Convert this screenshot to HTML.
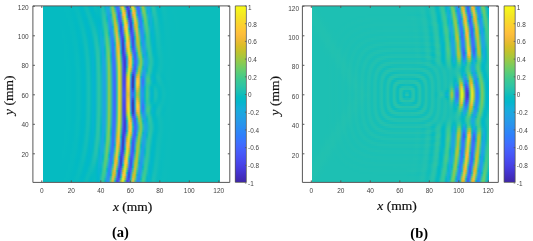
<!DOCTYPE html>
<html><head><meta charset="utf-8"><title>Wavefield figure</title>
<style>
html,body{margin:0;padding:0;background:#fff}
#f{position:relative;width:533px;height:241px;overflow:hidden;background:#fff}
.hm{position:absolute;overflow:hidden}
.hm .in{position:absolute;filter:blur(0.7px)}
.hm .in div{position:absolute;left:0;width:100%}
svg{position:absolute;left:0;top:0}
.t{font:6.5px "Liberation Sans",sans-serif;fill:#444}
.c{font:6.4px "Liberation Sans",sans-serif;fill:#444}
.l{font:13.5px "Liberation Serif",serif;fill:#111;stroke:#111;stroke-width:0.2px}
.b{font:bold 14.5px "Liberation Serif",serif;fill:#000}
</style></head><body><div id="f">
<div class="hm" style="left:42.5px;top:5.9px;width:177.1px;height:176.5px"><div class="in" style="left:-4px;top:-4px;width:184px;height:184.5px"><div style="top:0px;height:2.6px;background:linear-gradient(90deg,#05bbc1,#05bbc1,#05bbc1,#05bbc1,#05bbc1,#05bbc1,#05bbc1,#05bbc1,#05bbc1,#05bbc1,#05bbc1,#05bbc1,#05bbc1,#06bcc0,#06bbc1,#05bbc1,#04bbc1,#06bcc0,#08bcbe,#07bcbf,#02bac4,#01bac5,#06bcc0,#12beb9,#0cbdbc,#01b9c6,#01b8c9,#06bcc0,#10beba,#06bcc0,#02bac3,#17bfb6,#23c1af,#01b8c8,#1da8e0,#03b7cc,#60cd72,#80cc59,#13b0d7,#4561fc,#269ae9,#d4bf27,#fec934,#03b7cc,#4230c4,#3f6fff,#c6c22a,#fad52d,#28c3ab,#4759f9,#307ffb,#4acb85,#adc638,#2dc4a5,#21a3e3,#1caadf,#1cc0b4,#31c6a0,#1cc0b4,#01bac5,#02bac4,#0cbdbc,#12beb9,#0ebebb,#0abdbd,#0abdbd,#0bbdbc,#0cbdbc,#0cbdbc,#0bbdbc,#0bbdbc,#0bbdbc,#0bbdbc,#0bbdbc,#0bbdbc,#0bbdbc,#0bbdbc,#0bbdbc,#0bbdbc,#0bbdbc,#0bbdbc,#0bbdbc,#0bbdbc,#0bbdbc,#0bbdbc,#0bbdbc,#0bbdbc,#0bbdbc,#0bbdbc,#0bbdbc,#0bbdbc,#0bbdbc,#0bbdbc)"></div><div style="top:2px;height:2.6px;background:linear-gradient(90deg,#05bbc1,#05bbc1,#05bbc1,#05bbc1,#05bbc1,#05bbc1,#05bbc1,#05bbc1,#05bbc1,#05bbc1,#05bbc1,#05bbc1,#05bbc1,#06bcc0,#06bbc1,#05bbc1,#04bbc1,#06bcc0,#08bcbe,#07bcbf,#02bac4,#01bac5,#06bcc0,#12beb9,#0cbdbc,#01b9c6,#01b8c9,#06bcc0,#10beba,#06bcc0,#02bac3,#17bfb6,#23c1af,#01b8c8,#1da8e0,#03b7cc,#60cd72,#80cc59,#13b0d7,#4561fc,#269ae9,#d4bf27,#fec934,#03b7cc,#4230c4,#3f6fff,#c6c22a,#fad52d,#28c3ab,#4759f9,#307ffb,#4acb85,#adc638,#2dc4a5,#21a3e3,#1caadf,#1cc0b4,#31c6a0,#1cc0b4,#01bac5,#02bac4,#0cbdbc,#12beb9,#0ebebb,#0abdbd,#0abdbd,#0bbdbc,#0cbdbc,#0cbdbc,#0bbdbc,#0bbdbc,#0bbdbc,#0bbdbc,#0bbdbc,#0bbdbc,#0bbdbc,#0bbdbc,#0bbdbc,#0bbdbc,#0bbdbc,#0bbdbc,#0bbdbc,#0bbdbc,#0bbdbc,#0bbdbc,#0bbdbc,#0bbdbc,#0bbdbc,#0bbdbc,#0bbdbc,#0bbdbc,#0bbdbc,#0bbdbc)"></div><div style="top:4px;height:2.6px;background:linear-gradient(90deg,#05bbc1,#05bbc1,#05bbc1,#05bbc1,#05bbc1,#05bbc1,#05bbc1,#05bbc1,#05bbc1,#05bbc1,#05bbc1,#05bbc1,#05bbc1,#06bcc0,#06bcc0,#05bbc1,#04bbc2,#05bbc1,#08bcbf,#08bcbf,#02bbc3,#01b9c6,#04bbc2,#10beba,#0fbeba,#02bac4,#01b8c9,#04bbc2,#0fbebb,#07bcbf,#02bbc3,#15bfb7,#25c2ae,#01bac5,#1da8e0,#0bb3d2,#55cc7b,#8ecb4f,#02b7cb,#4563fc,#2d8df3,#b7c532,#fcd130,#1dc0b3,#4535d2,#465dfa,#9cc944,#f8d92b,#3dc990,#4562fc,#3975fe,#36c898,#acc738,#35c79a,#1ea7e1,#1da8e0,#13beb9,#30c5a1,#1fc0b2,#02bac4,#02bac5,#0bbdbd,#12beb9,#0fbebb,#0abdbd,#0abdbd,#0bbdbc,#0cbdbc,#0cbdbc,#0bbdbc,#0bbdbc,#0bbdbc,#0bbdbc,#0bbdbc,#0bbdbc,#0bbdbc,#0bbdbc,#0bbdbc,#0bbdbc,#0bbdbc,#0bbdbc,#0bbdbc,#0bbdbc,#0bbdbc,#0bbdbc,#0bbdbc,#0bbdbc,#0bbdbc,#0bbdbc,#0bbdbc,#0bbdbc,#0bbdbc,#0bbdbc)"></div><div style="top:6px;height:2.6px;background:linear-gradient(90deg,#05bbc1,#05bbc1,#05bbc1,#05bbc1,#05bbc1,#05bbc1,#05bbc1,#05bbc1,#05bbc1,#05bbc1,#05bbc1,#05bbc1,#05bbc1,#06bcc0,#06bcc0,#05bbc1,#04bbc2,#05bbc1,#08bcbf,#09bdbe,#05bbc1,#01b9c6,#02bac4,#0bbdbc,#13beb8,#06bcc0,#01b8c8,#01bac5,#0abdbd,#09bcbe,#03bbc2,#13beb8,#27c2ac,#08bcbf,#1da9e0,#19addc,#3eca8f,#a0c841,#24c1ae,#406cfe,#3b72fe,#6ccd68,#f8d92c,#5dcc75,#484aee,#4741e5,#40ca8d,#f9d82c,#8acb52,#337afd,#4466fd,#13beb9,#a1c840,#4bcb84,#16afda,#1fa6e2,#04bbc2,#2ec4a5,#24c1ae,#05bbc1,#02bac5,#09bcbe,#11beba,#0fbeba,#0bbdbd,#0abdbd,#0bbdbd,#0cbdbc,#0cbdbc,#0bbdbc,#0bbdbc,#0bbdbc,#0bbdbc,#0bbdbc,#0bbdbc,#0bbdbc,#0bbdbc,#0bbdbc,#0bbdbc,#0bbdbc,#0bbdbc,#0bbdbc,#0bbdbc,#0bbdbc,#0bbdbc,#0bbdbc,#0bbdbc,#0bbdbc,#0bbdbc,#0bbdbc,#0bbdbc,#0bbdbc,#0bbdbc)"></div><div style="top:8px;height:2.6px;background:linear-gradient(90deg,#05bbc1,#05bbc1,#05bbc1,#05bbc1,#05bbc1,#05bbc1,#05bbc1,#05bbc1,#05bbc1,#05bbc1,#05bbc1,#05bbc1,#05bbc1,#06bcc1,#06bcc0,#06bcc1,#04bbc1,#04bbc2,#06bcc0,#0abdbe,#07bcbf,#02bac5,#01b9c6,#07bcc0,#13beb8,#0cbdbc,#01b9c6,#01b9c7,#06bcc0,#08bcbf,#04bbc2,#11beb9,#28c3ab,#13beb8,#1babde,#1fa6e2,#2fc5a2,#a7c73c,#3fca8e,#327cfc,#465efb,#30c5a1,#f9d62d,#b5c533,#4367fd,#4332c9,#03bbc2,#fdcd31,#cbc129,#2994ed,#4660fb,#0db3d3,#8acb52,#62cd71,#05b6ce,#1fa6e2,#01b8c9,#2ac3a9,#27c2ac,#09bdbe,#02bac4,#07bcbf,#0fbeba,#0fbeba,#0cbdbc,#0abdbd,#0bbdbd,#0cbdbc,#0cbdbc,#0bbdbc,#0bbdbc,#0bbdbc,#0bbdbc,#0bbdbc,#0bbdbc,#0bbdbc,#0bbdbc,#0bbdbc,#0bbdbc,#0bbdbc,#0bbdbc,#0bbdbc,#0bbdbc,#0bbdbc,#0bbdbc,#0bbdbc,#0bbdbc,#0bbdbc,#0bbdbc,#0bbdbc,#0bbdbc,#0bbdbc,#0bbdbc)"></div><div style="top:10px;height:2.6px;background:linear-gradient(90deg,#05bbc1,#05bbc1,#05bbc1,#05bbc1,#05bbc1,#05bbc1,#05bbc1,#05bbc1,#05bbc1,#05bbc1,#05bbc1,#05bbc1,#05bbc1,#05bbc1,#06bcc0,#06bcc0,#05bbc1,#03bbc2,#05bbc1,#09bcbe,#0abdbe,#02bbc3,#01b9c7,#02bbc3,#10beba,#12beb9,#03bbc2,#01b9c7,#02bac3,#06bcc0,#04bbc2,#10beba,#29c3aa,#1ec0b2,#17aedb,#23a0e5,#1ac0b5,#a4c83e,#6bcd69,#2c8ff1,#4852f4,#02b7cb,#fdcb33,#efba35,#2d8af4,#412cb9,#22a2e4,#fbbc3d,#f1ba37,#1aabdd,#4660fc,#21a4e3,#6acd6a,#73cd63,#06bcc0,#1ea7e1,#07b5d0,#24c1ae,#28c3ab,#0ebebb,#02bac4,#06bcc0,#0ebdbb,#10beba,#0cbdbc,#0abdbd,#0bbdbd,#0cbdbc,#0cbdbc,#0bbdbc,#0bbdbc,#0bbdbc,#0bbdbc,#0bbdbc,#0bbdbc,#0bbdbc,#0bbdbc,#0bbdbc,#0bbdbc,#0bbdbc,#0bbdbc,#0bbdbc,#0bbdbc,#0bbdbc,#0bbdbc,#0bbdbc,#0bbdbc,#0bbdbc,#0bbdbc,#0bbdbc,#0bbdbc,#0bbdbc,#0bbdbc)"></div><div style="top:12px;height:2.6px;background:linear-gradient(90deg,#05bbc1,#05bbc1,#05bbc1,#05bbc1,#05bbc1,#05bbc1,#05bbc1,#05bbc1,#05bbc1,#05bbc1,#05bbc1,#05bbc1,#05bbc1,#05bbc1,#06bcc0,#06bcc0,#05bbc1,#03bbc2,#04bbc2,#08bcbf,#0bbdbd,#05bbc1,#01b9c7,#01bac6,#0bbdbd,#14bfb8,#09bcbe,#01b9c6,#01bac5,#03bbc2,#03bbc3,#0ebdbb,#2ac3a9,#27c2ac,#11b2d5,#259de7,#01b9c6,#97ca48,#97ca48,#22a2e4,#484cf0,#22a1e4,#f9bb3d,#fec934,#1ca9df,#412dbc,#2e84f9,#d7be28,#fec13a,#07bcc0,#4367fd,#2895ec,#4acb85,#7ccc5c,#1dc0b3,#1baade,#0eb2d4,#1cc0b4,#28c3ab,#13beb8,#03bbc2,#05bbc1,#0dbdbc,#0fbeba,#0dbdbc,#0bbdbd,#0bbdbd,#0bbdbc,#0cbdbc,#0bbdbc,#0bbdbc,#0bbdbc,#0bbdbc,#0bbdbc,#0bbdbc,#0bbdbc,#0bbdbc,#0bbdbc,#0bbdbc,#0bbdbc,#0bbdbc,#0bbdbc,#0bbdbc,#0bbdbc,#0bbdbc,#0bbdbc,#0bbdbc,#0bbdbc,#0bbdbc,#0bbdbc,#0bbdbc,#0bbdbc,#0bbdbc)"></div><div style="top:14px;height:2.6px;background:linear-gradient(90deg,#05bbc1,#05bbc1,#05bbc1,#05bbc1,#05bbc1,#05bbc1,#05bbc1,#05bbc1,#05bbc1,#05bbc1,#05bbc1,#05bbc1,#05bbc1,#05bbc1,#06bcc0,#06bcc0,#06bcc0,#04bbc2,#03bbc2,#07bcc0,#0bbdbc,#08bcbf,#01bac5,#01b9c7,#06bcc0,#14beb8,#0ebebb,#02bac3,#01b9c6,#02bac5,#02bac4,#0abdbd,#2ac3a9,#2dc4a5,#06b5cf,#269be8,#10b2d5,#80cc59,#b6c532,#0cb3d3,#484ef1,#2e87f7,#d3bf27,#f8da2b,#11beb9,#4434cf,#4465fd,#9ac945,#fec835,#33c69d,#3b73fe,#2d88f6,#33c69d,#7ccc5c,#2dc4a6,#17aeda,#13b0d7,#12beb9,#27c2ab,#18bfb6,#05bbc1,#05bbc1,#0bbdbd,#0fbebb,#0dbdbc,#0bbdbd,#0bbdbd,#0bbdbc,#0cbdbc,#0cbdbc,#0bbdbc,#0bbdbc,#0bbdbc,#0bbdbc,#0bbdbc,#0bbdbc,#0bbdbc,#0bbdbc,#0bbdbc,#0bbdbc,#0bbdbc,#0bbdbc,#0bbdbc,#0bbdbc,#0bbdbc,#0bbdbc,#0bbdbc,#0bbdbc,#0bbdbc,#0bbdbc,#0bbdbc,#0bbdbc,#0bbdbc)"></div><div style="top:16px;height:2.6px;background:linear-gradient(90deg,#05bbc1,#05bbc1,#05bbc1,#05bbc1,#05bbc1,#05bbc1,#05bbc1,#05bbc1,#05bbc1,#05bbc1,#05bbc1,#05bbc1,#05bbc1,#05bbc1,#05bbc1,#06bcc0,#06bcc0,#04bbc2,#02bbc3,#05bbc1,#0bbdbd,#0bbdbd,#02bac3,#01b8c8,#02bac3,#11beba,#13beb8,#06bcc0,#01bac6,#01b9c6,#01b9c7,#07bcbf,#29c3aa,#31c6a0,#01b9c7,#269ae8,#1da9e0,#64cd6f,#cbc129,#16bfb7,#4855f6,#406dfe,#97ca48,#f5e327,#45cb89,#4743e7,#484ef1,#53cc7e,#fec934,#5ecd74,#2f83f9,#307ffb,#1ec0b2,#76cc61,#35c79a,#0fb2d4,#15afd9,#09bcbe,#26c2ad,#1bc0b4,#07bcc0,#05bbc1,#0abdbd,#0fbebb,#0dbdbb,#0bbdbd,#0bbdbd,#0bbdbc,#0cbdbc,#0cbdbc,#0bbdbc,#0bbdbc,#0bbdbc,#0bbdbc,#0bbdbc,#0bbdbc,#0bbdbc,#0bbdbc,#0bbdbc,#0bbdbc,#0bbdbc,#0bbdbc,#0bbdbc,#0bbdbc,#0bbdbc,#0bbdbc,#0bbdbc,#0bbdbc,#0bbdbc,#0bbdbc,#0bbdbc,#0bbdbc,#0bbdbc)"></div><div style="top:18px;height:2.6px;background:linear-gradient(90deg,#05bbc1,#05bbc1,#05bbc1,#05bbc1,#05bbc1,#05bbc1,#05bbc1,#05bbc1,#05bbc1,#05bbc1,#05bbc1,#05bbc1,#05bbc1,#05bbc1,#05bbc1,#06bcc0,#07bcc0,#05bbc1,#02bbc3,#04bbc2,#09bdbe,#0dbdbc,#05bbc1,#01b9c8,#01b9c6,#0bbdbc,#15bfb7,#0bbdbd,#02bac4,#01b9c7,#01b8c9,#03bbc2,#27c2ab,#35c79b,#0abdbe,#259ce7,#239fe5,#46cb88,#d5be28,#37c898,#4660fc,#4758f8,#50cc7f,#f5e427,#90ca4d,#4758f8,#463de0,#27c2ab,#fec338,#93ca4b,#2a93ee,#3579fd,#02bac4,#6acd6a,#3eca90,#05b6cd,#15afd9,#03bbc2,#23c1af,#1dc0b3,#09bcbe,#05bbc1,#09bdbe,#0ebdbb,#0dbdbb,#0bbdbc,#0bbdbd,#0bbdbc,#0cbdbc,#0cbdbc,#0bbdbc,#0bbdbc,#0bbdbc,#0bbdbc,#0bbdbc,#0bbdbc,#0bbdbc,#0bbdbc,#0bbdbc,#0bbdbc,#0bbdbc,#0bbdbc,#0bbdbc,#0bbdbc,#0bbdbc,#0bbdbc,#0bbdbc,#0bbdbc,#0bbdbc,#0bbdbc,#0bbdbc,#0bbdbc,#0bbdbc)"></div><div style="top:20px;height:2.6px;background:linear-gradient(90deg,#05bbc1,#05bbc1,#05bbc1,#05bbc1,#05bbc1,#05bbc1,#05bbc1,#05bbc1,#05bbc1,#05bbc1,#05bbc1,#06bbc1,#05bbc1,#05bbc1,#05bbc1,#06bcc0,#07bcc0,#06bcc1,#03bbc3,#02bbc3,#08bcbf,#0ebdbb,#08bcbf,#01b9c7,#01b8c8,#07bcbf,#15bfb7,#11beba,#05bbc1,#01b9c8,#02b7cb,#01b9c6,#24c2ae,#38c896,#1bc0b4,#249fe5,#2797eb,#32c69f,#d8be28,#5fcd73,#3c71ff,#4849ed,#26c2ac,#f6de29,#cfc028,#3b72ff,#4435d0,#05b6ce,#fabb3d,#bcc42f,#22a2e4,#3777fe,#0db3d4,#5bcc77,#47cb87,#01b9c6,#15afd9,#01b9c6,#1fc1b1,#1ec0b2,#0bbdbd,#05bbc1,#09bcbe,#0dbdbb,#0dbdbb,#0cbdbc,#0bbdbd,#0bbdbd,#0bbdbc,#0cbdbc,#0bbdbc,#0bbdbc,#0bbdbc,#0bbdbc,#0bbdbc,#0bbdbc,#0bbdbc,#0bbdbc,#0bbdbc,#0bbdbc,#0bbdbc,#0bbdbc,#0bbdbc,#0bbdbc,#0bbdbc,#0bbdbc,#0bbdbc,#0bbdbc,#0bbdbc,#0bbdbc,#0bbdbc,#0bbdbc,#0bbdbc)"></div><div style="top:22px;height:2.6px;background:linear-gradient(90deg,#05bbc1,#05bbc1,#05bbc1,#05bbc1,#05bbc1,#05bbc1,#05bbc1,#05bbc1,#05bbc1,#05bbc1,#05bbc1,#06bbc1,#05bbc1,#05bbc1,#05bbc1,#06bcc0,#07bcc0,#06bcc0,#03bbc2,#02bac3,#06bcc0,#0dbdbb,#0bbdbd,#02bac5,#01b8c9,#03bbc3,#12beb9,#15bfb7,#09bcbe,#01b9c7,#04b6cd,#01b8ca,#1fc0b1,#3ac994,#28c3aa,#21a3e3,#2b90ef,#1dc0b3,#d4bf27,#8fca4d,#2e85f8,#473fe2,#06b5cf,#fbd32e,#f7ba3c,#2d8df2,#4331c8,#21a3e3,#e6bb2d,#d7be28,#13b0d7,#3579fd,#1baade,#49cb85,#4ecc81,#08bcbe,#13b0d7,#01b8c9,#1bc0b4,#1ec0b2,#0dbdbb,#06bcc0,#08bcbe,#0dbdbc,#0dbdbb,#0cbdbc,#0bbdbd,#0bbdbd,#0bbdbc,#0cbdbc,#0bbdbc,#0bbdbc,#0bbdbc,#0bbdbc,#0bbdbc,#0bbdbc,#0bbdbc,#0bbdbc,#0bbdbc,#0bbdbc,#0bbdbc,#0bbdbc,#0bbdbc,#0bbdbc,#0bbdbc,#0bbdbc,#0bbdbc,#0bbdbc,#0bbdbc,#0bbdbc,#0bbdbc,#0bbdbc,#0bbdbc)"></div><div style="top:24px;height:2.6px;background:linear-gradient(90deg,#05bbc1,#05bbc1,#05bbc1,#05bbc1,#05bbc1,#05bbc1,#05bbc1,#05bbc1,#05bbc1,#05bbc1,#05bbc1,#06bbc1,#06bbc1,#05bbc1,#05bbc1,#05bbc1,#07bcc0,#07bcc0,#04bbc2,#02bac4,#04bbc2,#0cbdbc,#0ebdbb,#03bbc3,#01b8c9,#01b9c6,#0ebdbb,#18bfb6,#0fbebb,#02bac5,#05b6ce,#04b6cd,#18bfb6,#3bc992,#31c5a1,#1da9e0,#2d8bf3,#02bac5,#c9c129,#b7c532,#2797ea,#463adb,#22a2e4,#fec438,#fec934,#1fa5e2,#4332ca,#2c8ef1,#c7c12a,#e7bb2e,#02bac3,#317dfc,#22a2e4,#3bc993,#52cc7e,#15bfb7,#10b2d5,#03b7cc,#17bfb7,#1ec0b2,#0fbeba,#07bcc0,#08bcbf,#0cbdbc,#0dbdbb,#0cbdbc,#0bbdbd,#0bbdbd,#0bbdbc,#0cbdbc,#0bbdbc,#0bbdbc,#0bbdbc,#0bbdbc,#0bbdbc,#0bbdbc,#0bbdbc,#0bbdbc,#0bbdbc,#0bbdbc,#0bbdbc,#0bbdbc,#0bbdbc,#0bbdbc,#0bbdbc,#0bbdbc,#0bbdbc,#0bbdbc,#0bbdbc,#0bbdbc,#0bbdbc,#0bbdbc,#0bbdbc)"></div><div style="top:26px;height:2.6px;background:linear-gradient(90deg,#05bbc1,#05bbc1,#05bbc1,#05bbc1,#05bbc1,#05bbc1,#05bbc1,#05bbc1,#05bbc1,#05bbc1,#05bbc1,#06bbc1,#06bbc1,#05bbc1,#05bbc1,#05bbc1,#07bcc0,#07bcbf,#05bbc1,#02bac4,#03bbc3,#0abdbd,#10beba,#06bcc0,#01b8c9,#01b8c8,#09bdbe,#19bfb5,#15bfb8,#03bbc2,#05b6ce,#08b4d0,#0fbebb,#3bc993,#37c897,#17aeda,#2d88f6,#10b2d5,#b8c431,#d4bf28,#1da9e0,#463ada,#2d8cf3,#f0ba36,#f9d82c,#01b8ca,#4537d5,#3479fd,#9ec942,#f0ba36,#24c1ae,#2e83f9,#259be8,#31c6a0,#52cc7e,#21c1b1,#0cb3d2,#05b6cd,#12beb9,#1ec0b2,#11beb9,#07bcbf,#08bcbf,#0cbdbc,#0dbdbb,#0cbdbc,#0bbdbd,#0bbdbd,#0bbdbc,#0cbdbc,#0bbdbc,#0bbdbc,#0bbdbc,#0bbdbc,#0bbdbc,#0bbdbc,#0bbdbc,#0bbdbc,#0bbdbc,#0bbdbc,#0bbdbc,#0bbdbc,#0bbdbc,#0bbdbc,#0bbdbc,#0bbdbc,#0bbdbc,#0bbdbc,#0bbdbc,#0bbdbc,#0bbdbc,#0bbdbc,#0bbdbc)"></div><div style="top:28px;height:2.6px;background:linear-gradient(90deg,#05bbc1,#05bbc1,#05bbc1,#05bbc1,#05bbc1,#05bbc1,#05bbc1,#05bbc1,#05bbc1,#05bbc1,#05bbc1,#05bbc1,#06bcc1,#05bbc1,#05bbc1,#05bbc1,#06bcc0,#07bcbf,#06bcc0,#02bac3,#02bac4,#08bcbf,#10beba,#09bcbe,#01b9c7,#01b8ca,#05bbc1,#18bfb6,#1abfb5,#08bcbf,#05b6ce,#0db3d3,#06bcc0,#39c994,#40ca8d,#0bb4d2,#2e87f7,#1da8e0,#a1c840,#e7bb2e,#03b7cc,#463de0,#3975fe,#ccc028,#f5e128,#28c3aa,#473fe3,#4366fd,#6ecd67,#f3ba38,#36c899,#2d8bf4,#2896ec,#27c2ab,#51cc7f,#28c3ab,#07b5cf,#06b5ce,#0dbdbb,#1dc0b3,#13beb8,#08bcbf,#08bcbf,#0bbdbd,#0dbdbb,#0cbdbc,#0bbdbc,#0bbdbd,#0bbdbc,#0bbdbc,#0bbdbc,#0bbdbc,#0bbdbc,#0bbdbc,#0bbdbc,#0bbdbc,#0bbdbc,#0bbdbc,#0bbdbc,#0bbdbc,#0bbdbc,#0bbdbc,#0bbdbc,#0bbdbc,#0bbdbc,#0bbdbc,#0bbdbc,#0bbdbc,#0bbdbc,#0bbdbc,#0bbdbc,#0bbdbc,#0bbdbc)"></div><div style="top:30px;height:2.6px;background:linear-gradient(90deg,#05bbc1,#05bbc1,#05bbc1,#05bbc1,#05bbc1,#05bbc1,#05bbc1,#05bbc1,#05bbc1,#05bbc1,#05bbc1,#05bbc1,#06bcc1,#05bbc1,#05bbc1,#05bbc1,#06bcc0,#08bcbf,#07bcc0,#02bbc3,#02bac4,#06bcc0,#10beba,#0cbdbc,#01bac6,#02b7cb,#02bac4,#15bfb7,#1dc0b3,#0dbdbc,#03b7cc,#11b1d5,#01bac5,#37c898,#49cb85,#01b8c9,#2e87f7,#249ee6,#85cb55,#f3ba38,#1dc0b3,#4744e8,#4660fc,#9bc944,#f5e625,#48cb86,#484cef,#4758f8,#43ca8a,#f2ba37,#4dcc82,#2a93ed,#2b92ee,#18bfb6,#4ccb82,#2dc4a5,#03b7cc,#06b5cf,#0abdbe,#1cc0b4,#14bfb8,#09bcbe,#08bcbf,#0bbdbd,#0dbdbc,#0cbdbc,#0bbdbc,#0bbdbd,#0bbdbc,#0bbdbc,#0bbdbc,#0bbdbc,#0bbdbc,#0bbdbc,#0bbdbc,#0bbdbc,#0bbdbc,#0bbdbc,#0bbdbc,#0bbdbc,#0bbdbc,#0bbdbc,#0bbdbc,#0bbdbc,#0bbdbc,#0bbdbc,#0bbdbc,#0bbdbc,#0bbdbc,#0bbdbc,#0bbdbc,#0bbdbc,#0bbdbc)"></div><div style="top:32px;height:2.6px;background:linear-gradient(90deg,#05bbc1,#05bbc1,#05bbc1,#05bbc1,#05bbc1,#05bbc1,#05bbc1,#05bbc1,#05bbc1,#05bbc1,#05bbc1,#05bbc1,#06bcc1,#06bbc1,#05bbc1,#05bbc1,#06bbc1,#07bcbf,#07bcbf,#03bbc2,#02bac5,#04bbc1,#0fbebb,#10beba,#02bac3,#02b7cb,#01b9c7,#11beba,#1fc1b1,#14beb8,#01b8ca,#13b0d7,#01b7ca,#34c79c,#53cc7e,#09bcbe,#2d89f5,#2994ed,#66cd6d,#f9bb3d,#36c898,#484df1,#4850f3,#64cd6f,#f5e725,#7dcc5c,#475af9,#484ef1,#2cc4a6,#ecba33,#69cd6b,#259ce7,#2c8ff0,#07bcc0,#47cb87,#30c5a1,#01b8c9,#06b5cf,#07bcbf,#1ac0b4,#15bfb7,#0abdbd,#08bcbf,#0abdbd,#0dbdbc,#0cbdbc,#0bbdbc,#0bbdbd,#0bbdbc,#0bbdbc,#0bbdbc,#0bbdbc,#0bbdbc,#0bbdbc,#0bbdbc,#0bbdbc,#0bbdbc,#0bbdbc,#0bbdbc,#0bbdbc,#0bbdbc,#0bbdbc,#0bbdbc,#0bbdbc,#0bbdbc,#0bbdbc,#0bbdbc,#0bbdbc,#0bbdbc,#0bbdbc,#0bbdbc,#0bbdbc,#0bbdbc)"></div><div style="top:34px;height:2.6px;background:linear-gradient(90deg,#05bbc1,#05bbc1,#05bbc1,#05bbc1,#05bbc1,#05bbc1,#05bbc1,#05bbc1,#05bbc1,#05bbc1,#05bbc1,#05bbc1,#06bcc1,#06bcc0,#05bbc1,#05bbc1,#05bbc1,#07bcbf,#08bcbf,#04bbc2,#02bac5,#03bbc3,#0dbdbc,#12beb9,#05bbc1,#02b7cb,#01b8c9,#0cbdbc,#20c1b1,#1ac0b5,#01b9c8,#14b0d8,#07b5cf,#31c5a1,#5acc78,#1bc0b4,#2d8cf3,#2d8bf4,#49cb85,#fcbc3d,#58cc79,#4759f8,#4743e7,#39c895,#f5e526,#aec637,#416bfe,#4746ea,#0abdbd,#e4bb2c,#83cc57,#20a4e3,#2c8ef1,#01b8c8,#41ca8c,#33c69e,#02bac5,#06b5cf,#05bbc1,#19bfb5,#16bfb7,#0bbdbd,#08bcbf,#0abdbd,#0cbdbc,#0cbdbc,#0bbdbc,#0bbdbc,#0bbdbc,#0bbdbc,#0bbdbc,#0bbdbc,#0bbdbc,#0bbdbc,#0bbdbc,#0bbdbc,#0bbdbc,#0bbdbc,#0bbdbc,#0bbdbc,#0bbdbc,#0bbdbc,#0bbdbc,#0bbdbc,#0bbdbc,#0bbdbc,#0bbdbc,#0bbdbc,#0bbdbc,#0bbdbc,#0bbdbc,#0bbdbc,#0bbdbc)"></div><div style="top:36px;height:2.6px;background:linear-gradient(90deg,#05bbc1,#05bbc1,#05bbc1,#05bbc1,#05bbc1,#05bbc1,#05bbc1,#05bbc1,#05bbc1,#05bbc1,#05bbc1,#05bbc1,#06bbc1,#06bcc0,#05bbc1,#05bbc1,#05bbc1,#07bcc0,#08bcbf,#05bbc1,#02bac5,#02bac4,#0bbdbd,#13beb8,#08bcbf,#01b8ca,#02b7cb,#08bcbf,#20c1b1,#1fc0b2,#02bac5,#14b0d8,#0db3d3,#2dc4a6,#5fcd73,#2ac3a9,#2c90f0,#2e83f9,#35c79b,#fcbc3d,#81cc58,#4366fd,#463ada,#1ec0b2,#f6df29,#d3bf27,#317dfc,#4741e5,#08b4d0,#d7be28,#98c947,#1aacdd,#2c8ef1,#07b5cf,#3cc992,#34c79b,#04bbc2,#06b5ce,#03bbc3,#17bfb6,#16bfb7,#0bbdbc,#08bcbf,#0abdbd,#0cbdbc,#0cbdbc,#0cbdbc,#0bbdbc,#0bbdbc,#0bbdbc,#0bbdbc,#0bbdbc,#0bbdbc,#0bbdbc,#0bbdbc,#0bbdbc,#0bbdbc,#0bbdbc,#0bbdbc,#0bbdbc,#0bbdbc,#0bbdbc,#0bbdbc,#0bbdbc,#0bbdbc,#0bbdbc,#0bbdbc,#0bbdbc,#0bbdbc,#0bbdbc,#0bbdbc,#0bbdbc,#0bbdbc)"></div><div style="top:38px;height:2.6px;background:linear-gradient(90deg,#05bbc1,#05bbc1,#05bbc1,#05bbc1,#05bbc1,#05bbc1,#05bbc1,#05bbc1,#05bbc1,#05bbc1,#05bbc1,#05bbc1,#06bbc1,#06bcc0,#05bbc1,#05bbc1,#05bbc1,#07bcc0,#08bcbe,#06bcc0,#02bac4,#02bac5,#09bcbe,#14beb8,#0bbdbd,#01b8c8,#03b7cc,#04bbc2,#1fc0b2,#23c1af,#05bbc1,#14b0d8,#13b0d7,#27c2ac,#62cd71,#32c69f,#2895ec,#327cfc,#26c2ac,#fabb3d,#a7c73c,#3876fe,#4434ce,#02b7cb,#f9d72c,#edba34,#2c8ef1,#473fe3,#1caadf,#c7c12a,#a9c73b,#0db3d4,#2c8ff1,#10b2d5,#36c898,#36c799,#09bcbe,#05b6ce,#02bac4,#15bfb7,#16bfb7,#0cbdbc,#09bcbe,#0abdbd,#0cbdbc,#0cbdbc,#0cbdbc,#0bbdbc,#0bbdbc,#0bbdbc,#0bbdbc,#0bbdbc,#0bbdbc,#0bbdbc,#0bbdbc,#0bbdbc,#0bbdbc,#0bbdbc,#0bbdbc,#0bbdbc,#0bbdbc,#0bbdbc,#0bbdbc,#0bbdbc,#0bbdbc,#0bbdbc,#0bbdbc,#0bbdbc,#0bbdbc,#0bbdbc,#0bbdbc,#0bbdbc,#0bbdbc)"></div><div style="top:40px;height:2.6px;background:linear-gradient(90deg,#05bbc1,#05bbc1,#05bbc1,#05bbc1,#05bbc1,#05bbc1,#05bbc1,#05bbc1,#05bbc1,#05bbc1,#05bbc1,#05bbc1,#06bbc1,#06bcc0,#05bbc1,#05bbc1,#04bbc1,#06bcc0,#09bcbe,#07bcc0,#02bac4,#01bac5,#07bcbf,#14beb8,#0ebdbb,#01b9c7,#04b6cd,#02bac4,#1dc0b3,#26c2ad,#09bdbe,#13b0d7,#17aeda,#20c1b1,#63cd70,#3ac994,#269ae8,#3876fe,#0bbdbc,#f6ba3c,#c5c22a,#2e85f8,#4330c5,#1babde,#fdcd32,#febd3c,#249ee6,#4740e3,#249ee6,#b2c635,#b5c533,#01b8c9,#2b91ef,#17aeda,#32c69e,#37c898,#0ebdbb,#04b6cc,#02bac5,#13beb8,#16bfb7,#0dbdbc,#09bcbe,#0abdbd,#0cbdbc,#0cbdbc,#0cbdbc,#0bbdbc,#0bbdbc,#0bbdbc,#0bbdbc,#0bbdbc,#0bbdbc,#0bbdbc,#0bbdbc,#0bbdbc,#0bbdbc,#0bbdbc,#0bbdbc,#0bbdbc,#0bbdbc,#0bbdbc,#0bbdbc,#0bbdbc,#0bbdbc,#0bbdbc,#0bbdbc,#0bbdbc,#0bbdbc,#0bbdbc,#0bbdbc,#0bbdbc,#0bbdbc)"></div><div style="top:42px;height:2.6px;background:linear-gradient(90deg,#05bbc1,#05bbc1,#05bbc1,#05bbc1,#05bbc1,#05bbc1,#05bbc1,#05bbc1,#05bbc1,#05bbc1,#05bbc1,#05bbc1,#05bbc1,#06bcc0,#06bcc1,#05bbc1,#04bbc2,#06bcc0,#08bcbe,#08bcbf,#02bac3,#01b9c6,#05bbc1,#13beb9,#11beb9,#01bac5,#05b6cd,#01b9c7,#1abfb5,#28c2ab,#0fbeba,#12b1d6,#1aacdd,#16bfb7,#63cd70,#45cb89,#239fe5,#3c71ff,#02b7cb,#f0ba36,#dcbd29,#2a93ee,#422fc0,#259ce7,#fec139,#fec834,#19acdc,#4742e6,#2b92ee,#99c946,#bec32e,#0abdbd,#2994ed,#1babde,#2ec5a4,#37c897,#14beb8,#02b7cb,#01b9c6,#11beba,#16bfb7,#0ebdbb,#09bcbe,#0abdbd,#0cbdbc,#0cbdbc,#0cbdbc,#0bbdbc,#0bbdbc,#0bbdbc,#0bbdbc,#0bbdbc,#0bbdbc,#0bbdbc,#0bbdbc,#0bbdbc,#0bbdbc,#0bbdbc,#0bbdbc,#0bbdbc,#0bbdbc,#0bbdbc,#0bbdbc,#0bbdbc,#0bbdbc,#0bbdbc,#0bbdbc,#0bbdbc,#0bbdbc,#0bbdbc,#0bbdbc,#0bbdbc,#0bbdbc)"></div><div style="top:44px;height:2.6px;background:linear-gradient(90deg,#05bbc1,#05bbc1,#05bbc1,#05bbc1,#05bbc1,#05bbc1,#05bbc1,#05bbc1,#05bbc1,#05bbc1,#05bbc1,#05bbc1,#05bbc1,#06bcc0,#06bcc0,#05bbc1,#04bbc2,#05bbc1,#08bcbe,#08bcbf,#02bbc3,#01b9c6,#03bbc2,#11beb9,#14beb8,#02bac3,#05b6cd,#01b8c9,#16bfb7,#29c3aa,#16bfb7,#10b2d5,#1baade,#0bbdbc,#61cd71,#52cc7e,#20a5e2,#3f6eff,#13b1d7,#e7bb2d,#edba34,#23a0e5,#422ebf,#2d8df3,#f3ba38,#fbd22f,#01b9c7,#4747eb,#2e85f8,#79cc5f,#c4c22b,#21c1b0,#2797ea,#1ea8e1,#28c3aa,#37c898,#1ac0b5,#01b8ca,#01b9c6,#0fbebb,#16bfb7,#0fbebb,#09bdbe,#0abdbe,#0bbdbc,#0cbdbc,#0cbdbc,#0bbdbc,#0bbdbc,#0bbdbc,#0bbdbc,#0bbdbc,#0bbdbc,#0bbdbc,#0bbdbc,#0bbdbc,#0bbdbc,#0bbdbc,#0bbdbc,#0bbdbc,#0bbdbc,#0bbdbc,#0bbdbc,#0bbdbc,#0bbdbc,#0bbdbc,#0bbdbc,#0bbdbc,#0bbdbc,#0bbdbc,#0bbdbc,#0bbdbc,#0bbdbc)"></div><div style="top:46px;height:2.6px;background:linear-gradient(90deg,#05bbc1,#05bbc1,#05bbc1,#05bbc1,#05bbc1,#05bbc1,#05bbc1,#05bbc1,#05bbc1,#05bbc1,#05bbc1,#05bbc1,#05bbc1,#06bcc0,#06bcc0,#05bbc1,#04bbc2,#05bbc1,#08bcbf,#09bcbe,#03bbc2,#01b9c6,#02bac3,#10beba,#15bfb7,#04bbc1,#04b6cd,#02b7cb,#12beb9,#2ac3a9,#1cc0b4,#0db3d3,#1da9e0,#04bbc2,#5ecd74,#5ecd74,#1baadf,#406cfe,#1da9e0,#dbbd29,#f9bb3d,#1aabdd,#422fc2,#327cfc,#d8be28,#f8db2b,#27c2ab,#4850f3,#3876fe,#54cc7d,#c7c12a,#30c5a1,#259de7,#20a4e3,#1fc0b2,#36c899,#20c1b1,#01b9c8,#01b9c7,#0cbdbc,#15bfb7,#0fbeba,#0abdbd,#0abdbe,#0bbdbc,#0cbdbc,#0cbdbc,#0bbdbc,#0bbdbc,#0bbdbc,#0bbdbc,#0bbdbc,#0bbdbc,#0bbdbc,#0bbdbc,#0bbdbc,#0bbdbc,#0bbdbc,#0bbdbc,#0bbdbc,#0bbdbc,#0bbdbc,#0bbdbc,#0bbdbc,#0bbdbc,#0bbdbc,#0bbdbc,#0bbdbc,#0bbdbc,#0bbdbc,#0bbdbc,#0bbdbc,#0bbdbc)"></div><div style="top:48px;height:2.6px;background:linear-gradient(90deg,#05bbc1,#05bbc1,#05bbc1,#05bbc1,#05bbc1,#05bbc1,#05bbc1,#05bbc1,#05bbc1,#05bbc1,#05bbc1,#05bbc1,#05bbc1,#06bcc0,#06bcc0,#05bbc1,#04bbc2,#05bbc1,#08bcbf,#09bcbe,#04bbc1,#01b9c6,#02bac4,#0ebdbb,#17bfb6,#07bcc0,#04b6cd,#04b6cc,#0ebdbb,#2ac3a9,#21c1b1,#09b4d1,#1ea7e1,#01b9c7,#5bcc77,#69cd6b,#16afd9,#416bfe,#23a1e4,#cec028,#fec03b,#07b5d0,#4332c9,#4269fe,#adc638,#f6e028,#4bcb84,#465efb,#4367fd,#33c79d,#c3c22b,#40ca8d,#21a3e3,#22a1e4,#0fbeba,#35c79b,#25c2ae,#01bac5,#01b9c7,#0abdbd,#14beb8,#10beba,#0abdbd,#0abdbe,#0bbdbd,#0cbdbc,#0cbdbc,#0bbdbc,#0bbdbc,#0bbdbc,#0bbdbc,#0bbdbc,#0bbdbc,#0bbdbc,#0bbdbc,#0bbdbc,#0bbdbc,#0bbdbc,#0bbdbc,#0bbdbc,#0bbdbc,#0bbdbc,#0bbdbc,#0bbdbc,#0bbdbc,#0bbdbc,#0bbdbc,#0bbdbc,#0bbdbc,#0bbdbc,#0bbdbc,#0bbdbc,#0bbdbc)"></div><div style="top:50px;height:2.6px;background:linear-gradient(90deg,#05bbc1,#05bbc1,#05bbc1,#05bbc1,#05bbc1,#05bbc1,#05bbc1,#05bbc1,#05bbc1,#05bbc1,#05bbc1,#05bbc1,#05bbc1,#06bcc0,#06bcc0,#05bbc1,#04bbc2,#04bbc1,#08bcbf,#09bdbe,#05bbc1,#01b9c6,#01bac5,#0cbdbc,#18bfb6,#09bcbe,#03b7cc,#05b6ce,#0abdbd,#2ac3a9,#25c2ae,#06b5cf,#1ea6e1,#02b7cb,#56cc7b,#74cd62,#0cb3d3,#416afe,#2699e9,#bfc32d,#fec636,#07bcc0,#4536d2,#4759f8,#71cd64,#f6e028,#90ca4d,#3974fe,#475bf9,#0ebdbb,#b7c532,#5ccc76,#19acdc,#239fe5,#02bac4,#32c69f,#29c3aa,#04bbc2,#01b9c7,#08bcbf,#13beb9,#11beba,#0bbdbd,#0abdbd,#0bbdbd,#0cbdbc,#0cbdbc,#0bbdbc,#0bbdbc,#0bbdbc,#0bbdbc,#0bbdbc,#0bbdbc,#0bbdbc,#0bbdbc,#0bbdbc,#0bbdbc,#0bbdbc,#0bbdbc,#0bbdbc,#0bbdbc,#0bbdbc,#0bbdbc,#0bbdbc,#0bbdbc,#0bbdbc,#0bbdbc,#0bbdbc,#0bbdbc,#0bbdbc,#0bbdbc,#0bbdbc,#0bbdbc)"></div><div style="top:52px;height:2.6px;background:linear-gradient(90deg,#05bbc1,#05bbc1,#05bbc1,#05bbc1,#05bbc1,#05bbc1,#05bbc1,#05bbc1,#05bbc1,#05bbc1,#05bbc1,#05bbc1,#05bbc1,#06bcc0,#06bcc0,#05bbc1,#04bbc2,#04bbc2,#07bcbf,#0abdbe,#06bcc0,#01b9c6,#01b9c6,#0abdbd,#18bfb6,#0bbdbc,#02b7cb,#06b5cf,#07bcbf,#2ac3a9,#28c2ab,#04b6cd,#1fa6e2,#07b5cf,#52cc7e,#7dcc5b,#03b7cc,#416bfe,#2b92ef,#afc637,#fdcb33,#23c1af,#463bdd,#484aee,#39c895,#f8d92c,#d0c028,#2c90f0,#4755f6,#13b0d8,#9ec942,#78cc5f,#07b5cf,#239fe5,#04b6cd,#2ec4a5,#2cc4a7,#09bcbe,#01b9c7,#06bcc0,#11beba,#11beb9,#0cbdbc,#0abdbd,#0bbdbd,#0cbdbc,#0cbdbc,#0bbdbc,#0bbdbc,#0bbdbc,#0bbdbc,#0bbdbc,#0bbdbc,#0bbdbc,#0bbdbc,#0bbdbc,#0bbdbc,#0bbdbc,#0bbdbc,#0bbdbc,#0bbdbc,#0bbdbc,#0bbdbc,#0bbdbc,#0bbdbc,#0bbdbc,#0bbdbc,#0bbdbc,#0bbdbc,#0bbdbc,#0bbdbc,#0bbdbc,#0bbdbc)"></div><div style="top:54px;height:2.6px;background:linear-gradient(90deg,#05bbc1,#05bbc1,#05bbc1,#05bbc1,#05bbc1,#05bbc1,#05bbc1,#05bbc1,#05bbc1,#05bbc1,#05bbc1,#05bbc1,#05bbc1,#06bcc0,#06bcc0,#05bbc1,#04bbc2,#04bbc2,#07bcc0,#0abdbd,#07bcc0,#01bac5,#01b9c6,#09bcbe,#18bfb6,#0ebebb,#01b8ca,#07b5d0,#05bbc1,#29c3aa,#2ac3a9,#01b7ca,#1fa5e2,#0db3d3,#4dcb82,#85cb55,#01bac5,#416cfe,#2d8bf4,#9dc943,#fdce31,#32c69e,#4743e7,#473ee1,#12beb9,#fdcb32,#f5ba3b,#1ca9df,#4755f6,#249ee6,#7acc5e,#8ccb50,#07bcbf,#22a2e4,#0eb2d4,#27c2ab,#2dc4a6,#10beba,#01b9c6,#04bbc2,#0fbebb,#11beb9,#0dbdbc,#0abdbd,#0bbdbd,#0cbdbc,#0cbdbc,#0cbdbc,#0bbdbc,#0bbdbc,#0bbdbc,#0bbdbc,#0bbdbc,#0bbdbc,#0bbdbc,#0bbdbc,#0bbdbc,#0bbdbc,#0bbdbc,#0bbdbc,#0bbdbc,#0bbdbc,#0bbdbc,#0bbdbc,#0bbdbc,#0bbdbc,#0bbdbc,#0bbdbc,#0bbdbc,#0bbdbc,#0bbdbc,#0bbdbc,#0bbdbc)"></div><div style="top:56px;height:2.6px;background:linear-gradient(90deg,#05bbc1,#05bbc1,#05bbc1,#05bbc1,#05bbc1,#05bbc1,#05bbc1,#05bbc1,#05bbc1,#05bbc1,#05bbc1,#05bbc1,#05bbc1,#06bcc1,#06bcc0,#06bbc1,#04bbc2,#04bbc2,#07bcc0,#0abdbd,#07bcbf,#02bac5,#01b9c7,#07bcbf,#18bfb6,#11beba,#01b8c9,#08b4d0,#02bbc3,#28c3aa,#2cc4a7,#01b8c8,#20a5e2,#12b1d7,#48cb86,#8ccb50,#09bcbe,#406dfe,#2e84f8,#8ccb50,#fcd12f,#40ca8d,#484aee,#4537d5,#0cb3d3,#fdbd3d,#fec338,#01b9c7,#475bfa,#2c90f0,#58cc79,#94ca4a,#1fc0b2,#20a5e2,#15afd9,#20c1b1,#2dc4a6,#15bfb7,#02bac4,#03bbc2,#0dbdbc,#11beba,#0dbdbb,#0abdbd,#0bbdbd,#0bbdbc,#0cbdbc,#0cbdbc,#0bbdbc,#0bbdbc,#0bbdbc,#0bbdbc,#0bbdbc,#0bbdbc,#0bbdbc,#0bbdbc,#0bbdbc,#0bbdbc,#0bbdbc,#0bbdbc,#0bbdbc,#0bbdbc,#0bbdbc,#0bbdbc,#0bbdbc,#0bbdbc,#0bbdbc,#0bbdbc,#0bbdbc,#0bbdbc,#0bbdbc,#0bbdbc,#0bbdbc)"></div><div style="top:58px;height:2.6px;background:linear-gradient(90deg,#05bbc1,#05bbc1,#05bbc1,#05bbc1,#05bbc1,#05bbc1,#05bbc1,#05bbc1,#05bbc1,#05bbc1,#05bbc1,#05bbc1,#05bbc1,#06bbc1,#06bcc0,#06bcc0,#04bbc1,#04bbc2,#06bcc0,#0abdbd,#08bcbf,#02bac5,#01b9c7,#06bcc0,#17bfb6,#13beb9,#01b9c8,#09b4d1,#02bac5,#27c2ab,#2dc4a5,#01b9c6,#20a5e2,#16afd9,#43ca8a,#91ca4c,#14beb8,#3f6fff,#317efb,#7acc5d,#fbd32e,#54cc7c,#4851f4,#4433cc,#1ca9df,#f0ba36,#fec934,#19bfb5,#4660fc,#2d88f6,#45cb88,#96ca49,#29c3aa,#1ea7e1,#17aeda,#1ac0b5,#2dc4a6,#18bfb6,#02bac3,#03bbc2,#0cbdbc,#11beba,#0dbdbb,#0bbdbd,#0bbdbd,#0bbdbc,#0cbdbc,#0cbdbc,#0bbdbc,#0bbdbc,#0bbdbc,#0bbdbc,#0bbdbc,#0bbdbc,#0bbdbc,#0bbdbc,#0bbdbc,#0bbdbc,#0bbdbc,#0bbdbc,#0bbdbc,#0bbdbc,#0bbdbc,#0bbdbc,#0bbdbc,#0bbdbc,#0bbdbc,#0bbdbc,#0bbdbc,#0bbdbc,#0bbdbc,#0bbdbc,#0bbdbc)"></div><div style="top:60px;height:2.6px;background:linear-gradient(90deg,#05bbc1,#05bbc1,#05bbc1,#05bbc1,#05bbc1,#05bbc1,#05bbc1,#05bbc1,#05bbc1,#05bbc1,#05bbc1,#05bbc1,#05bbc1,#06bbc1,#06bcc0,#06bcc0,#04bbc1,#04bbc2,#06bcc0,#0abdbd,#09bcbe,#02bac4,#01b9c7,#05bbc1,#17bfb6,#14bfb8,#01b9c7,#09b4d1,#01b9c6,#26c2ac,#2ec5a4,#02bac4,#1fa5e2,#18addb,#3eca8f,#94ca4a,#1ec0b2,#3c71ff,#3479fd,#6acd6a,#fbd32e,#65cd6e,#4756f7,#4331c8,#1fa6e1,#efba35,#feca34,#19bfb5,#4660fc,#2d88f6,#46cb88,#96ca48,#28c3aa,#1ea7e1,#17aedb,#1ac0b5,#2cc4a6,#18bfb6,#02bac3,#03bbc2,#0cbdbc,#11beba,#0dbdbb,#0bbdbd,#0bbdbd,#0bbdbc,#0cbdbc,#0cbdbc,#0bbdbc,#0bbdbc,#0bbdbc,#0bbdbc,#0bbdbc,#0bbdbc,#0bbdbc,#0bbdbc,#0bbdbc,#0bbdbc,#0bbdbc,#0bbdbc,#0bbdbc,#0bbdbc,#0bbdbc,#0bbdbc,#0bbdbc,#0bbdbc,#0bbdbc,#0bbdbc,#0bbdbc,#0bbdbc,#0bbdbc,#0bbdbc,#0bbdbc)"></div><div style="top:62px;height:2.6px;background:linear-gradient(90deg,#05bbc1,#05bbc1,#05bbc1,#05bbc1,#05bbc1,#05bbc1,#05bbc1,#05bbc1,#05bbc1,#05bbc1,#05bbc1,#05bbc1,#05bbc1,#06bbc1,#06bcc0,#06bcc0,#04bbc1,#03bbc2,#06bcc0,#0abdbe,#09bcbe,#02bac4,#01b9c8,#04bbc2,#16bfb7,#16bfb7,#01b9c6,#09b4d1,#01b9c8,#25c2ad,#2fc5a3,#04bbc2,#1fa6e2,#1aacdd,#3bc993,#96ca48,#26c2ad,#3a74fe,#3975fe,#5ccc75,#fad42e,#73cd63,#4759f8,#4331c8,#1aacdd,#fabb3d,#fec438,#01b9c7,#475bf9,#2b90ef,#5acc78,#94ca4a,#1ec0b2,#1fa5e2,#14b0d8,#20c1b1,#2cc4a6,#14bfb8,#02bac4,#03bbc2,#0dbdbb,#11beb9,#0dbdbc,#0abdbd,#0bbdbd,#0bbdbc,#0cbdbc,#0cbdbc,#0bbdbc,#0bbdbc,#0bbdbc,#0bbdbc,#0bbdbc,#0bbdbc,#0bbdbc,#0bbdbc,#0bbdbc,#0bbdbc,#0bbdbc,#0bbdbc,#0bbdbc,#0bbdbc,#0bbdbc,#0bbdbc,#0bbdbc,#0bbdbc,#0bbdbc,#0bbdbc,#0bbdbc,#0bbdbc,#0bbdbc,#0bbdbc,#0bbdbc)"></div><div style="top:64px;height:2.6px;background:linear-gradient(90deg,#05bbc1,#05bbc1,#05bbc1,#05bbc1,#05bbc1,#05bbc1,#05bbc1,#05bbc1,#05bbc1,#05bbc1,#05bbc1,#05bbc1,#05bbc1,#05bbc1,#06bcc0,#06bcc0,#05bbc1,#03bbc2,#05bbc1,#0abdbe,#09bdbe,#02bac3,#01b9c8,#03bbc2,#15bfb7,#17bfb6,#02bac5,#09b4d1,#01b8c9,#24c1ae,#30c5a2,#07bcc0,#1fa6e2,#1baade,#38c896,#98c947,#2bc3a8,#3776fe,#3c71ff,#51cc7f,#fbd42e,#7ecc5b,#475af9,#4433cc,#04b6cd,#fec834,#f5ba3b,#1ea7e1,#4755f6,#23a0e5,#7fcc5a,#8acb52,#05bbc1,#22a2e4,#0cb3d3,#28c3aa,#2cc4a6,#0ebdbb,#01b9c6,#04bbc1,#0fbebb,#11beb9,#0dbdbc,#0abdbd,#0bbdbd,#0cbdbc,#0cbdbc,#0cbdbc,#0bbdbc,#0bbdbc,#0bbdbc,#0bbdbc,#0bbdbc,#0bbdbc,#0bbdbc,#0bbdbc,#0bbdbc,#0bbdbc,#0bbdbc,#0bbdbc,#0bbdbc,#0bbdbc,#0bbdbc,#0bbdbc,#0bbdbc,#0bbdbc,#0bbdbc,#0bbdbc,#0bbdbc,#0bbdbc,#0bbdbc,#0bbdbc,#0bbdbc)"></div><div style="top:66px;height:2.6px;background:linear-gradient(90deg,#05bbc1,#05bbc1,#05bbc1,#05bbc1,#05bbc1,#05bbc1,#05bbc1,#05bbc1,#05bbc1,#05bbc1,#05bbc1,#05bbc1,#05bbc1,#05bbc1,#06bcc0,#06bcc0,#05bbc1,#03bbc2,#05bbc1,#09bdbe,#0abdbe,#02bbc3,#01b9c8,#02bbc3,#15bfb8,#18bfb6,#02bac4,#09b4d1,#01b8ca,#23c1af,#30c5a1,#09bcbe,#1ea6e1,#1ca9df,#35c79a,#99c946,#2fc5a3,#3579fd,#3f6eff,#47cb87,#fbd32e,#85cb55,#4759f8,#4536d3,#1dc0b3,#f9d72c,#cdc028,#2d8bf4,#4854f5,#0bb3d2,#a7c73c,#71cd64,#0db3d3,#23a0e5,#01b8ca,#2fc5a3,#2bc3a8,#09bcbe,#01b9c7,#06bcc0,#10beba,#11beba,#0cbdbc,#0abdbd,#0bbdbd,#0cbdbc,#0cbdbc,#0bbdbc,#0bbdbc,#0bbdbc,#0bbdbc,#0bbdbc,#0bbdbc,#0bbdbc,#0bbdbc,#0bbdbc,#0bbdbc,#0bbdbc,#0bbdbc,#0bbdbc,#0bbdbc,#0bbdbc,#0bbdbc,#0bbdbc,#0bbdbc,#0bbdbc,#0bbdbc,#0bbdbc,#0bbdbc,#0bbdbc,#0bbdbc,#0bbdbc,#0bbdbc)"></div><div style="top:68px;height:2.6px;background:linear-gradient(90deg,#05bbc1,#05bbc1,#05bbc1,#05bbc1,#05bbc1,#05bbc1,#05bbc1,#05bbc1,#05bbc1,#05bbc1,#05bbc1,#05bbc1,#05bbc1,#05bbc1,#06bcc0,#06bcc0,#05bbc1,#03bbc2,#05bbc1,#09bdbe,#0abdbd,#02bbc3,#01b9c8,#02bac3,#14beb8,#19bfb5,#02bac3,#09b4d1,#01b7ca,#21c1b0,#30c5a1,#0bbdbd,#1ea7e1,#1da8e0,#33c79c,#9ac946,#32c69f,#337bfc,#416cfe,#3fca8e,#fbd32e,#8bcb51,#4757f7,#4639da,#3cc991,#f5e228,#85cb55,#4368fe,#475af9,#25c2ae,#c7c12a,#52cc7e,#1ea7e1,#249ee6,#05bbc1,#32c69e,#28c2ab,#04bbc1,#01b9c6,#08bcbe,#11beb9,#0fbeba,#0bbdbd,#0abdbd,#0bbdbd,#0cbdbc,#0cbdbc,#0bbdbc,#0bbdbc,#0bbdbc,#0bbdbc,#0bbdbc,#0bbdbc,#0bbdbc,#0bbdbc,#0bbdbc,#0bbdbc,#0bbdbc,#0bbdbc,#0bbdbc,#0bbdbc,#0bbdbc,#0bbdbc,#0bbdbc,#0bbdbc,#0bbdbc,#0bbdbc,#0bbdbc,#0bbdbc,#0bbdbc,#0bbdbc,#0bbdbc,#0bbdbc)"></div><div style="top:70px;height:2.6px;background:linear-gradient(90deg,#05bbc1,#05bbc1,#05bbc1,#05bbc1,#05bbc1,#05bbc1,#05bbc1,#05bbc1,#05bbc1,#05bbc1,#05bbc1,#05bbc1,#05bbc1,#05bbc1,#06bcc0,#06bcc0,#05bbc1,#03bbc2,#05bbc1,#09bcbe,#0abdbd,#03bbc3,#01b9c8,#02bac4,#13beb8,#19bfb5,#03bbc3,#08b4d1,#02b7cb,#20c1b1,#31c5a1,#0ebdbb,#1ea7e1,#1ea7e1,#32c69f,#9ac945,#34c79b,#317dfc,#4269fe,#3ac994,#fbd32e,#90ca4d,#4755f6,#463de0,#6bcd69,#f5e625,#3bc992,#484cef,#4367fd,#53cc7d,#ddbd29,#37c897,#259be8,#23a1e5,#17bfb6,#33c69d,#1fc0b2,#02bac5,#02bac4,#0dbdbc,#13beb9,#0dbdbb,#0abdbd,#0abdbd,#0cbdbc,#0cbdbc,#0cbdbc,#0bbdbc,#0bbdbc,#0bbdbc,#0bbdbc,#0bbdbc,#0bbdbc,#0bbdbc,#0bbdbc,#0bbdbc,#0bbdbc,#0bbdbc,#0bbdbc,#0bbdbc,#0bbdbc,#0bbdbc,#0bbdbc,#0bbdbc,#0bbdbc,#0bbdbc,#0bbdbc,#0bbdbc,#0bbdbc,#0bbdbc,#0bbdbc,#0bbdbc,#0bbdbc)"></div><div style="top:72px;height:2.6px;background:linear-gradient(90deg,#05bbc1,#05bbc1,#05bbc1,#05bbc1,#05bbc1,#05bbc1,#05bbc1,#05bbc1,#05bbc1,#05bbc1,#05bbc1,#05bbc1,#05bbc1,#05bbc1,#06bcc0,#06bcc0,#05bbc1,#03bbc2,#05bbc1,#09bcbe,#0abdbd,#03bbc2,#01b9c8,#02bac4,#12beb9,#1abfb5,#03bbc2,#08b4d1,#03b7cc,#1fc0b2,#31c6a0,#10beba,#1ea8e0,#1ea7e1,#30c5a1,#9ac945,#36c898,#307ffb,#4368fe,#36c899,#fbd32f,#94ca4a,#4853f5,#4741e4,#9cc944,#f5e725,#0cbdbc,#4435d2,#3777fe,#9dc943,#ecba32,#25c2ad,#2c90f0,#1fa6e2,#2ac3a9,#35c79b,#12beb9,#01b8ca,#02bac4,#13beb9,#15bfb7,#0cbdbc,#09bcbe,#0abdbd,#0cbdbc,#0cbdbc,#0cbdbc,#0bbdbc,#0bbdbc,#0bbdbc,#0bbdbc,#0bbdbc,#0bbdbc,#0bbdbc,#0bbdbc,#0bbdbc,#0bbdbc,#0bbdbc,#0bbdbc,#0bbdbc,#0bbdbc,#0bbdbc,#0bbdbc,#0bbdbc,#0bbdbc,#0bbdbc,#0bbdbc,#0bbdbc,#0bbdbc,#0bbdbc,#0bbdbc,#0bbdbc,#0bbdbc)"></div><div style="top:74px;height:2.6px;background:linear-gradient(90deg,#05bbc1,#05bbc1,#05bbc1,#05bbc1,#05bbc1,#05bbc1,#05bbc1,#05bbc1,#05bbc1,#05bbc1,#05bbc1,#05bbc1,#05bbc1,#05bbc1,#06bcc0,#06bcc0,#05bbc1,#03bbc2,#05bbc1,#09bcbe,#0abdbd,#03bbc2,#01b9c8,#02bac5,#12beb9,#1ac0b5,#04bbc2,#08b4d0,#03b7cc,#1ec0b2,#31c6a0,#12beb9,#1da8e0,#1fa6e2,#2fc5a3,#9ac945,#39c895,#3080fa,#4466fd,#33c79d,#fbd22f,#98c947,#4851f3,#4743e7,#c1c32d,#f5e725,#17aeda,#3e27ab,#2e86f7,#dabd28,#f4ba39,#02bac4,#2e83f9,#1caadf,#36c898,#3ac994,#0bbdbd,#06b5cf,#01bac5,#15bfb7,#19bfb6,#0dbdbb,#08bcbf,#09bdbe,#0cbdbc,#0cbdbc,#0cbdbc,#0bbdbc,#0bbdbc,#0bbdbc,#0bbdbc,#0bbdbc,#0bbdbc,#0bbdbc,#0bbdbc,#0bbdbc,#0bbdbc,#0bbdbc,#0bbdbc,#0bbdbc,#0bbdbc,#0bbdbc,#0bbdbc,#0bbdbc,#0bbdbc,#0bbdbc,#0bbdbc,#0bbdbc,#0bbdbc,#0bbdbc,#0bbdbc,#0bbdbc,#0bbdbc)"></div><div style="top:76px;height:2.6px;background:linear-gradient(90deg,#05bbc1,#05bbc1,#05bbc1,#05bbc1,#05bbc1,#05bbc1,#05bbc1,#05bbc1,#05bbc1,#05bbc1,#05bbc1,#05bbc1,#05bbc1,#05bbc1,#06bcc0,#06bcc0,#05bbc1,#03bbc2,#05bbc1,#09bcbe,#0abdbd,#04bbc2,#01b9c8,#02bac5,#11beb9,#1ac0b5,#05bbc1,#08b5d0,#04b6cd,#1dc0b3,#31c6a0,#13beb8,#1da8e0,#1fa6e2,#2ec4a4,#9ac945,#3bc993,#2f81fa,#4465fd,#31c6a0,#fbd22f,#9cc943,#4850f3,#4744e8,#d9be28,#f5e626,#259ce7,#3e26a8,#2a93ee,#febe3c,#f9bb3d,#14b0d8,#3b73fe,#1babde,#41ca8c,#41ca8c,#0ebdbb,#07b5d0,#01b8c8,#12beb9,#1abfb5,#10beba,#08bcbe,#09bcbe,#0cbdbc,#0dbdbc,#0cbdbc,#0bbdbc,#0bbdbc,#0bbdbc,#0bbdbc,#0bbdbc,#0bbdbc,#0bbdbc,#0bbdbc,#0bbdbc,#0bbdbc,#0bbdbc,#0bbdbc,#0bbdbc,#0bbdbc,#0bbdbc,#0bbdbc,#0bbdbc,#0bbdbc,#0bbdbc,#0bbdbc,#0bbdbc,#0bbdbc,#0bbdbc,#0bbdbc,#0bbdbc,#0bbdbc)"></div><div style="top:78px;height:2.6px;background:linear-gradient(90deg,#05bbc1,#05bbc1,#05bbc1,#05bbc1,#05bbc1,#05bbc1,#05bbc1,#05bbc1,#05bbc1,#05bbc1,#05bbc1,#05bbc1,#05bbc1,#05bbc1,#06bcc0,#06bcc0,#05bbc1,#03bbc2,#04bbc1,#09bcbe,#0bbdbd,#04bbc2,#01b9c8,#02bac5,#11beb9,#1ac0b4,#05bbc1,#08b5d0,#04b6cd,#1cc0b3,#31c6a0,#14bfb8,#1da9e0,#1fa5e2,#2dc4a5,#9ac945,#3dc991,#2f82f9,#4464fd,#2fc5a2,#fbd22f,#a0c841,#484ff2,#4745e9,#e7bb2e,#f5e526,#2c8ef1,#3e26a8,#249de6,#fcd030,#fcbc3d,#1da8e0,#4269fe,#1ca9e0,#40ca8d,#42ca8b,#16bfb7,#04b6cc,#01b8c9,#0cbdbc,#18bfb6,#12beb9,#0abdbe,#09bcbe,#0bbdbd,#0cbdbc,#0cbdbc,#0bbdbc,#0bbdbc,#0bbdbc,#0bbdbc,#0bbdbc,#0bbdbc,#0bbdbc,#0bbdbc,#0bbdbc,#0bbdbc,#0bbdbc,#0bbdbc,#0bbdbc,#0bbdbc,#0bbdbc,#0bbdbc,#0bbdbc,#0bbdbc,#0bbdbc,#0bbdbc,#0bbdbc,#0bbdbc,#0bbdbc,#0bbdbc,#0bbdbc,#0bbdbc)"></div><div style="top:80px;height:2.6px;background:linear-gradient(90deg,#05bbc1,#05bbc1,#05bbc1,#05bbc1,#05bbc1,#05bbc1,#05bbc1,#05bbc1,#05bbc1,#05bbc1,#05bbc1,#05bbc1,#05bbc1,#05bbc1,#06bcc0,#06bcc0,#05bbc1,#03bbc2,#04bbc1,#09bcbe,#0bbdbd,#04bbc2,#01b9c8,#01bac5,#11beba,#1bc0b4,#06bcc0,#07b5d0,#04b6cd,#1cc0b4,#31c6a0,#15bfb7,#1da9e0,#20a5e2,#2cc4a6,#9ac945,#3eca8f,#2e83f9,#4564fd,#2ec4a4,#fbd22f,#a3c83f,#484ff2,#4745ea,#eeba34,#f5e128,#2e85f8,#3e26a8,#20a5e2,#f8d92b,#fbbc3d,#1fa5e2,#416bfe,#1baade,#3ac994,#39c994,#17bfb6,#01b9c6,#01b9c6,#08bcbf,#12beb9,#12beb9,#0cbdbc,#09bcbe,#0abdbd,#0cbdbc,#0cbdbc,#0bbdbc,#0bbdbc,#0bbdbc,#0bbdbc,#0bbdbc,#0bbdbc,#0bbdbc,#0bbdbc,#0bbdbc,#0bbdbc,#0bbdbc,#0bbdbc,#0bbdbc,#0bbdbc,#0bbdbc,#0bbdbc,#0bbdbc,#0bbdbc,#0bbdbc,#0bbdbc,#0bbdbc,#0bbdbc,#0bbdbc,#0bbdbc,#0bbdbc,#0bbdbc)"></div><div style="top:82px;height:2.6px;background:linear-gradient(90deg,#05bbc1,#05bbc1,#05bbc1,#05bbc1,#05bbc1,#05bbc1,#05bbc1,#05bbc1,#05bbc1,#05bbc1,#05bbc1,#05bbc1,#05bbc1,#05bbc1,#06bcc0,#06bcc0,#05bbc1,#03bbc2,#04bbc1,#09bcbe,#0bbdbd,#04bbc2,#01b9c8,#01bac5,#10beba,#1bc0b4,#06bcc0,#07b5d0,#04b6cd,#1bc0b4,#31c6a0,#16bfb7,#1da9e0,#20a5e2,#2cc4a7,#9ac945,#3fca8e,#2e84f9,#4563fd,#2dc4a6,#fbd12f,#a4c83e,#4850f3,#4747eb,#efba35,#f7dc2a,#2f82f9,#3e26a8,#1baade,#fad52e,#f0ba36,#1fa5e2,#3875fe,#14b0d8,#37c897,#30c5a1,#0ebdbb,#04bbc2,#06bcc0,#07bcbf,#0cbdbc,#11beba,#0ebdbb,#0abdbd,#0abdbd,#0cbdbc,#0cbdbc,#0bbdbc,#0bbdbc,#0bbdbc,#0bbdbc,#0bbdbc,#0bbdbc,#0bbdbc,#0bbdbc,#0bbdbc,#0bbdbc,#0bbdbc,#0bbdbc,#0bbdbc,#0bbdbc,#0bbdbc,#0bbdbc,#0bbdbc,#0bbdbc,#0bbdbc,#0bbdbc,#0bbdbc,#0bbdbc,#0bbdbc,#0bbdbc,#0bbdbc,#0bbdbc)"></div><div style="top:84px;height:2.6px;background:linear-gradient(90deg,#05bbc1,#05bbc1,#05bbc1,#05bbc1,#05bbc1,#05bbc1,#05bbc1,#05bbc1,#05bbc1,#05bbc1,#05bbc1,#05bbc1,#05bbc1,#05bbc1,#06bcc0,#06bcc0,#05bbc1,#03bbc2,#04bbc1,#09bcbe,#0bbdbd,#04bbc1,#01b9c8,#01bac5,#10beba,#1bc0b4,#06bcc0,#07b5d0,#05b6cd,#1bc0b4,#31c6a0,#17bfb7,#1ca9e0,#20a5e3,#2bc3a7,#9ac945,#40ca8d,#2e84f8,#4563fc,#2cc4a7,#fcd12f,#a5c83d,#4852f4,#4849ed,#ebba31,#fad42e,#2e84f8,#3e26a8,#18aedb,#fec735,#d7be28,#20a5e3,#3080fb,#05b6ce,#3ac994,#29c3a9,#02bbc3,#06bbc1,#0fbeba,#09bdbe,#08bcbf,#0dbdbb,#0fbeba,#0bbdbc,#0abdbd,#0bbdbc,#0cbdbc,#0cbdbc,#0bbdbc,#0bbdbc,#0bbdbc,#0bbdbc,#0bbdbc,#0bbdbc,#0bbdbc,#0bbdbc,#0bbdbc,#0bbdbc,#0bbdbc,#0bbdbc,#0bbdbc,#0bbdbc,#0bbdbc,#0bbdbc,#0bbdbc,#0bbdbc,#0bbdbc,#0bbdbc,#0bbdbc,#0bbdbc,#0bbdbc,#0bbdbc,#0bbdbc)"></div><div style="top:86px;height:2.6px;background:linear-gradient(90deg,#05bbc1,#05bbc1,#05bbc1,#05bbc1,#05bbc1,#05bbc1,#05bbc1,#05bbc1,#05bbc1,#05bbc1,#05bbc1,#05bbc1,#05bbc1,#05bbc1,#06bcc0,#06bcc0,#05bbc1,#03bbc2,#04bbc1,#09bcbe,#0bbdbd,#04bbc1,#01b9c8,#01bac5,#10beba,#1bc0b4,#06bcc0,#07b5d0,#05b6cd,#1bc0b4,#31c6a0,#17bfb6,#1ca9df,#20a4e3,#2bc3a8,#9ac945,#41ca8d,#2e84f8,#4563fc,#2bc3a8,#fcd030,#a6c83d,#4853f5,#484cf0,#e4bb2c,#feca33,#2d8af5,#4331c7,#13b1d7,#f7ba3c,#b9c431,#20a4e3,#2e86f7,#01b9c7,#3fca8e,#27c2ac,#01b8ca,#03bbc3,#18bfb6,#0ebebb,#06bcc0,#0abdbd,#10beba,#0dbdbc,#0abdbd,#0bbdbd,#0cbdbc,#0cbdbc,#0bbdbc,#0bbdbc,#0bbdbc,#0bbdbc,#0bbdbc,#0bbdbc,#0bbdbc,#0bbdbc,#0bbdbc,#0bbdbc,#0bbdbc,#0bbdbc,#0bbdbc,#0bbdbc,#0bbdbc,#0bbdbc,#0bbdbc,#0bbdbc,#0bbdbc,#0bbdbc,#0bbdbc,#0bbdbc,#0bbdbc,#0bbdbc,#0bbdbc)"></div><div style="top:88px;height:2.6px;background:linear-gradient(90deg,#05bbc1,#05bbc1,#05bbc1,#05bbc1,#05bbc1,#05bbc1,#05bbc1,#05bbc1,#05bbc1,#05bbc1,#05bbc1,#05bbc1,#05bbc1,#05bbc1,#06bcc0,#06bcc0,#05bbc1,#03bbc2,#04bbc1,#09bcbe,#0bbdbd,#04bbc1,#01b9c8,#01bac5,#10beba,#1bc0b4,#06bcc0,#07b5d0,#05b6cd,#1bc0b4,#31c6a0,#17bfb6,#1ca9df,#20a4e3,#2bc3a8,#9ac945,#41ca8c,#2e85f8,#4562fc,#2bc3a8,#fcd030,#a5c83d,#4756f6,#4850f2,#dabd28,#febf3b,#2b91ef,#4743e7,#0cb3d3,#debc2a,#9ec942,#1fa6e2,#2d8af4,#02bac4,#44cb89,#27c2ab,#05b6ce,#01b9c6,#1cc0b4,#14beb8,#05bbc1,#08bcbf,#10beba,#0ebdbb,#0abdbd,#0bbdbd,#0cbdbc,#0cbdbc,#0bbdbc,#0bbdbc,#0bbdbc,#0bbdbc,#0bbdbc,#0bbdbc,#0bbdbc,#0bbdbc,#0bbdbc,#0bbdbc,#0bbdbc,#0bbdbc,#0bbdbc,#0bbdbc,#0bbdbc,#0bbdbc,#0bbdbc,#0bbdbc,#0bbdbc,#0bbdbc,#0bbdbc,#0bbdbc,#0bbdbc,#0bbdbc,#0bbdbc)"></div><div style="top:90px;height:2.6px;background:linear-gradient(90deg,#05bbc1,#05bbc1,#05bbc1,#05bbc1,#05bbc1,#05bbc1,#05bbc1,#05bbc1,#05bbc1,#05bbc1,#05bbc1,#05bbc1,#05bbc1,#05bbc1,#06bcc0,#06bcc0,#05bbc1,#03bbc2,#04bbc1,#09bcbe,#0bbdbd,#04bbc1,#01b9c8,#01bac5,#10beba,#1bc0b4,#06bcc0,#07b5d0,#05b6ce,#1bc0b4,#31c6a0,#17bfb6,#1ca9df,#20a4e3,#2bc3a8,#9ac945,#41ca8c,#2e85f8,#4562fc,#2ac3a8,#fcd030,#a4c83e,#4757f7,#4853f5,#d1bf27,#f5ba3a,#2797eb,#4755f6,#07b5d0,#c5c22a,#8bcb51,#1da9e0,#2c8ef1,#02bac4,#46cb88,#29c3aa,#07b5d0,#01b9c8,#1dc0b3,#18bfb6,#05bbc1,#07bcc0,#10beba,#0fbebb,#0abdbd,#0abdbd,#0cbdbc,#0cbdbc,#0bbdbc,#0bbdbc,#0bbdbc,#0bbdbc,#0bbdbc,#0bbdbc,#0bbdbc,#0bbdbc,#0bbdbc,#0bbdbc,#0bbdbc,#0bbdbc,#0bbdbc,#0bbdbc,#0bbdbc,#0bbdbc,#0bbdbc,#0bbdbc,#0bbdbc,#0bbdbc,#0bbdbc,#0bbdbc,#0bbdbc,#0bbdbc,#0bbdbc)"></div><div style="top:92px;height:2.6px;background:linear-gradient(90deg,#05bbc1,#05bbc1,#05bbc1,#05bbc1,#05bbc1,#05bbc1,#05bbc1,#05bbc1,#05bbc1,#05bbc1,#05bbc1,#05bbc1,#05bbc1,#05bbc1,#06bcc0,#06bcc0,#05bbc1,#03bbc2,#04bbc1,#09bcbe,#0bbdbd,#04bbc1,#01b9c8,#01bac5,#10beba,#1bc0b4,#06bcc0,#07b5d0,#05b6ce,#1bc0b4,#31c6a0,#17bfb6,#1ca9df,#20a4e3,#2bc3a8,#9ac945,#41ca8c,#2e85f8,#4562fc,#2ac3a8,#fccf30,#a4c83e,#4758f8,#4854f6,#cdc028,#f0ba36,#2699ea,#475bfa,#06b5cf,#bac430,#82cc57,#1caadf,#2b90f0,#02bac4,#46cb88,#29c3aa,#07b5d0,#01b8c8,#1dc0b3,#18bfb6,#05bbc1,#07bcc0,#0fbeba,#0fbebb,#0abdbd,#0abdbd,#0cbdbc,#0cbdbc,#0bbdbc,#0bbdbc,#0bbdbc,#0bbdbc,#0bbdbc,#0bbdbc,#0bbdbc,#0bbdbc,#0bbdbc,#0bbdbc,#0bbdbc,#0bbdbc,#0bbdbc,#0bbdbc,#0bbdbc,#0bbdbc,#0bbdbc,#0bbdbc,#0bbdbc,#0bbdbc,#0bbdbc,#0bbdbc,#0bbdbc,#0bbdbc,#0bbdbc)"></div><div style="top:94px;height:2.6px;background:linear-gradient(90deg,#05bbc1,#05bbc1,#05bbc1,#05bbc1,#05bbc1,#05bbc1,#05bbc1,#05bbc1,#05bbc1,#05bbc1,#05bbc1,#05bbc1,#05bbc1,#05bbc1,#06bcc0,#06bcc0,#05bbc1,#03bbc2,#04bbc1,#09bcbe,#0bbdbd,#04bbc1,#01b9c8,#01bac5,#10beba,#1bc0b4,#06bcc0,#07b5d0,#05b6ce,#1bc0b4,#31c6a0,#17bfb6,#1ca9df,#20a4e3,#2bc3a8,#9ac945,#41ca8c,#2e85f8,#4562fc,#2ac3a8,#fcd030,#a4c83e,#4757f7,#4852f4,#d4bf28,#f9bb3d,#2995ec,#484ff2,#08b4d1,#cfc028,#91ca4c,#1ea8e1,#2d8df2,#02bac4,#46cb88,#28c3aa,#06b5cf,#01b9c7,#1dc0b3,#16bfb7,#05bbc1,#07bcbf,#10beba,#0ebebb,#0abdbd,#0bbdbd,#0cbdbc,#0cbdbc,#0bbdbc,#0bbdbc,#0bbdbc,#0bbdbc,#0bbdbc,#0bbdbc,#0bbdbc,#0bbdbc,#0bbdbc,#0bbdbc,#0bbdbc,#0bbdbc,#0bbdbc,#0bbdbc,#0bbdbc,#0bbdbc,#0bbdbc,#0bbdbc,#0bbdbc,#0bbdbc,#0bbdbc,#0bbdbc,#0bbdbc,#0bbdbc,#0bbdbc)"></div><div style="top:96px;height:2.6px;background:linear-gradient(90deg,#05bbc1,#05bbc1,#05bbc1,#05bbc1,#05bbc1,#05bbc1,#05bbc1,#05bbc1,#05bbc1,#05bbc1,#05bbc1,#05bbc1,#05bbc1,#05bbc1,#06bcc0,#06bcc0,#05bbc1,#03bbc2,#04bbc1,#09bcbe,#0bbdbd,#04bbc1,#01b9c8,#01bac5,#10beba,#1bc0b4,#06bcc0,#07b5d0,#05b6cd,#1bc0b4,#31c6a0,#17bfb6,#1ca9df,#20a4e3,#2bc3a8,#9ac945,#41ca8c,#2e85f8,#4562fc,#2bc3a8,#fcd030,#a5c83d,#4755f6,#484ef1,#debc2a,#fec338,#2c8ef1,#463bdd,#0fb2d4,#e9bb2f,#a8c73b,#20a5e2,#2d89f5,#02bac5,#43ca8b,#27c2ac,#04b6cc,#02bac4,#1ac0b4,#12beb9,#05bbc1,#09bcbe,#10beba,#0dbdbb,#0abdbd,#0bbdbd,#0cbdbc,#0cbdbc,#0bbdbc,#0bbdbc,#0bbdbc,#0bbdbc,#0bbdbc,#0bbdbc,#0bbdbc,#0bbdbc,#0bbdbc,#0bbdbc,#0bbdbc,#0bbdbc,#0bbdbc,#0bbdbc,#0bbdbc,#0bbdbc,#0bbdbc,#0bbdbc,#0bbdbc,#0bbdbc,#0bbdbc,#0bbdbc,#0bbdbc,#0bbdbc,#0bbdbc)"></div><div style="top:98px;height:2.6px;background:linear-gradient(90deg,#05bbc1,#05bbc1,#05bbc1,#05bbc1,#05bbc1,#05bbc1,#05bbc1,#05bbc1,#05bbc1,#05bbc1,#05bbc1,#05bbc1,#05bbc1,#05bbc1,#06bcc0,#06bcc0,#05bbc1,#03bbc2,#04bbc1,#09bcbe,#0bbdbd,#04bbc1,#01b9c8,#01bac5,#10beba,#1bc0b4,#06bcc0,#07b5d0,#05b6cd,#1bc0b4,#31c6a0,#17bfb6,#1ca9df,#20a5e3,#2bc3a8,#9ac945,#40ca8d,#2e84f8,#4563fc,#2bc3a8,#fcd12f,#a6c83d,#4853f5,#484bee,#e7bb2e,#fdce31,#2d87f7,#402bb7,#14b0d8,#febe3c,#c5c22a,#20a4e3,#2e84f8,#01b8c9,#3dc990,#27c2ab,#01b9c7,#04bbc2,#15bfb8,#0cbdbc,#06bcc0,#0bbdbc,#10beba,#0cbdbc,#0abdbd,#0bbdbd,#0cbdbc,#0cbdbc,#0bbdbc,#0bbdbc,#0bbdbc,#0bbdbc,#0bbdbc,#0bbdbc,#0bbdbc,#0bbdbc,#0bbdbc,#0bbdbc,#0bbdbc,#0bbdbc,#0bbdbc,#0bbdbc,#0bbdbc,#0bbdbc,#0bbdbc,#0bbdbc,#0bbdbc,#0bbdbc,#0bbdbc,#0bbdbc,#0bbdbc,#0bbdbc,#0bbdbc)"></div><div style="top:100px;height:2.6px;background:linear-gradient(90deg,#05bbc1,#05bbc1,#05bbc1,#05bbc1,#05bbc1,#05bbc1,#05bbc1,#05bbc1,#05bbc1,#05bbc1,#05bbc1,#05bbc1,#05bbc1,#05bbc1,#06bcc0,#06bcc0,#05bbc1,#03bbc2,#04bbc1,#09bcbe,#0bbdbd,#04bbc2,#01b9c8,#01bac5,#10beba,#1bc0b4,#06bcc0,#07b5d0,#05b6cd,#1bc0b4,#31c6a0,#16bfb7,#1ca9e0,#20a5e3,#2cc4a7,#9ac945,#40ca8d,#2e84f8,#4563fc,#2cc4a7,#fcd12f,#a5c83d,#4851f3,#4848ec,#edba33,#f9d72c,#2e83f9,#3e26a8,#19acdc,#fdcd31,#e3bc2c,#20a5e2,#327cfc,#0ab4d2,#38c896,#2cc4a7,#07bcc0,#06bcc1,#0bbdbd,#08bcbf,#09bcbe,#0fbebb,#0fbebb,#0bbdbd,#0abdbd,#0bbdbc,#0cbdbc,#0cbdbc,#0bbdbc,#0bbdbc,#0bbdbc,#0bbdbc,#0bbdbc,#0bbdbc,#0bbdbc,#0bbdbc,#0bbdbc,#0bbdbc,#0bbdbc,#0bbdbc,#0bbdbc,#0bbdbc,#0bbdbc,#0bbdbc,#0bbdbc,#0bbdbc,#0bbdbc,#0bbdbc,#0bbdbc,#0bbdbc,#0bbdbc,#0bbdbc,#0bbdbc)"></div><div style="top:102px;height:2.6px;background:linear-gradient(90deg,#05bbc1,#05bbc1,#05bbc1,#05bbc1,#05bbc1,#05bbc1,#05bbc1,#05bbc1,#05bbc1,#05bbc1,#05bbc1,#05bbc1,#05bbc1,#05bbc1,#06bcc0,#06bcc0,#05bbc1,#03bbc2,#04bbc1,#09bcbe,#0bbdbd,#04bbc2,#01b9c8,#01bac5,#11beba,#1bc0b4,#06bcc0,#07b5d0,#04b6cd,#1bc0b4,#31c6a0,#16bfb7,#1da9e0,#20a5e2,#2cc4a7,#9ac945,#3fca8e,#2e83f9,#4563fd,#2dc4a5,#fbd22f,#a4c83e,#4850f2,#4746ea,#efba35,#f6de29,#2e83f9,#3e26a8,#1da8e0,#f9d82c,#f6ba3b,#1fa5e2,#3d70ff,#18aedb,#37c897,#34c79c,#13beb9,#02bbc3,#02bbc3,#07bcbf,#0ebebb,#12beb9,#0dbdbb,#0abdbe,#0abdbd,#0cbdbc,#0cbdbc,#0bbdbc,#0bbdbc,#0bbdbc,#0bbdbc,#0bbdbc,#0bbdbc,#0bbdbc,#0bbdbc,#0bbdbc,#0bbdbc,#0bbdbc,#0bbdbc,#0bbdbc,#0bbdbc,#0bbdbc,#0bbdbc,#0bbdbc,#0bbdbc,#0bbdbc,#0bbdbc,#0bbdbc,#0bbdbc,#0bbdbc,#0bbdbc,#0bbdbc,#0bbdbc)"></div><div style="top:104px;height:2.6px;background:linear-gradient(90deg,#05bbc1,#05bbc1,#05bbc1,#05bbc1,#05bbc1,#05bbc1,#05bbc1,#05bbc1,#05bbc1,#05bbc1,#05bbc1,#05bbc1,#05bbc1,#05bbc1,#06bcc0,#06bcc0,#05bbc1,#03bbc2,#04bbc1,#09bcbe,#0bbdbd,#04bbc2,#01b9c8,#02bac5,#11beba,#1ac0b4,#05bbc1,#08b5d0,#04b6cd,#1cc0b3,#31c6a0,#15bfb7,#1da9e0,#20a5e2,#2dc4a6,#9ac945,#3dca90,#2e83f9,#4564fd,#2ec5a4,#fbd22f,#a2c840,#484ff2,#4745e9,#ecba32,#f5e327,#2d88f6,#3e26a8,#22a2e4,#f9d72c,#fcbc3d,#1fa6e2,#4269fe,#1ca9df,#3cc991,#3dca90,#18bfb6,#01b8c9,#01b9c7,#09bcbe,#15bfb8,#12beb9,#0bbdbd,#09bcbe,#0bbdbd,#0cbdbc,#0cbdbc,#0bbdbc,#0bbdbc,#0bbdbc,#0bbdbc,#0bbdbc,#0bbdbc,#0bbdbc,#0bbdbc,#0bbdbc,#0bbdbc,#0bbdbc,#0bbdbc,#0bbdbc,#0bbdbc,#0bbdbc,#0bbdbc,#0bbdbc,#0bbdbc,#0bbdbc,#0bbdbc,#0bbdbc,#0bbdbc,#0bbdbc,#0bbdbc,#0bbdbc,#0bbdbc)"></div><div style="top:106px;height:2.6px;background:linear-gradient(90deg,#05bbc1,#05bbc1,#05bbc1,#05bbc1,#05bbc1,#05bbc1,#05bbc1,#05bbc1,#05bbc1,#05bbc1,#05bbc1,#05bbc1,#05bbc1,#05bbc1,#06bcc0,#06bcc0,#05bbc1,#03bbc2,#04bbc1,#09bcbe,#0bbdbd,#04bbc2,#01b9c8,#02bac5,#11beb9,#1ac0b4,#05bbc1,#08b5d0,#04b6cd,#1dc0b3,#31c6a0,#14beb8,#1da9e0,#1fa5e2,#2dc4a5,#9ac945,#3cc991,#2f82fa,#4465fd,#30c5a1,#fbd22f,#9ec942,#484ff2,#4744e8,#e2bc2b,#f5e526,#2a93ed,#3e26a8,#269ae9,#feca33,#fbbc3d,#1baade,#416cfe,#1caadf,#42ca8b,#44ca8a,#13beb8,#06b6ce,#01b8c9,#0ebebb,#19bfb5,#11beb9,#09bcbe,#09bcbe,#0bbdbc,#0dbdbc,#0cbdbc,#0bbdbc,#0bbdbc,#0bbdbc,#0bbdbc,#0bbdbc,#0bbdbc,#0bbdbc,#0bbdbc,#0bbdbc,#0bbdbc,#0bbdbc,#0bbdbc,#0bbdbc,#0bbdbc,#0bbdbc,#0bbdbc,#0bbdbc,#0bbdbc,#0bbdbc,#0bbdbc,#0bbdbc,#0bbdbc,#0bbdbc,#0bbdbc,#0bbdbc,#0bbdbc)"></div><div style="top:108px;height:2.6px;background:linear-gradient(90deg,#05bbc1,#05bbc1,#05bbc1,#05bbc1,#05bbc1,#05bbc1,#05bbc1,#05bbc1,#05bbc1,#05bbc1,#05bbc1,#05bbc1,#05bbc1,#05bbc1,#06bcc0,#06bcc0,#05bbc1,#03bbc2,#05bbc1,#09bcbe,#0abdbd,#04bbc2,#01b9c8,#02bac5,#12beb9,#1ac0b5,#05bbc1,#08b4d0,#04b6cc,#1dc0b3,#31c6a0,#13beb9,#1da8e0,#1fa6e2,#2ec5a4,#9ac945,#3ac994,#2f81fa,#4466fd,#32c69f,#fbd22f,#9bc945,#4850f3,#4744e8,#d0bf27,#f5e725,#21a3e3,#3e26a8,#2c8ef1,#f3ba39,#f7ba3c,#09b4d1,#3479fd,#1babde,#3eca90,#3eca8f,#0bbdbc,#07b5d0,#01b9c7,#14beb8,#19bfb5,#0fbebb,#08bcbf,#09bcbe,#0cbdbc,#0dbdbc,#0cbdbc,#0bbdbc,#0bbdbc,#0bbdbc,#0bbdbc,#0bbdbc,#0bbdbc,#0bbdbc,#0bbdbc,#0bbdbc,#0bbdbc,#0bbdbc,#0bbdbc,#0bbdbc,#0bbdbc,#0bbdbc,#0bbdbc,#0bbdbc,#0bbdbc,#0bbdbc,#0bbdbc,#0bbdbc,#0bbdbc,#0bbdbc,#0bbdbc,#0bbdbc,#0bbdbc)"></div><div style="top:110px;height:2.6px;background:linear-gradient(90deg,#05bbc1,#05bbc1,#05bbc1,#05bbc1,#05bbc1,#05bbc1,#05bbc1,#05bbc1,#05bbc1,#05bbc1,#05bbc1,#05bbc1,#05bbc1,#05bbc1,#06bcc0,#06bcc0,#05bbc1,#03bbc2,#05bbc1,#09bcbe,#0abdbd,#03bbc2,#01b9c8,#02bac4,#12beb9,#1abfb5,#04bbc2,#08b4d0,#03b7cc,#1ec0b2,#31c6a0,#11beba,#1da8e0,#1fa6e1,#30c5a2,#9ac945,#38c896,#307ffb,#4367fd,#34c79b,#fbd22f,#97ca48,#4852f4,#4742e6,#b4c534,#f5e725,#07b5d0,#412cba,#2f80fa,#c5c22a,#f1ba37,#0ebdbb,#2d88f6,#1da9e0,#32c69f,#37c897,#0cbdbc,#04b6cd,#02bac4,#15bfb8,#17bfb6,#0dbdbc,#08bcbf,#0abdbe,#0cbdbc,#0cbdbc,#0cbdbc,#0bbdbc,#0bbdbc,#0bbdbc,#0bbdbc,#0bbdbc,#0bbdbc,#0bbdbc,#0bbdbc,#0bbdbc,#0bbdbc,#0bbdbc,#0bbdbc,#0bbdbc,#0bbdbc,#0bbdbc,#0bbdbc,#0bbdbc,#0bbdbc,#0bbdbc,#0bbdbc,#0bbdbc,#0bbdbc,#0bbdbc,#0bbdbc,#0bbdbc,#0bbdbc)"></div><div style="top:112px;height:2.6px;background:linear-gradient(90deg,#05bbc1,#05bbc1,#05bbc1,#05bbc1,#05bbc1,#05bbc1,#05bbc1,#05bbc1,#05bbc1,#05bbc1,#05bbc1,#05bbc1,#05bbc1,#05bbc1,#06bcc0,#06bcc0,#05bbc1,#03bbc2,#05bbc1,#09bcbe,#0abdbd,#03bbc2,#01b9c8,#02bac4,#13beb9,#19bfb5,#03bbc2,#08b4d1,#03b7cb,#1fc1b1,#31c6a0,#0fbebb,#1ea8e1,#1ea7e1,#31c6a0,#9ac945,#36c799,#317efb,#4368fe,#37c897,#fbd32f,#92ca4b,#4854f5,#473fe3,#8acb52,#f5e725,#25c2ad,#463de0,#3d70ff,#7fcc5a,#e7bb2e,#2ec4a5,#2994ed,#21a3e3,#24c1af,#34c79c,#17bfb6,#01b9c8,#02bac4,#11beba,#14bfb8,#0dbdbc,#09bcbe,#0abdbd,#0cbdbc,#0cbdbc,#0cbdbc,#0bbdbc,#0bbdbc,#0bbdbc,#0bbdbc,#0bbdbc,#0bbdbc,#0bbdbc,#0bbdbc,#0bbdbc,#0bbdbc,#0bbdbc,#0bbdbc,#0bbdbc,#0bbdbc,#0bbdbc,#0bbdbc,#0bbdbc,#0bbdbc,#0bbdbc,#0bbdbc,#0bbdbc,#0bbdbc,#0bbdbc,#0bbdbc,#0bbdbc,#0bbdbc)"></div><div style="top:114px;height:2.6px;background:linear-gradient(90deg,#05bbc1,#05bbc1,#05bbc1,#05bbc1,#05bbc1,#05bbc1,#05bbc1,#05bbc1,#05bbc1,#05bbc1,#05bbc1,#05bbc1,#05bbc1,#05bbc1,#06bcc0,#06bcc0,#05bbc1,#03bbc2,#05bbc1,#09bdbe,#0abdbd,#03bbc3,#01b9c8,#02bac4,#13beb8,#19bfb5,#02bbc3,#09b4d1,#02b7cb,#20c1b1,#30c5a1,#0dbdbc,#1ea7e1,#1da8e0,#32c69e,#9ac945,#33c79d,#327cfc,#426afe,#3cc992,#fbd32e,#8ecb4f,#4756f6,#463cde,#57cc7a,#f5e526,#55cc7b,#4756f7,#4561fc,#3bc993,#d5be28,#40ca8d,#249fe5,#249fe5,#0ebebb,#33c69d,#23c1af,#02bac3,#02bac5,#0bbdbd,#12beb9,#0ebebb,#0abdbd,#0abdbd,#0bbdbc,#0cbdbc,#0cbdbc,#0bbdbc,#0bbdbc,#0bbdbc,#0bbdbc,#0bbdbc,#0bbdbc,#0bbdbc,#0bbdbc,#0bbdbc,#0bbdbc,#0bbdbc,#0bbdbc,#0bbdbc,#0bbdbc,#0bbdbc,#0bbdbc,#0bbdbc,#0bbdbc,#0bbdbc,#0bbdbc,#0bbdbc,#0bbdbc,#0bbdbc,#0bbdbc,#0bbdbc,#0bbdbc)"></div><div style="top:116px;height:2.6px;background:linear-gradient(90deg,#05bbc1,#05bbc1,#05bbc1,#05bbc1,#05bbc1,#05bbc1,#05bbc1,#05bbc1,#05bbc1,#05bbc1,#05bbc1,#05bbc1,#05bbc1,#05bbc1,#06bcc0,#06bcc0,#05bbc1,#03bbc2,#05bbc1,#09bdbe,#0abdbd,#02bbc3,#01b9c8,#02bac3,#14beb8,#18bfb6,#02bac4,#09b4d1,#01b8ca,#22c1b0,#30c5a1,#0abdbd,#1ea7e1,#1da9e0,#34c79b,#99c946,#31c5a1,#347afd,#406dfe,#42ca8b,#fbd32e,#89cb52,#4758f8,#4538d7,#31c6a0,#f6de29,#a5c83d,#3876fe,#4757f7,#0abdbd,#bbc42f,#5fcd73,#1aacdd,#249fe6,#02bac5,#31c6a0,#2ac3a9,#06bcc0,#01b9c6,#07bcbf,#11beba,#10beba,#0bbdbc,#0abdbd,#0bbdbd,#0cbdbc,#0cbdbc,#0bbdbc,#0bbdbc,#0bbdbc,#0bbdbc,#0bbdbc,#0bbdbc,#0bbdbc,#0bbdbc,#0bbdbc,#0bbdbc,#0bbdbc,#0bbdbc,#0bbdbc,#0bbdbc,#0bbdbc,#0bbdbc,#0bbdbc,#0bbdbc,#0bbdbc,#0bbdbc,#0bbdbc,#0bbdbc,#0bbdbc,#0bbdbc,#0bbdbc,#0bbdbc)"></div><div style="top:118px;height:2.6px;background:linear-gradient(90deg,#05bbc1,#05bbc1,#05bbc1,#05bbc1,#05bbc1,#05bbc1,#05bbc1,#05bbc1,#05bbc1,#05bbc1,#05bbc1,#05bbc1,#05bbc1,#05bbc1,#06bcc0,#06bcc0,#05bbc1,#03bbc2,#05bbc1,#0abdbe,#09bdbe,#02bac3,#01b9c8,#03bbc3,#15bfb7,#18bfb6,#02bac4,#09b4d1,#01b8c9,#23c1af,#30c5a2,#08bcbf,#1fa6e1,#1caadf,#36c898,#99c946,#2dc4a5,#3678fe,#3e6fff,#4acb84,#fbd32e,#83cc57,#4759f9,#4434d0,#09bcbe,#fbd22f,#e1bc2b,#2797eb,#4854f5,#1aacdd,#97ca47,#7dcc5b,#03b7cc,#23a0e5,#05b6ce,#2dc4a6,#2cc4a7,#0abdbd,#01b9c6,#05bbc1,#10beba,#11beb9,#0cbdbc,#0abdbd,#0bbdbd,#0cbdbc,#0cbdbc,#0bbdbc,#0bbdbc,#0bbdbc,#0bbdbc,#0bbdbc,#0bbdbc,#0bbdbc,#0bbdbc,#0bbdbc,#0bbdbc,#0bbdbc,#0bbdbc,#0bbdbc,#0bbdbc,#0bbdbc,#0bbdbc,#0bbdbc,#0bbdbc,#0bbdbc,#0bbdbc,#0bbdbc,#0bbdbc,#0bbdbc,#0bbdbc,#0bbdbc,#0bbdbc)"></div><div style="top:120px;height:2.6px;background:linear-gradient(90deg,#05bbc1,#05bbc1,#05bbc1,#05bbc1,#05bbc1,#05bbc1,#05bbc1,#05bbc1,#05bbc1,#05bbc1,#05bbc1,#05bbc1,#05bbc1,#05bbc1,#06bcc0,#06bcc0,#04bbc1,#03bbc2,#06bbc1,#0abdbe,#09bcbe,#02bac4,#01b9c8,#03bbc2,#16bfb7,#17bfb7,#01bac5,#09b4d1,#01b8c8,#24c2ae,#2fc5a2,#06bcc0,#1fa6e2,#1babde,#39c895,#97ca47,#29c3aa,#3875fe,#3b73fe,#55cc7b,#fad42e,#7acc5e,#475af9,#4332ca,#0fb2d5,#fec239,#fdbd3d,#13b0d7,#4757f7,#2699e9,#6ecd67,#8fcb4e,#0fbeba,#21a3e3,#10b2d5,#25c2ad,#2cc4a6,#11beba,#01bac5,#04bbc2,#0ebebb,#11beb9,#0dbdbc,#0abdbd,#0bbdbd,#0bbdbc,#0cbdbc,#0cbdbc,#0bbdbc,#0bbdbc,#0bbdbc,#0bbdbc,#0bbdbc,#0bbdbc,#0bbdbc,#0bbdbc,#0bbdbc,#0bbdbc,#0bbdbc,#0bbdbc,#0bbdbc,#0bbdbc,#0bbdbc,#0bbdbc,#0bbdbc,#0bbdbc,#0bbdbc,#0bbdbc,#0bbdbc,#0bbdbc,#0bbdbc,#0bbdbc,#0bbdbc)"></div><div style="top:122px;height:2.6px;background:linear-gradient(90deg,#05bbc1,#05bbc1,#05bbc1,#05bbc1,#05bbc1,#05bbc1,#05bbc1,#05bbc1,#05bbc1,#05bbc1,#05bbc1,#05bbc1,#05bbc1,#06bbc1,#06bcc0,#06bcc0,#04bbc1,#04bbc2,#06bcc0,#0abdbd,#09bcbe,#02bac4,#01b9c8,#04bbc1,#16bfb7,#15bfb7,#01b9c6,#09b4d1,#01b9c7,#26c2ad,#2fc5a3,#03bbc2,#1fa5e2,#19acdc,#3cc991,#96ca49,#24c1af,#3b73fe,#3777fe,#61cd71,#fbd42e,#6ecd67,#4758f8,#4331c7,#1da9e0,#f5ba3a,#fec735,#09bcbe,#465efb,#2d8cf3,#50cc80,#95ca49,#24c1ae,#1fa6e2,#16afd9,#1dc0b3,#2cc4a6,#16bfb7,#02bac4,#03bbc2,#0dbdbc,#11beba,#0dbdbb,#0abdbd,#0bbdbd,#0bbdbc,#0cbdbc,#0cbdbc,#0bbdbc,#0bbdbc,#0bbdbc,#0bbdbc,#0bbdbc,#0bbdbc,#0bbdbc,#0bbdbc,#0bbdbc,#0bbdbc,#0bbdbc,#0bbdbc,#0bbdbc,#0bbdbc,#0bbdbc,#0bbdbc,#0bbdbc,#0bbdbc,#0bbdbc,#0bbdbc,#0bbdbc,#0bbdbc,#0bbdbc,#0bbdbc,#0bbdbc)"></div><div style="top:124px;height:2.6px;background:linear-gradient(90deg,#05bbc1,#05bbc1,#05bbc1,#05bbc1,#05bbc1,#05bbc1,#05bbc1,#05bbc1,#05bbc1,#05bbc1,#05bbc1,#05bbc1,#05bbc1,#06bbc1,#06bcc0,#06bcc0,#04bbc1,#04bbc2,#06bcc0,#0abdbd,#08bcbf,#02bac4,#01b9c7,#05bbc1,#17bfb6,#14beb8,#01b9c7,#09b4d1,#01b9c6,#27c2ac,#2ec4a4,#02bac4,#20a5e2,#17aedb,#40ca8d,#93ca4b,#1bc0b4,#3d70ff,#327bfc,#70cd65,#fbd32e,#5fcd73,#4755f6,#4332c9,#1ea6e1,#eeba34,#feca33,#1dc0b3,#4561fc,#2e87f7,#44ca8a,#96ca48,#2ac3a9,#1ea8e1,#18aedb,#19bfb5,#2dc4a6,#19bfb6,#02bac3,#03bbc2,#0cbdbc,#11beba,#0dbdbb,#0bbdbd,#0bbdbd,#0bbdbc,#0cbdbc,#0cbdbc,#0bbdbc,#0bbdbc,#0bbdbc,#0bbdbc,#0bbdbc,#0bbdbc,#0bbdbc,#0bbdbc,#0bbdbc,#0bbdbc,#0bbdbc,#0bbdbc,#0bbdbc,#0bbdbc,#0bbdbc,#0bbdbc,#0bbdbc,#0bbdbc,#0bbdbc,#0bbdbc,#0bbdbc,#0bbdbc,#0bbdbc,#0bbdbc,#0bbdbc)"></div><div style="top:126px;height:2.6px;background:linear-gradient(90deg,#05bbc1,#05bbc1,#05bbc1,#05bbc1,#05bbc1,#05bbc1,#05bbc1,#05bbc1,#05bbc1,#05bbc1,#05bbc1,#05bbc1,#05bbc1,#06bbc1,#06bcc0,#06bcc1,#04bbc2,#04bbc2,#06bcc0,#0abdbd,#08bcbf,#02bac5,#01b9c7,#07bcc0,#18bfb6,#12beb9,#01b8c8,#08b4d1,#02bac4,#28c3ab,#2dc4a6,#01b9c7,#20a5e2,#14b0d8,#45cb89,#90ca4d,#0fbeba,#3f6efe,#2f80fa,#82cc58,#fbd22f,#4ccb83,#484ff2,#4434cf,#19addc,#f5ba3a,#fec835,#0fbeba,#465ffb,#2d8af4,#4acb84,#95ca49,#26c2ac,#1ea7e1,#16aeda,#1cc0b4,#2dc4a6,#17bfb6,#02bac4,#03bbc2,#0cbdbc,#11beba,#0dbdbb,#0abdbd,#0bbdbd,#0bbdbc,#0cbdbc,#0cbdbc,#0bbdbc,#0bbdbc,#0bbdbc,#0bbdbc,#0bbdbc,#0bbdbc,#0bbdbc,#0bbdbc,#0bbdbc,#0bbdbc,#0bbdbc,#0bbdbc,#0bbdbc,#0bbdbc,#0bbdbc,#0bbdbc,#0bbdbc,#0bbdbc,#0bbdbc,#0bbdbc,#0bbdbc,#0bbdbc,#0bbdbc,#0bbdbc,#0bbdbc)"></div><div style="top:128px;height:2.6px;background:linear-gradient(90deg,#05bbc1,#05bbc1,#05bbc1,#05bbc1,#05bbc1,#05bbc1,#05bbc1,#05bbc1,#05bbc1,#05bbc1,#05bbc1,#05bbc1,#05bbc1,#06bcc1,#06bcc0,#06bbc1,#04bbc2,#04bbc2,#07bcc0,#0abdbd,#07bcbf,#01bac5,#01b9c7,#08bcbf,#18bfb6,#10beba,#01b8c9,#08b5d0,#03bbc2,#29c3aa,#2cc4a7,#01b8c9,#20a5e3,#11b1d6,#4bcb84,#8ccb50,#05bbc1,#416bfe,#2e86f7,#94ca4a,#fcd12f,#3ac994,#4747eb,#4639d9,#01b8ca,#fec239,#febe3c,#09b4d1,#475af9,#2895ec,#63cd70,#90ca4d,#16bfb7,#20a4e3,#13b1d7,#23c1af,#2dc4a6,#13beb8,#02bac5,#04bbc2,#0ebdbb,#11beba,#0dbdbc,#0abdbd,#0bbdbd,#0bbdbc,#0cbdbc,#0cbdbc,#0bbdbc,#0bbdbc,#0bbdbc,#0bbdbc,#0bbdbc,#0bbdbc,#0bbdbc,#0bbdbc,#0bbdbc,#0bbdbc,#0bbdbc,#0bbdbc,#0bbdbc,#0bbdbc,#0bbdbc,#0bbdbc,#0bbdbc,#0bbdbc,#0bbdbc,#0bbdbc,#0bbdbc,#0bbdbc,#0bbdbc,#0bbdbc,#0bbdbc)"></div><div style="top:130px;height:2.6px;background:linear-gradient(90deg,#05bbc1,#05bbc1,#05bbc1,#05bbc1,#05bbc1,#05bbc1,#05bbc1,#05bbc1,#05bbc1,#05bbc1,#05bbc1,#05bbc1,#05bbc1,#06bcc0,#06bcc0,#05bbc1,#04bbc2,#04bbc2,#07bcbf,#0abdbd,#06bcc0,#01bac6,#01b9c6,#09bcbe,#18bfb6,#0dbdbb,#02b7ca,#07b5d0,#05bbc1,#2ac3a9,#2ac3a9,#03b7cc,#20a5e3,#0bb3d2,#51cc7f,#86cb54,#01b8c8,#4269fe,#2d8cf3,#a7c73c,#fdce31,#2dc4a5,#473fe2,#4742e7,#27c2ac,#fcd030,#e8bb2e,#23a0e5,#4756f7,#1fa6e2,#86cb55,#81cc58,#01b9c6,#22a2e4,#09b4d1,#29c3a9,#2cc4a7,#0dbdbc,#01b9c6,#05bbc1,#0fbeba,#11beba,#0cbdbc,#0abdbd,#0bbdbd,#0cbdbc,#0cbdbc,#0bbdbc,#0bbdbc,#0bbdbc,#0bbdbc,#0bbdbc,#0bbdbc,#0bbdbc,#0bbdbc,#0bbdbc,#0bbdbc,#0bbdbc,#0bbdbc,#0bbdbc,#0bbdbc,#0bbdbc,#0bbdbc,#0bbdbc,#0bbdbc,#0bbdbc,#0bbdbc,#0bbdbc,#0bbdbc,#0bbdbc,#0bbdbc,#0bbdbc,#0bbdbc)"></div><div style="top:132px;height:2.6px;background:linear-gradient(90deg,#05bbc1,#05bbc1,#05bbc1,#05bbc1,#05bbc1,#05bbc1,#05bbc1,#05bbc1,#05bbc1,#05bbc1,#05bbc1,#05bbc1,#05bbc1,#06bcc0,#06bcc0,#05bbc1,#04bbc2,#04bbc1,#07bcbf,#0abdbe,#06bcc0,#01b9c6,#01bac6,#0bbdbd,#18bfb6,#0bbdbd,#03b7cb,#06b5cf,#08bcbf,#2bc3a8,#28c2ab,#05b6ce,#20a5e3,#06b5cf,#58cc79,#80cc5a,#07b5cf,#4368fd,#2a93ed,#b9c430,#fdcb33,#19bfb5,#4538d8,#4850f2,#4ccb83,#f7db2b,#b6c532,#2e86f7,#4759f8,#04b6cd,#a4c83e,#68cd6b,#0fb2d4,#23a1e4,#01b8c9,#2ec5a4,#29c3a9,#07bcbf,#01b9c6,#07bcc0,#11beb9,#11beba,#0bbdbc,#0abdbd,#0bbdbd,#0cbdbc,#0cbdbc,#0bbdbc,#0bbdbc,#0bbdbc,#0bbdbc,#0bbdbc,#0bbdbc,#0bbdbc,#0bbdbc,#0bbdbc,#0bbdbc,#0bbdbc,#0bbdbc,#0bbdbc,#0bbdbc,#0bbdbc,#0bbdbc,#0bbdbc,#0bbdbc,#0bbdbc,#0bbdbc,#0bbdbc,#0bbdbc,#0bbdbc,#0bbdbc,#0bbdbc,#0bbdbc)"></div><div style="top:134px;height:2.6px;background:linear-gradient(90deg,#05bbc1,#05bbc1,#05bbc1,#05bbc1,#05bbc1,#05bbc1,#05bbc1,#05bbc1,#05bbc1,#05bbc1,#05bbc1,#05bbc1,#05bbc1,#06bcc0,#06bcc0,#05bbc1,#04bbc2,#05bbc1,#08bcbf,#09bdbe,#05bbc1,#01b9c6,#02bac5,#0dbdbc,#18bfb6,#09bcbe,#04b6cc,#05b6ce,#0bbdbc,#2cc4a7,#25c2ad,#09b4d1,#20a5e2,#02b7ca,#5fcd73,#78cc5f,#12b1d7,#4466fd,#269ae8,#cbc029,#fec736,#01b9c6,#4433cc,#465ffb,#8acb52,#f6de29,#6fcd66,#3f6dfe,#4563fd,#22c1b0,#b4c534,#4bcb84,#1baade,#21a3e4,#07bcc0,#31c6a0,#26c2ad,#03bbc3,#01b9c6,#09bcbe,#12beb9,#10beba,#0bbdbd,#0abdbd,#0bbdbd,#0cbdbc,#0cbdbc,#0bbdbc,#0bbdbc,#0bbdbc,#0bbdbc,#0bbdbc,#0bbdbc,#0bbdbc,#0bbdbc,#0bbdbc,#0bbdbc,#0bbdbc,#0bbdbc,#0bbdbc,#0bbdbc,#0bbdbc,#0bbdbc,#0bbdbc,#0bbdbc,#0bbdbc,#0bbdbc,#0bbdbc,#0bbdbc,#0bbdbc,#0bbdbc,#0bbdbc,#0bbdbc)"></div><div style="top:136px;height:2.6px;background:linear-gradient(90deg,#05bbc1,#05bbc1,#05bbc1,#05bbc1,#05bbc1,#05bbc1,#05bbc1,#05bbc1,#05bbc1,#05bbc1,#05bbc1,#05bbc1,#05bbc1,#06bcc0,#06bcc0,#05bbc1,#04bbc2,#05bbc1,#08bcbf,#09bcbe,#04bbc2,#01b9c6,#02bac4,#0fbebb,#17bfb6,#06bcc0,#04b6cd,#04b6cd,#10beba,#2cc4a7,#22c1b0,#0db3d3,#20a5e2,#01b9c6,#66cd6d,#6fcd66,#1aacdd,#4465fd,#22a2e4,#dcbd29,#fec13a,#12b1d6,#422fc2,#3d70ff,#bec32e,#f7db2b,#37c897,#475cfa,#3c72ff,#3bc993,#b8c431,#36c799,#21a4e3,#1fa6e2,#15bfb7,#32c69e,#20c1b1,#02bac5,#01b9c6,#0bbdbd,#13beb8,#0fbeba,#0abdbd,#0abdbd,#0bbdbc,#0cbdbc,#0cbdbc,#0bbdbc,#0bbdbc,#0bbdbc,#0bbdbc,#0bbdbc,#0bbdbc,#0bbdbc,#0bbdbc,#0bbdbc,#0bbdbc,#0bbdbc,#0bbdbc,#0bbdbc,#0bbdbc,#0bbdbc,#0bbdbc,#0bbdbc,#0bbdbc,#0bbdbc,#0bbdbc,#0bbdbc,#0bbdbc,#0bbdbc,#0bbdbc,#0bbdbc,#0bbdbc)"></div><div style="top:138px;height:2.6px;background:linear-gradient(90deg,#05bbc1,#05bbc1,#05bbc1,#05bbc1,#05bbc1,#05bbc1,#05bbc1,#05bbc1,#05bbc1,#05bbc1,#05bbc1,#05bbc1,#05bbc1,#06bcc0,#06bcc0,#05bbc1,#04bbc2,#05bbc1,#08bcbf,#09bcbe,#03bbc2,#01b9c6,#02bbc3,#10beba,#16bfb7,#04bbc2,#05b6ce,#02b7cb,#14bfb8,#2cc4a7,#1dc0b3,#12b1d6,#1fa6e2,#06bcc0,#6dcd67,#65cd6e,#1fa6e2,#4464fd,#1baade,#eabb30,#fbbc3d,#1fa6e2,#412dbc,#2f83f9,#e2bc2b,#fad42e,#15bfb8,#4852f4,#2f81fa,#5acc77,#b5c533,#29c3a9,#249fe5,#1ca9df,#21c1b1,#33c69e,#1bc0b4,#01b9c7,#02bac5,#0dbdbc,#13beb8,#0ebebb,#0abdbd,#0abdbd,#0bbdbc,#0cbdbc,#0cbdbc,#0bbdbc,#0bbdbc,#0bbdbc,#0bbdbc,#0bbdbc,#0bbdbc,#0bbdbc,#0bbdbc,#0bbdbc,#0bbdbc,#0bbdbc,#0bbdbc,#0bbdbc,#0bbdbc,#0bbdbc,#0bbdbc,#0bbdbc,#0bbdbc,#0bbdbc,#0bbdbc,#0bbdbc,#0bbdbc,#0bbdbc,#0bbdbc,#0bbdbc,#0bbdbc)"></div><div style="top:140px;height:2.6px;background:linear-gradient(90deg,#05bbc1,#05bbc1,#05bbc1,#05bbc1,#05bbc1,#05bbc1,#05bbc1,#05bbc1,#05bbc1,#05bbc1,#05bbc1,#05bbc1,#05bbc1,#06bcc0,#06bcc0,#05bbc1,#04bbc2,#06bcc1,#08bcbe,#08bcbf,#02bbc3,#01b9c6,#04bbc2,#12beb9,#14beb8,#02bac4,#06b6ce,#01b8c9,#19bfb5,#2cc4a7,#17bfb6,#14b0d8,#1ea7e1,#10beba,#73cd62,#59cc78,#249fe6,#4465fd,#0eb2d4,#f5ba3b,#f0ba36,#2699e9,#412cba,#2a93ee,#f8ba3d,#feca33,#07b5d0,#484df0,#2c8ff1,#78cc5f,#aec637,#17bfb6,#259ce7,#19acdc,#28c2ab,#32c69e,#15bfb7,#01b9c8,#02bac4,#0fbebb,#13beb8,#0ebdbb,#0abdbd,#0abdbd,#0cbdbc,#0cbdbc,#0cbdbc,#0bbdbc,#0bbdbc,#0bbdbc,#0bbdbc,#0bbdbc,#0bbdbc,#0bbdbc,#0bbdbc,#0bbdbc,#0bbdbc,#0bbdbc,#0bbdbc,#0bbdbc,#0bbdbc,#0bbdbc,#0bbdbc,#0bbdbc,#0bbdbc,#0bbdbc,#0bbdbc,#0bbdbc,#0bbdbc,#0bbdbc,#0bbdbc,#0bbdbc,#0bbdbc)"></div><div style="top:142px;height:2.6px;background:linear-gradient(90deg,#05bbc1,#05bbc1,#05bbc1,#05bbc1,#05bbc1,#05bbc1,#05bbc1,#05bbc1,#05bbc1,#05bbc1,#05bbc1,#05bbc1,#05bbc1,#06bcc0,#06bbc1,#05bbc1,#04bbc1,#06bcc0,#09bcbe,#07bcbf,#02bac4,#01b9c6,#06bcc0,#13beb8,#11beb9,#01b9c6,#06b6ce,#01b9c7,#1cc0b3,#2bc3a8,#10beba,#17aeda,#1da9e0,#1cc0b3,#79cc5e,#4bcb84,#2798ea,#4367fd,#01b9c6,#fdbd3d,#dfbc2a,#2d8bf4,#412cbb,#22a2e4,#fec437,#fec03b,#1da8e0,#484bee,#259be8,#90ca4d,#a3c83e,#05bbc1,#269ae8,#14b0d8,#2cc4a7,#31c69f,#10beba,#01b8c8,#02bac3,#10beba,#13beb8,#0dbdbc,#0abdbe,#0abdbd,#0cbdbc,#0cbdbc,#0cbdbc,#0bbdbc,#0bbdbc,#0bbdbc,#0bbdbc,#0bbdbc,#0bbdbc,#0bbdbc,#0bbdbc,#0bbdbc,#0bbdbc,#0bbdbc,#0bbdbc,#0bbdbc,#0bbdbc,#0bbdbc,#0bbdbc,#0bbdbc,#0bbdbc,#0bbdbc,#0bbdbc,#0bbdbc,#0bbdbc,#0bbdbc,#0bbdbc,#0bbdbc,#0bbdbc)"></div><div style="top:144px;height:2.6px;background:linear-gradient(90deg,#05bbc1,#05bbc1,#05bbc1,#05bbc1,#05bbc1,#05bbc1,#05bbc1,#05bbc1,#05bbc1,#05bbc1,#05bbc1,#05bbc1,#06bbc1,#06bcc0,#05bbc1,#05bbc1,#04bbc1,#06bcc0,#09bcbe,#07bcc0,#02bac4,#01bac5,#08bcbf,#14bfb8,#0ebdbb,#01b9c7,#05b6ce,#02bac5,#1fc1b1,#2ac3a9,#0abdbe,#19addc,#1baade,#26c2ac,#7ccc5c,#3dca90,#2b90f0,#416bfe,#19bfb5,#fec338,#c7c12a,#327bfc,#422fc0,#13b0d7,#fcce31,#f3ba38,#269ae8,#484aee,#1fa6e2,#a4c83e,#96ca48,#02b7cb,#269ae9,#0eb3d4,#2fc5a3,#30c5a1,#0bbdbc,#01b8c9,#03bbc2,#11beb9,#13beb8,#0cbdbc,#0abdbe,#0abdbd,#0cbdbc,#0cbdbc,#0cbdbc,#0bbdbc,#0bbdbc,#0bbdbc,#0bbdbc,#0bbdbc,#0bbdbc,#0bbdbc,#0bbdbc,#0bbdbc,#0bbdbc,#0bbdbc,#0bbdbc,#0bbdbc,#0bbdbc,#0bbdbc,#0bbdbc,#0bbdbc,#0bbdbc,#0bbdbc,#0bbdbc,#0bbdbc,#0bbdbc,#0bbdbc,#0bbdbc,#0bbdbc,#0bbdbc)"></div><div style="top:146px;height:2.6px;background:linear-gradient(90deg,#05bbc1,#05bbc1,#05bbc1,#05bbc1,#05bbc1,#05bbc1,#05bbc1,#05bbc1,#05bbc1,#05bbc1,#05bbc1,#05bbc1,#06bbc1,#06bcc0,#05bbc1,#05bbc1,#05bbc1,#07bcc0,#08bcbe,#06bcc0,#02bac5,#02bac5,#09bdbe,#14bfb8,#0abdbd,#01b8c9,#04b6cd,#04bbc2,#22c1b0,#28c2ab,#04bbc2,#1aacdd,#19addc,#2dc4a5,#7ecc5b,#33c79c,#2d89f5,#3d71ff,#2fc5a3,#fec735,#a6c83d,#426afe,#4332cb,#04bbc1,#f9d72c,#dcbd29,#2d8cf3,#484cf0,#13b0d7,#b3c534,#87cb54,#0db3d3,#2699e9,#06b5cf,#32c69f,#2fc5a3,#08bcbf,#01b8c9,#05bbc1,#13beb9,#13beb9,#0cbdbc,#09bdbe,#0abdbd,#0cbdbc,#0cbdbc,#0bbdbc,#0bbdbc,#0bbdbc,#0bbdbc,#0bbdbc,#0bbdbc,#0bbdbc,#0bbdbc,#0bbdbc,#0bbdbc,#0bbdbc,#0bbdbc,#0bbdbc,#0bbdbc,#0bbdbc,#0bbdbc,#0bbdbc,#0bbdbc,#0bbdbc,#0bbdbc,#0bbdbc,#0bbdbc,#0bbdbc,#0bbdbc,#0bbdbc,#0bbdbc,#0bbdbc)"></div><div style="top:148px;height:2.6px;background:linear-gradient(90deg,#05bbc1,#05bbc1,#05bbc1,#05bbc1,#05bbc1,#05bbc1,#05bbc1,#05bbc1,#05bbc1,#05bbc1,#05bbc1,#05bbc1,#06bcc1,#06bcc0,#05bbc1,#05bbc1,#05bbc1,#07bcbf,#08bcbf,#05bbc1,#02bac5,#02bac4,#0bbdbc,#14beb8,#07bcbf,#01b7ca,#03b7cc,#07bcbf,#24c1ae,#25c2ae,#01bac5,#1babde,#14b0d8,#33c79d,#7dcc5c,#2ac3a9,#2f82fa,#3578fd,#42ca8b,#feca33,#7dcc5c,#475af9,#4539d9,#2cc4a7,#f6de29,#bcc42f,#317dfc,#4850f3,#01b9c8,#bfc32d,#74cd62,#18aedb,#269ae8,#01b8c9,#34c79c,#2dc4a5,#05bbc1,#01b8c9,#06bcc0,#14beb8,#12beb9,#0bbdbd,#09bdbe,#0bbdbd,#0cbdbc,#0cbdbc,#0bbdbc,#0bbdbc,#0bbdbc,#0bbdbc,#0bbdbc,#0bbdbc,#0bbdbc,#0bbdbc,#0bbdbc,#0bbdbc,#0bbdbc,#0bbdbc,#0bbdbc,#0bbdbc,#0bbdbc,#0bbdbc,#0bbdbc,#0bbdbc,#0bbdbc,#0bbdbc,#0bbdbc,#0bbdbc,#0bbdbc,#0bbdbc,#0bbdbc,#0bbdbc,#0bbdbc)"></div><div style="top:150px;height:2.6px;background:linear-gradient(90deg,#05bbc1,#05bbc1,#05bbc1,#05bbc1,#05bbc1,#05bbc1,#05bbc1,#05bbc1,#05bbc1,#05bbc1,#05bbc1,#05bbc1,#06bcc1,#06bcc1,#05bbc1,#05bbc1,#05bbc1,#07bcbf,#08bcbf,#04bbc2,#02bac5,#03bbc2,#0ebdbb,#12beb9,#04bbc1,#02b7cb,#01b8ca,#0cbdbc,#25c2ae,#21c1b1,#01b8c9,#1baade,#0eb3d4,#3ac994,#78cc5f,#18bfb6,#337bfc,#2f82fa,#64cd6f,#fdcb33,#50cc7f,#484cf0,#4743e7,#48cb86,#f5e227,#92ca4b,#406dfe,#4757f7,#19bfb5,#c8c129,#5fcd73,#1da8e0,#259be7,#03bbc3,#35c79a,#2bc3a8,#02bac3,#01b8c9,#08bcbf,#14bfb8,#12beb9,#0bbdbd,#09bdbe,#0bbdbd,#0cbdbc,#0cbdbc,#0bbdbc,#0bbdbc,#0bbdbc,#0bbdbc,#0bbdbc,#0bbdbc,#0bbdbc,#0bbdbc,#0bbdbc,#0bbdbc,#0bbdbc,#0bbdbc,#0bbdbc,#0bbdbc,#0bbdbc,#0bbdbc,#0bbdbc,#0bbdbc,#0bbdbc,#0bbdbc,#0bbdbc,#0bbdbc,#0bbdbc,#0bbdbc,#0bbdbc,#0bbdbc,#0bbdbc)"></div><div style="top:152px;height:2.6px;background:linear-gradient(90deg,#05bbc1,#05bbc1,#05bbc1,#05bbc1,#05bbc1,#05bbc1,#05bbc1,#05bbc1,#05bbc1,#05bbc1,#05bbc1,#05bbc1,#06bcc1,#06bbc1,#05bbc1,#05bbc1,#06bcc0,#08bcbf,#07bcbf,#03bbc3,#02bac5,#05bbc1,#0fbeba,#0fbeba,#02bac4,#03b7cb,#01b9c8,#11beba,#24c2ae,#1bc0b4,#04b6cd,#1babde,#05b6ce,#42ca8c,#71cd64,#02bac3,#3875fe,#2d8df2,#8ccb50,#fec834,#31c5a1,#4740e3,#4852f4,#7bcc5d,#f5e327,#60cd72,#465ffb,#4660fb,#30c5a1,#cdc028,#49cb85,#21a2e4,#249ee6,#0cbdbc,#37c898,#28c2ab,#01bac6,#01b8c9,#09bcbe,#15bfb7,#11beb9,#0abdbd,#09bdbe,#0bbdbd,#0cbdbc,#0cbdbc,#0bbdbc,#0bbdbc,#0bbdbc,#0bbdbc,#0bbdbc,#0bbdbc,#0bbdbc,#0bbdbc,#0bbdbc,#0bbdbc,#0bbdbc,#0bbdbc,#0bbdbc,#0bbdbc,#0bbdbc,#0bbdbc,#0bbdbc,#0bbdbc,#0bbdbc,#0bbdbc,#0bbdbc,#0bbdbc,#0bbdbc,#0bbdbc,#0bbdbc,#0bbdbc,#0bbdbc)"></div><div style="top:154px;height:2.6px;background:linear-gradient(90deg,#05bbc1,#05bbc1,#05bbc1,#05bbc1,#05bbc1,#05bbc1,#05bbc1,#05bbc1,#05bbc1,#05bbc1,#05bbc1,#05bbc1,#06bcc1,#05bbc1,#05bbc1,#05bbc1,#06bcc0,#08bcbf,#06bcc0,#02bbc3,#02bac4,#07bcc0,#10beba,#0cbdbc,#01b9c6,#02b7cb,#02bac5,#15bfb7,#23c1af,#14bfb8,#07b5d0,#1aabdd,#01b9c8,#4bcb83,#66cd6d,#08b4d0,#3c71ff,#2699e9,#b1c635,#fec338,#0abdbd,#4536d4,#4563fd,#b1c635,#f6e028,#36c898,#4853f5,#416cfe,#45cb89,#cec028,#37c897,#249de6,#23a1e5,#1abfb5,#38c896,#24c1af,#01b9c8,#01b8c8,#0bbdbd,#16bfb7,#10beba,#0abdbd,#09bdbe,#0bbdbd,#0cbdbc,#0cbdbc,#0bbdbc,#0bbdbc,#0bbdbc,#0bbdbc,#0bbdbc,#0bbdbc,#0bbdbc,#0bbdbc,#0bbdbc,#0bbdbc,#0bbdbc,#0bbdbc,#0bbdbc,#0bbdbc,#0bbdbc,#0bbdbc,#0bbdbc,#0bbdbc,#0bbdbc,#0bbdbc,#0bbdbc,#0bbdbc,#0bbdbc,#0bbdbc,#0bbdbc,#0bbdbc,#0bbdbc)"></div><div style="top:156px;height:2.6px;background:linear-gradient(90deg,#05bbc1,#05bbc1,#05bbc1,#05bbc1,#05bbc1,#05bbc1,#05bbc1,#05bbc1,#05bbc1,#05bbc1,#05bbc1,#05bbc1,#06bbc1,#05bbc1,#05bbc1,#05bbc1,#06bcc0,#07bcbf,#05bbc1,#02bac4,#02bac3,#09bcbe,#10beba,#09bcbe,#01b9c7,#01b8ca,#04bbc2,#18bfb6,#20c1b1,#0dbdbc,#0bb3d2,#19addc,#06bbc1,#54cc7c,#59cc79,#19addc,#3e6fff,#1fa6e2,#d0bf27,#fbbc3d,#13b0d7,#4331c7,#337afd,#ddbd29,#f8d92b,#15bfb8,#484aee,#327cfc,#68cd6c,#cbc129,#2bc3a8,#2698ea,#20a5e3,#25c2ae,#38c896,#1ec0b2,#01b8c9,#01b9c7,#0ebdbb,#16bfb7,#0fbeba,#0abdbe,#0abdbe,#0bbdbc,#0cbdbc,#0cbdbc,#0bbdbc,#0bbdbc,#0bbdbc,#0bbdbc,#0bbdbc,#0bbdbc,#0bbdbc,#0bbdbc,#0bbdbc,#0bbdbc,#0bbdbc,#0bbdbc,#0bbdbc,#0bbdbc,#0bbdbc,#0bbdbc,#0bbdbc,#0bbdbc,#0bbdbc,#0bbdbc,#0bbdbc,#0bbdbc,#0bbdbc,#0bbdbc,#0bbdbc,#0bbdbc,#0bbdbc)"></div><div style="top:158px;height:2.6px;background:linear-gradient(90deg,#05bbc1,#05bbc1,#05bbc1,#05bbc1,#05bbc1,#05bbc1,#05bbc1,#05bbc1,#05bbc1,#05bbc1,#05bbc1,#06bbc1,#06bbc1,#05bbc1,#05bbc1,#05bbc1,#07bcc0,#07bcbf,#05bbc1,#02bac4,#03bbc2,#0bbdbd,#0fbeba,#06bcc0,#01b8c9,#01b8c9,#08bcbf,#1ac0b5,#1dc0b3,#07bcbf,#0eb2d4,#16aeda,#12beb9,#5bcc77,#48cb86,#21a4e3,#3d70ff,#0eb2d4,#e7bb2e,#e9bb30,#249de6,#422fc0,#2b92ee,#fbbc3d,#fdce31,#0eb2d4,#4743e8,#2d8cf3,#8dcb4f,#c2c22c,#14beb8,#2995ec,#1ca9df,#2cc4a6,#37c897,#17bfb7,#02b7cb,#01b9c6,#10beba,#16bfb7,#0ebdbb,#09bcbe,#0abdbe,#0cbdbc,#0cbdbc,#0cbdbc,#0bbdbc,#0bbdbc,#0bbdbc,#0bbdbc,#0bbdbc,#0bbdbc,#0bbdbc,#0bbdbc,#0bbdbc,#0bbdbc,#0bbdbc,#0bbdbc,#0bbdbc,#0bbdbc,#0bbdbc,#0bbdbc,#0bbdbc,#0bbdbc,#0bbdbc,#0bbdbc,#0bbdbc,#0bbdbc,#0bbdbc,#0bbdbc,#0bbdbc,#0bbdbc,#0bbdbc)"></div><div style="top:160px;height:2.6px;background:linear-gradient(90deg,#05bbc1,#05bbc1,#05bbc1,#05bbc1,#05bbc1,#05bbc1,#05bbc1,#05bbc1,#05bbc1,#05bbc1,#05bbc1,#06bbc1,#05bbc1,#05bbc1,#05bbc1,#06bbc1,#07bcc0,#07bcc0,#04bbc2,#02bac4,#05bbc1,#0cbdbc,#0dbdbb,#02bbc3,#01b8c9,#01b9c6,#0cbdbc,#1ac0b5,#18bfb6,#02bbc3,#10b2d5,#13b1d7,#20c1b1,#5ecd74,#39c895,#269ae8,#3975fe,#08bcbf,#f6ba3c,#cbc129,#2e87f7,#4230c3,#1da9e0,#fdcb32,#febe3c,#249fe5,#4741e5,#249ee6,#aec637,#b3c534,#01b8c8,#2a92ee,#16aeda,#32c69f,#36c899,#0ebebb,#03b7cc,#02bac5,#13beb9,#16bfb7,#0dbdbc,#09bcbe,#0abdbd,#0cbdbc,#0cbdbc,#0cbdbc,#0bbdbc,#0bbdbc,#0bbdbc,#0bbdbc,#0bbdbc,#0bbdbc,#0bbdbc,#0bbdbc,#0bbdbc,#0bbdbc,#0bbdbc,#0bbdbc,#0bbdbc,#0bbdbc,#0bbdbc,#0bbdbc,#0bbdbc,#0bbdbc,#0bbdbc,#0bbdbc,#0bbdbc,#0bbdbc,#0bbdbc,#0bbdbc,#0bbdbc,#0bbdbc,#0bbdbc)"></div><div style="top:162px;height:2.6px;background:linear-gradient(90deg,#05bbc1,#05bbc1,#05bbc1,#05bbc1,#05bbc1,#05bbc1,#05bbc1,#05bbc1,#05bbc1,#05bbc1,#05bbc1,#06bbc1,#05bbc1,#05bbc1,#05bbc1,#06bcc0,#07bcc0,#06bcc0,#03bbc2,#02bac3,#07bcc0,#0dbdbb,#0abdbd,#02bac5,#01b8c9,#02bac3,#10beba,#18bfb6,#12beb9,#01b9c6,#10b2d5,#0cb3d3,#29c3a9,#5fcd73,#2ec5a4,#2b91ef,#327cfc,#2dc4a5,#febe3c,#9dc943,#3f6fff,#4434d0,#03bbc2,#f8da2b,#e3bc2c,#2d89f5,#4743e7,#16afd9,#c7c129,#9cc944,#12b1d6,#2b91ef,#0bb4d2,#36c898,#34c79c,#07bcbf,#04b6cd,#02bbc3,#15bfb7,#15bfb7,#0cbdbc,#09bcbe,#0abdbd,#0cbdbc,#0cbdbc,#0cbdbc,#0bbdbc,#0bbdbc,#0bbdbc,#0bbdbc,#0bbdbc,#0bbdbc,#0bbdbc,#0bbdbc,#0bbdbc,#0bbdbc,#0bbdbc,#0bbdbc,#0bbdbc,#0bbdbc,#0bbdbc,#0bbdbc,#0bbdbc,#0bbdbc,#0bbdbc,#0bbdbc,#0bbdbc,#0bbdbc,#0bbdbc,#0bbdbc,#0bbdbc,#0bbdbc,#0bbdbc)"></div><div style="top:164px;height:2.6px;background:linear-gradient(90deg,#05bbc1,#05bbc1,#05bbc1,#05bbc1,#05bbc1,#05bbc1,#05bbc1,#05bbc1,#05bbc1,#05bbc1,#05bbc1,#05bbc1,#05bbc1,#05bbc1,#05bbc1,#06bcc0,#07bcc0,#05bbc1,#03bbc3,#03bbc3,#08bcbf,#0dbdbb,#07bcbf,#01b9c6,#01b9c8,#06bcc0,#12beb9,#15bfb8,#0cbdbc,#01b9c8,#10b2d5,#06b6ce,#30c5a2,#5ccc76,#1dc0b3,#2d89f5,#2e86f7,#48cb86,#fec03a,#61cd71,#4758f8,#473fe3,#35c79a,#f5e327,#b2c635,#3d70ff,#484aed,#06bcc0,#d8be28,#7dcc5b,#1ea7e1,#2a92ee,#01b8c8,#3bc992,#31c5a1,#02bac4,#04b6cd,#05bbc1,#17bfb6,#14bfb8,#0bbdbd,#09bcbe,#0abdbd,#0cbdbc,#0cbdbc,#0bbdbc,#0bbdbc,#0bbdbc,#0bbdbc,#0bbdbc,#0bbdbc,#0bbdbc,#0bbdbc,#0bbdbc,#0bbdbc,#0bbdbc,#0bbdbc,#0bbdbc,#0bbdbc,#0bbdbc,#0bbdbc,#0bbdbc,#0bbdbc,#0bbdbc,#0bbdbc,#0bbdbc,#0bbdbc,#0bbdbc,#0bbdbc,#0bbdbc,#0bbdbc,#0bbdbc,#0bbdbc)"></div><div style="top:166px;height:2.6px;background:linear-gradient(90deg,#05bbc1,#05bbc1,#05bbc1,#05bbc1,#05bbc1,#05bbc1,#05bbc1,#05bbc1,#05bbc1,#05bbc1,#05bbc1,#05bbc1,#05bbc1,#05bbc1,#05bbc1,#06bcc0,#06bcc0,#05bbc1,#02bbc3,#04bbc2,#0abdbd,#0cbdbc,#04bbc1,#01b9c7,#01bac6,#0abdbe,#13beb9,#10beba,#08bcbf,#01b8c9,#0eb2d4,#01b8c9,#35c79a,#55cc7c,#04bbc2,#2e83f9,#2a93ee,#77cc60,#febf3c,#32c69f,#4746ea,#4852f4,#74cd62,#f5e625,#6bcd69,#475af9,#4756f6,#30c5a1,#e2bc2b,#59cc78,#249ee6,#2896ec,#0abdbd,#3fca8e,#2dc4a6,#01b9c8,#04b6cc,#08bcbf,#18bfb6,#13beb8,#0abdbd,#09bcbe,#0bbdbd,#0cbdbc,#0cbdbc,#0bbdbc,#0bbdbc,#0bbdbc,#0bbdbc,#0bbdbc,#0bbdbc,#0bbdbc,#0bbdbc,#0bbdbc,#0bbdbc,#0bbdbc,#0bbdbc,#0bbdbc,#0bbdbc,#0bbdbc,#0bbdbc,#0bbdbc,#0bbdbc,#0bbdbc,#0bbdbc,#0bbdbc,#0bbdbc,#0bbdbc,#0bbdbc,#0bbdbc,#0bbdbc,#0bbdbc,#0bbdbc)"></div><div style="top:168px;height:2.6px;background:linear-gradient(90deg,#05bbc1,#05bbc1,#05bbc1,#05bbc1,#05bbc1,#05bbc1,#05bbc1,#05bbc1,#05bbc1,#05bbc1,#05bbc1,#05bbc1,#05bbc1,#05bbc1,#06bbc1,#06bcc0,#06bcc0,#04bbc2,#03bbc3,#06bcc0,#0bbdbd,#0abdbd,#02bac4,#01b9c7,#02bbc3,#0dbdbb,#11beba,#0bbdbd,#05bbc1,#01b8ca,#0cb3d2,#02bac4,#3ac994,#4acb85,#08b4d0,#307ffb,#23a1e4,#a7c73c,#f8ba3d,#02bac4,#4639da,#416bfe,#bec32e,#f5e227,#31c6a0,#4849ed,#4367fd,#57cc7a,#e4bb2c,#38c896,#2995ec,#269be8,#20c1b1,#42ca8b,#26c2ac,#02b7cb,#02b7cb,#0cbdbc,#19bfb5,#12beb9,#09bcbe,#09bcbe,#0bbdbd,#0dbdbc,#0cbdbc,#0bbdbc,#0bbdbc,#0bbdbc,#0bbdbc,#0bbdbc,#0bbdbc,#0bbdbc,#0bbdbc,#0bbdbc,#0bbdbc,#0bbdbc,#0bbdbc,#0bbdbc,#0bbdbc,#0bbdbc,#0bbdbc,#0bbdbc,#0bbdbc,#0bbdbc,#0bbdbc,#0bbdbc,#0bbdbc,#0bbdbc,#0bbdbc,#0bbdbc,#0bbdbc,#0bbdbc,#0bbdbc)"></div><div style="top:170px;height:2.6px;background:linear-gradient(90deg,#05bbc1,#05bbc1,#05bbc1,#05bbc1,#05bbc1,#05bbc1,#05bbc1,#05bbc1,#05bbc1,#05bbc1,#05bbc1,#05bbc1,#05bbc1,#05bbc1,#06bcc0,#06bcc0,#05bbc1,#04bbc2,#03bbc2,#07bcbf,#0bbdbd,#07bcbf,#01bac5,#01b9c6,#07bcc0,#10beba,#0cbdbc,#07bcbf,#04bbc2,#01b8ca,#09b4d1,#09bdbe,#3eca8f,#3dca90,#1aacdd,#317efb,#14b0d8,#cbc029,#e4bb2c,#1ea7e1,#4434cd,#2d8af5,#f1ba37,#f9d62d,#01b8ca,#463de0,#307ffb,#8fcb4e,#ddbd29,#21c1b0,#2d8df2,#22a2e4,#2dc4a5,#42ca8b,#1dc0b3,#05b6ce,#01b8ca,#10beba,#1abfb5,#10beba,#08bcbe,#09bcbe,#0cbdbc,#0dbdbc,#0cbdbc,#0bbdbc,#0bbdbc,#0bbdbc,#0bbdbc,#0bbdbc,#0bbdbc,#0bbdbc,#0bbdbc,#0bbdbc,#0bbdbc,#0bbdbc,#0bbdbc,#0bbdbc,#0bbdbc,#0bbdbc,#0bbdbc,#0bbdbc,#0bbdbc,#0bbdbc,#0bbdbc,#0bbdbc,#0bbdbc,#0bbdbc,#0bbdbc,#0bbdbc,#0bbdbc,#0bbdbc,#0bbdbc)"></div><div style="top:172px;height:2.6px;background:linear-gradient(90deg,#05bbc1,#05bbc1,#05bbc1,#05bbc1,#05bbc1,#05bbc1,#05bbc1,#05bbc1,#05bbc1,#05bbc1,#05bbc1,#05bbc1,#05bbc1,#05bbc1,#06bcc0,#06bcc0,#05bbc1,#03bbc2,#04bbc1,#09bcbe,#0abdbd,#04bbc1,#01b9c6,#02bac4,#0bbdbd,#0fbeba,#08bcbf,#05bbc1,#04bbc2,#01b8ca,#06b5cf,#14beb8,#42ca8c,#33c79d,#21a3e4,#2f82fa,#05bbc1,#e3bc2c,#bfc32d,#2d8df2,#4434ce,#1ea8e1,#fdcb33,#fec339,#249fe5,#4538d8,#2699ea,#bfc32d,#ccc028,#01b8c8,#2d88f6,#1caadf,#36c898,#3fca8e,#10beba,#08b5d0,#01b9c7,#15bfb8,#1abfb5,#0ebdbb,#08bcbf,#09bcbe,#0cbdbc,#0dbdbc,#0cbdbc,#0bbdbd,#0bbdbc,#0bbdbc,#0bbdbc,#0bbdbc,#0bbdbc,#0bbdbc,#0bbdbc,#0bbdbc,#0bbdbc,#0bbdbc,#0bbdbc,#0bbdbc,#0bbdbc,#0bbdbc,#0bbdbc,#0bbdbc,#0bbdbc,#0bbdbc,#0bbdbc,#0bbdbc,#0bbdbc,#0bbdbc,#0bbdbc,#0bbdbc,#0bbdbc,#0bbdbc,#0bbdbc)"></div><div style="top:174px;height:2.6px;background:linear-gradient(90deg,#05bbc1,#05bbc1,#05bbc1,#05bbc1,#05bbc1,#05bbc1,#05bbc1,#05bbc1,#05bbc1,#05bbc1,#05bbc1,#05bbc1,#05bbc1,#05bbc1,#06bcc0,#06bcc0,#04bbc1,#04bbc2,#06bcc0,#09bdbe,#09bcbe,#02bac3,#01b9c6,#04bbc2,#0ebebb,#0cbdbc,#04bbc1,#04bbc2,#05bbc1,#01b8ca,#04b6cd,#1ec0b2,#43ca8b,#29c3aa,#269ae9,#2d89f5,#2ec4a4,#f0ba36,#85cb55,#3e70ff,#463bdc,#0fbebb,#f7dd2a,#e0bc2a,#2f80fa,#463adc,#13b1d7,#dfbc2a,#aec637,#19acdc,#2e87f7,#0eb3d4,#40ca8d,#3ac994,#05bbc1,#0ab4d1,#02bac4,#19bfb5,#19bfb5,#0cbdbc,#08bcbf,#0abdbe,#0cbdbc,#0dbdbc,#0cbdbc,#0bbdbd,#0bbdbc,#0bbdbc,#0bbdbc,#0bbdbc,#0bbdbc,#0bbdbc,#0bbdbc,#0bbdbc,#0bbdbc,#0bbdbc,#0bbdbc,#0bbdbc,#0bbdbc,#0bbdbc,#0bbdbc,#0bbdbc,#0bbdbc,#0bbdbc,#0bbdbc,#0bbdbc,#0bbdbc,#0bbdbc,#0bbdbc,#0bbdbc,#0bbdbc,#0bbdbc,#0bbdbc)"></div><div style="top:176px;height:2.6px;background:linear-gradient(90deg,#05bbc1,#05bbc1,#05bbc1,#05bbc1,#05bbc1,#05bbc1,#05bbc1,#05bbc1,#05bbc1,#05bbc1,#05bbc1,#05bbc1,#05bbc1,#06bcc0,#06bcc0,#05bbc1,#04bbc2,#04bbc2,#07bcc0,#09bdbe,#06bcc0,#02bac5,#02bac5,#08bcbf,#10beba,#08bcbf,#02bac4,#05bbc1,#06bcc0,#01b8ca,#02b7cb,#26c2ac,#41ca8c,#13beb8,#2b92ee,#2994ed,#4ecc81,#f2ba38,#42ca8c,#4757f7,#484cf0,#4bcb83,#f5e725,#98ca47,#4660fb,#4745ea,#1fc1b1,#f1ba37,#7fcc5a,#249de6,#2d89f5,#02bac4,#4ccb83,#34c79c,#01b8c8,#0ab4d1,#05bbc1,#1cc0b4,#17bfb6,#0abdbd,#07bcbf,#0abdbd,#0dbdbc,#0dbdbc,#0bbdbc,#0bbdbd,#0bbdbc,#0bbdbc,#0bbdbc,#0bbdbc,#0bbdbc,#0bbdbc,#0bbdbc,#0bbdbc,#0bbdbc,#0bbdbc,#0bbdbc,#0bbdbc,#0bbdbc,#0bbdbc,#0bbdbc,#0bbdbc,#0bbdbc,#0bbdbc,#0bbdbc,#0bbdbc,#0bbdbc,#0bbdbc,#0bbdbc,#0bbdbc,#0bbdbc,#0bbdbc,#0bbdbc)"></div><div style="top:178px;height:2.6px;background:linear-gradient(90deg,#05bbc1,#05bbc1,#05bbc1,#05bbc1,#05bbc1,#05bbc1,#05bbc1,#05bbc1,#05bbc1,#05bbc1,#05bbc1,#05bbc1,#05bbc1,#06bcc0,#06bcc0,#05bbc1,#04bbc2,#05bbc1,#08bcbf,#09bcbe,#04bbc2,#01bac5,#02bbc3,#0cbdbc,#0ebebb,#03bbc2,#02bac5,#07bcbf,#07bcbf,#02b7cb,#01b8c8,#2cc4a6,#3dc990,#01b9c7,#2d8df3,#23a1e4,#82cc58,#eaba31,#12beb9,#4744e9,#4366fd,#a7c73c,#f5e626,#3eca90,#4747eb,#4759f9,#4fcc80,#f7ba3c,#49cb85,#2c8ff1,#2c90f0,#1dc0b3,#53cc7d,#2dc4a5,#05b6ce,#08b5d0,#0abdbd,#1dc0b3,#15bfb8,#09bcbe,#07bcbf,#0bbdbd,#0dbdbb,#0cbdbc,#0bbdbc,#0bbdbd,#0bbdbc,#0bbdbc,#0bbdbc,#0bbdbc,#0bbdbc,#0bbdbc,#0bbdbc,#0bbdbc,#0bbdbc,#0bbdbc,#0bbdbc,#0bbdbc,#0bbdbc,#0bbdbc,#0bbdbc,#0bbdbc,#0bbdbc,#0bbdbc,#0bbdbc,#0bbdbc,#0bbdbc,#0bbdbc,#0bbdbc,#0bbdbc,#0bbdbc,#0bbdbc,#0bbdbc)"></div><div style="top:180px;height:2.6px;background:linear-gradient(90deg,#05bbc1,#05bbc1,#05bbc1,#05bbc1,#05bbc1,#05bbc1,#05bbc1,#05bbc1,#05bbc1,#05bbc1,#05bbc1,#05bbc1,#05bbc1,#06bcc0,#06bcc0,#05bbc1,#04bbc2,#06bcc0,#08bcbf,#08bcbf,#02bbc3,#01bac5,#05bbc1,#0fbeba,#0bbdbd,#02bac5,#02bac5,#0abdbd,#07bcbf,#03b7cc,#01b9c6,#30c5a2,#39c895,#0ab4d2,#2d8bf4,#19acdc,#a5c83d,#dbbd29,#12b1d6,#463cdf,#2f81fa,#dfbc2a,#f7dd2a,#0fbebb,#463ada,#3f6eff,#88cb53,#f4ba3a,#2fc5a3,#2e86f8,#2797eb,#2dc4a5,#55cc7c,#25c2ad,#0ab4d2,#06b5cf,#10beba,#1ec0b2,#13beb9,#08bcbf,#08bcbf,#0bbdbc,#0dbdbb,#0cbdbc,#0bbdbd,#0bbdbd,#0bbdbc,#0cbdbc,#0bbdbc,#0bbdbc,#0bbdbc,#0bbdbc,#0bbdbc,#0bbdbc,#0bbdbc,#0bbdbc,#0bbdbc,#0bbdbc,#0bbdbc,#0bbdbc,#0bbdbc,#0bbdbc,#0bbdbc,#0bbdbc,#0bbdbc,#0bbdbc,#0bbdbc,#0bbdbc,#0bbdbc,#0bbdbc,#0bbdbc,#0bbdbc,#0bbdbc)"></div><div style="top:182px;height:2.6px;background:linear-gradient(90deg,#05bbc1,#05bbc1,#05bbc1,#05bbc1,#05bbc1,#05bbc1,#05bbc1,#05bbc1,#05bbc1,#05bbc1,#05bbc1,#05bbc1,#05bbc1,#06bcc0,#06bcc0,#05bbc1,#04bbc2,#06bcc0,#08bcbf,#08bcbf,#02bbc3,#01bac5,#05bbc1,#0fbeba,#0bbdbd,#02bac5,#02bac5,#0abdbd,#07bcbf,#03b7cc,#01b9c6,#30c5a2,#39c895,#0ab4d2,#2d8bf4,#19acdc,#a5c83d,#dbbd29,#12b1d6,#463cdf,#2f81fa,#dfbc2a,#f7dd2a,#0fbebb,#463ada,#3f6eff,#88cb53,#f4ba3a,#2fc5a3,#2e86f8,#2797eb,#2dc4a5,#55cc7c,#25c2ad,#0ab4d2,#06b5cf,#10beba,#1ec0b2,#13beb9,#08bcbf,#08bcbf,#0bbdbc,#0dbdbb,#0cbdbc,#0bbdbd,#0bbdbd,#0bbdbc,#0cbdbc,#0bbdbc,#0bbdbc,#0bbdbc,#0bbdbc,#0bbdbc,#0bbdbc,#0bbdbc,#0bbdbc,#0bbdbc,#0bbdbc,#0bbdbc,#0bbdbc,#0bbdbc,#0bbdbc,#0bbdbc,#0bbdbc,#0bbdbc,#0bbdbc,#0bbdbc,#0bbdbc,#0bbdbc,#0bbdbc,#0bbdbc,#0bbdbc,#0bbdbc)"></div><div style="top:184px;height:1.1px;background:linear-gradient(90deg,#05bbc1,#05bbc1,#05bbc1,#05bbc1,#05bbc1,#05bbc1,#05bbc1,#05bbc1,#05bbc1,#05bbc1,#05bbc1,#05bbc1,#05bbc1,#06bcc0,#06bcc0,#05bbc1,#04bbc2,#06bcc0,#08bcbf,#08bcbf,#02bbc3,#01bac5,#05bbc1,#0fbeba,#0bbdbd,#02bac5,#02bac5,#0abdbd,#07bcbf,#03b7cc,#01b9c6,#30c5a2,#39c895,#0ab4d2,#2d8bf4,#19acdc,#a5c83d,#dbbd29,#12b1d6,#463cdf,#2f81fa,#dfbc2a,#f7dd2a,#0fbebb,#463ada,#3f6eff,#88cb53,#f4ba3a,#2fc5a3,#2e86f8,#2797eb,#2dc4a5,#55cc7c,#25c2ad,#0ab4d2,#06b5cf,#10beba,#1ec0b2,#13beb9,#08bcbf,#08bcbf,#0bbdbc,#0dbdbb,#0cbdbc,#0bbdbd,#0bbdbd,#0bbdbc,#0cbdbc,#0bbdbc,#0bbdbc,#0bbdbc,#0bbdbc,#0bbdbc,#0bbdbc,#0bbdbc,#0bbdbc,#0bbdbc,#0bbdbc,#0bbdbc,#0bbdbc,#0bbdbc,#0bbdbc,#0bbdbc,#0bbdbc,#0bbdbc,#0bbdbc,#0bbdbc,#0bbdbc,#0bbdbc,#0bbdbc,#0bbdbc,#0bbdbc,#0bbdbc)"></div></div></div>
<div class="hm" style="left:312px;top:5.9px;width:177.1px;height:176.5px"><div class="in" style="left:-4px;top:-4px;width:184px;height:184.5px"><div style="top:0px;height:2.6px;background:linear-gradient(90deg,#1fc1b1,#1fc1b1,#1fc1b1,#1ec0b2,#1ec0b2,#1dc0b3,#1dc0b3,#1dc0b3,#1dc0b3,#1dc0b3,#1dc0b3,#1dc0b3,#1dc0b3,#1dc0b3,#1dc0b3,#1dc0b3,#1dc0b3,#1dc0b3,#1dc0b3,#1dc0b3,#1dc0b3,#1dc0b3,#1dc0b3,#1dc0b3,#1dc0b3,#1dc0b3,#1dc0b3,#1dc0b3,#1dc0b3,#1dc0b3,#1dc0b3,#1dc0b3,#1dc0b3,#1dc0b3,#1dc0b3,#1dc0b3,#1dc0b3,#1dc0b3,#1dc0b3,#1dc0b3,#1dc0b3,#1dc0b3,#1dc0b3,#1dc0b3,#1dc0b3,#1dc0b3,#1dc0b3,#1dc0b3,#1dc0b3,#1dc0b3,#1dc0b3,#1dc0b3,#1ec0b2,#1dc0b3,#1cc0b4,#1cc0b3,#1fc1b1,#21c1b0,#1cc0b3,#14bfb8,#17bfb6,#25c2ad,#2ac3a8,#1ec0b2,#05bbc1,#07bcbf,#2bc3a8,#38c895,#26c2ac,#09b4d1,#0eb2d4,#30c5a1,#7bcc5d,#3bc992,#249ee6,#2d8bf4,#30c5a2,#f6ba3b,#9fc942,#2d89f5,#4756f7,#0ebdbb,#fec03b,#c4c22a,#21a3e3,#337bfd,#01b8c9,#7ecc5b,#5dcc75,#06bcc0,#0cb3d3,#01b8c9,#01b8c9)"></div><div style="top:2px;height:2.6px;background:linear-gradient(90deg,#1fc1b1,#1fc1b1,#1fc1b1,#1ec0b2,#1ec0b2,#1dc0b3,#1dc0b3,#1dc0b3,#1dc0b3,#1dc0b3,#1dc0b3,#1dc0b3,#1dc0b3,#1dc0b3,#1dc0b3,#1dc0b3,#1dc0b3,#1dc0b3,#1dc0b3,#1dc0b3,#1dc0b3,#1dc0b3,#1dc0b3,#1dc0b3,#1dc0b3,#1dc0b3,#1dc0b3,#1dc0b3,#1dc0b3,#1dc0b3,#1dc0b3,#1dc0b3,#1dc0b3,#1dc0b3,#1dc0b3,#1dc0b3,#1dc0b3,#1dc0b3,#1dc0b3,#1dc0b3,#1dc0b3,#1dc0b3,#1dc0b3,#1dc0b3,#1dc0b3,#1dc0b3,#1dc0b3,#1dc0b3,#1dc0b3,#1dc0b3,#1dc0b3,#1dc0b3,#1ec0b2,#1dc0b3,#1cc0b4,#1cc0b3,#1fc1b1,#21c1b0,#1cc0b3,#14bfb8,#17bfb6,#25c2ad,#2ac3a8,#1ec0b2,#05bbc1,#07bcbf,#2bc3a8,#38c895,#26c2ac,#09b4d1,#0eb2d4,#30c5a1,#7bcc5d,#3bc992,#249ee6,#2d8bf4,#30c5a2,#f6ba3b,#9fc942,#2d89f5,#4756f7,#0ebdbb,#fec03b,#c4c22a,#21a3e3,#337bfd,#01b8c9,#7ecc5b,#5dcc75,#06bcc0,#0cb3d3,#01b8c9,#01b8c9)"></div><div style="top:4px;height:2.6px;background:linear-gradient(90deg,#20c1b1,#20c1b1,#20c1b1,#1ec0b2,#1ec0b2,#1dc0b3,#1dc0b3,#1dc0b3,#1dc0b3,#1dc0b3,#1dc0b3,#1dc0b3,#1dc0b3,#1dc0b3,#1dc0b3,#1dc0b3,#1dc0b3,#1dc0b3,#1dc0b3,#1dc0b3,#1dc0b3,#1dc0b3,#1dc0b3,#1dc0b3,#1dc0b3,#1dc0b3,#1dc0b3,#1dc0b3,#1dc0b3,#1dc0b3,#1dc0b3,#1dc0b3,#1dc0b3,#1dc0b3,#1dc0b3,#1dc0b3,#1dc0b3,#1dc0b3,#1dc0b3,#1dc0b3,#1dc0b3,#1dc0b3,#1dc0b3,#1dc0b3,#1dc0b3,#1dc0b3,#1dc0b3,#1dc0b3,#1dc0b3,#1dc0b3,#1dc0b3,#1dc0b3,#1dc0b3,#1dc0b3,#1bc0b4,#1cc0b4,#1fc0b2,#21c1b0,#1dc0b3,#14bfb8,#16bfb7,#24c1af,#2bc3a8,#20c1b1,#05bbc1,#05bbc1,#28c3ab,#39c895,#2bc3a8,#06b5cf,#12b1d7,#2ac3a9,#79cc5f,#48cb86,#20a4e3,#2e87f7,#1dc0b3,#f0ba36,#bdc32e,#2896eb,#4852f4,#07b5d0,#f9ba3d,#dabd28,#18aedb,#347afd,#0eb3d4,#71cd64,#65cd6e,#10beba,#0bb3d2,#02b7cb,#02b7cb)"></div><div style="top:6px;height:2.6px;background:linear-gradient(90deg,#20c1b1,#20c1b1,#20c1b1,#1fc0b2,#1ec0b2,#1ec0b2,#1dc0b3,#1dc0b3,#1dc0b3,#1dc0b3,#1dc0b3,#1dc0b3,#1dc0b3,#1dc0b3,#1dc0b3,#1dc0b3,#1dc0b3,#1dc0b3,#1dc0b3,#1dc0b3,#1dc0b3,#1dc0b3,#1dc0b3,#1dc0b3,#1dc0b3,#1dc0b3,#1dc0b3,#1dc0b3,#1dc0b3,#1dc0b3,#1dc0b3,#1dc0b3,#1dc0b3,#1dc0b3,#1dc0b3,#1dc0b3,#1dc0b3,#1dc0b3,#1dc0b3,#1dc0b3,#1dc0b3,#1dc0b3,#1dc0b3,#1dc0b3,#1dc0b3,#1dc0b3,#1dc0b3,#1dc0b3,#1dc0b3,#1cc0b3,#1dc0b3,#1dc0b3,#1ec0b2,#1dc0b3,#1cc0b4,#1bc0b4,#1ec0b2,#21c1b0,#1ec0b2,#15bfb7,#13beb8,#21c1b1,#2bc3a8,#25c2ae,#08bcbf,#02bac4,#21c1b1,#37c897,#31c6a1,#01b8c9,#17aeda,#16bfb7,#6fcd66,#65cd6e,#14b0d8,#2f82fa,#08b4d1,#d9be28,#e8bb2e,#16afd9,#4851f3,#259de7,#d7be28,#f6ba3b,#09bdbe,#317dfb,#1fa6e2,#54cc7c,#71cd64,#24c2ae,#07b5d0,#04b6cd,#04b6cd)"></div><div style="top:8px;height:2.6px;background:linear-gradient(90deg,#21c1b1,#21c1b1,#21c1b1,#20c1b1,#1fc0b2,#1ec0b2,#1dc0b3,#1dc0b3,#1dc0b3,#1dc0b3,#1dc0b3,#1dc0b3,#1dc0b3,#1dc0b3,#1dc0b3,#1dc0b3,#1dc0b3,#1dc0b3,#1dc0b3,#1dc0b3,#1dc0b3,#1dc0b3,#1dc0b3,#1dc0b3,#1dc0b3,#1dc0b3,#1dc0b3,#1dc0b3,#1dc0b3,#1dc0b3,#1dc0b3,#1dc0b3,#1dc0b3,#1dc0b3,#1dc0b3,#1dc0b3,#1dc0b3,#1dc0b3,#1dc0b3,#1dc0b3,#1dc0b3,#1dc0b3,#1dc0b3,#1dc0b3,#1dc0b3,#1dc0b3,#1dc0b3,#1dc0b3,#1dc0b3,#1dc0b3,#1dc0b3,#1ec0b2,#1ec0b2,#1ec0b2,#1cc0b3,#1cc0b3,#1fc0b2,#22c1b0,#21c1b1,#18bfb6,#13beb8,#1ec0b2,#2bc3a8,#28c3aa,#0ebdbb,#02bac5,#18bfb6,#36c799,#36c799,#05bbc1,#18addb,#02bac3,#5fcd73,#7ecc5b,#02bac5,#2f82f9,#20a4e3,#b1c635,#fcbc3d,#18bfb6,#4757f8,#2e84f9,#9ec942,#febf3b,#35c79b,#2e86f7,#269ae9,#39c994,#75cc61,#30c5a2,#03b7cc,#05b6ce,#05b6ce)"></div><div style="top:10px;height:2.6px;background:linear-gradient(90deg,#21c1b0,#21c1b0,#21c1b0,#20c1b1,#1fc1b1,#1ec0b2,#1ec0b2,#1dc0b3,#1dc0b3,#1dc0b3,#1dc0b3,#1dc0b3,#1dc0b3,#1dc0b3,#1dc0b3,#1dc0b3,#1dc0b3,#1dc0b3,#1dc0b3,#1dc0b3,#1dc0b3,#1dc0b3,#1dc0b3,#1dc0b3,#1dc0b3,#1dc0b3,#1dc0b3,#1dc0b3,#1dc0b3,#1dc0b3,#1dc0b3,#1dc0b3,#1dc0b3,#1dc0b3,#1dc0b3,#1dc0b3,#1dc0b3,#1dc0b3,#1dc0b3,#1dc0b3,#1dc0b3,#1dc0b3,#1dc0b3,#1dc0b3,#1dc0b3,#1dc0b3,#1dc0b3,#1dc0b3,#1dc0b3,#1dc0b3,#1bc0b4,#1cc0b4,#1cc0b3,#1cc0b3,#1bc0b4,#1ac0b5,#1cc0b3,#21c1b0,#21c1b0,#19bfb5,#12beb9,#1bc0b4,#2ac3a9,#2bc3a8,#15bfb8,#01bac5,#0ebebb,#33c69d,#3ac994,#14beb8,#17aeda,#05b6ce,#4bcb84,#8ecb4f,#22c1af,#2d88f6,#2994ed,#7acc5d,#fec338,#44ca8a,#4465fd,#406cfe,#58cc79,#fec13a,#62cd70,#2a93ee,#2b91ef,#29c3a9,#71cd64,#38c896,#01b9c7,#04b6cd,#04b6cd)"></div><div style="top:12px;height:2.6px;background:linear-gradient(90deg,#21c1b0,#21c1b0,#21c1b0,#21c1b0,#20c1b1,#1fc0b2,#1ec0b2,#1dc0b3,#1dc0b3,#1dc0b3,#1dc0b3,#1dc0b3,#1dc0b3,#1dc0b3,#1dc0b3,#1dc0b3,#1dc0b3,#1dc0b3,#1dc0b3,#1dc0b3,#1dc0b3,#1dc0b3,#1dc0b3,#1dc0b3,#1dc0b3,#1dc0b3,#1dc0b3,#1dc0b3,#1dc0b3,#1dc0b3,#1cc0b3,#1cc0b3,#1cc0b3,#1cc0b3,#1cc0b3,#1cc0b3,#1cc0b3,#1cc0b3,#1cc0b3,#1cc0b3,#1cc0b3,#1cc0b3,#1cc0b3,#1cc0b3,#1cc0b3,#1cc0b3,#1cc0b3,#1cc0b3,#1cc0b3,#1cc0b3,#1ac0b5,#1ac0b4,#1bc0b4,#1bc0b4,#1abfb5,#18bfb6,#1abfb5,#1ec0b2,#20c1b1,#19bfb5,#0fbeba,#16bfb7,#27c2ab,#2cc4a7,#1ac0b4,#02bac5,#07bcc0,#2fc5a3,#3dc991,#21c1b0,#15afd8,#12b1d6,#39c995,#95ca49,#36c899,#2b91ef,#2e86f7,#43ca8a,#fec338,#86cb55,#337afd,#475cfa,#2cc4a7,#fdbd3d,#99c946,#23a1e5,#2d8bf4,#0dbdbc,#68cd6c,#42ca8c,#06bcc0,#02b7cb,#02b7cb)"></div><div style="top:14px;height:2.6px;background:linear-gradient(90deg,#21c1b0,#21c1b0,#21c1b0,#21c1b0,#21c1b1,#1fc1b1,#1ec0b2,#1ec0b2,#1dc0b2,#1dc0b3,#1dc0b3,#1dc0b3,#1dc0b3,#1dc0b3,#1dc0b3,#1dc0b3,#1dc0b3,#1dc0b3,#1dc0b3,#1dc0b3,#1dc0b3,#1dc0b3,#1dc0b3,#1dc0b3,#1dc0b3,#1cc0b3,#1cc0b3,#1cc0b3,#1cc0b3,#1dc0b3,#1dc0b3,#1dc0b3,#1dc0b3,#1dc0b3,#1dc0b3,#1dc0b3,#1dc0b3,#1dc0b3,#1dc0b3,#1dc0b3,#1dc0b3,#1dc0b3,#1dc0b3,#1dc0b3,#1dc0b3,#1dc0b3,#1dc0b3,#1dc0b2,#1dc0b2,#1dc0b3,#1ec0b2,#1ec0b2,#1fc0b2,#1fc0b2,#1dc0b3,#1bc0b4,#1bc0b4,#1fc0b1,#21c1b0,#1bc0b4,#0fbeba,#12beb9,#25c2ae,#2cc4a6,#20c1b1,#02bac3,#03bbc3,#2bc3a8,#3eca8f,#2cc4a7,#0fb2d4,#19addc,#2ec4a4,#94ca4a,#50cc7f,#259ce7,#327cfc,#24c2ae,#febe3c,#c1c32c,#2b91ef,#4853f5,#01b8ca,#f0ba36,#c3c22b,#16afd9,#2d89f5,#03b7cc,#5acc77,#4bcb83,#12beb9,#01b9c8,#01b9c8)"></div><div style="top:16px;height:2.6px;background:linear-gradient(90deg,#21c1b0,#21c1b0,#21c1b0,#21c1b0,#21c1b0,#20c1b1,#1fc1b1,#1ec0b2,#1ec0b2,#1dc0b3,#1dc0b3,#1dc0b3,#1dc0b3,#1dc0b3,#1dc0b3,#1dc0b3,#1dc0b3,#1dc0b3,#1dc0b3,#1dc0b3,#1dc0b3,#1dc0b3,#1cc0b3,#1cc0b3,#1cc0b3,#1dc0b3,#1dc0b3,#1dc0b3,#1dc0b2,#1ec0b2,#1ec0b2,#1ec0b2,#1ec0b2,#1ec0b2,#1ec0b2,#1dc0b2,#1dc0b3,#1dc0b3,#1dc0b3,#1dc0b3,#1dc0b3,#1dc0b3,#1dc0b3,#1dc0b3,#1dc0b3,#1dc0b3,#1dc0b3,#1dc0b3,#1dc0b3,#1dc0b3,#1fc0b2,#1fc0b2,#20c1b1,#20c1b1,#1fc0b1,#1dc0b3,#1dc0b3,#21c1b0,#24c1ae,#1fc0b2,#12beb9,#10beba,#21c1b0,#2cc4a7,#23c1af,#03bbc2,#01b9c6,#25c2ad,#3fca8e,#32c69e,#05b6ce,#1baade,#1ec0b2,#8ccb50,#6ecd66,#1ea8e1,#3875fe,#02b7ca,#f1ba37,#e8bb2e,#1ea6e1,#4851f3,#1fa6e1,#d7be28,#ddbd29,#01bac5,#2d8af4,#15afd8,#49cb85,#53cc7d,#1ec0b2,#02bac4,#02bac4)"></div><div style="top:18px;height:2.6px;background:linear-gradient(90deg,#20c1b1,#20c1b1,#20c1b1,#21c1b0,#21c1b0,#21c1b0,#20c1b1,#1fc0b2,#1ec0b2,#1dc0b3,#1dc0b3,#1dc0b3,#1dc0b3,#1dc0b3,#1dc0b3,#1dc0b3,#1dc0b3,#1dc0b3,#1dc0b3,#1dc0b3,#1cc0b3,#1cc0b3,#1dc0b3,#1dc0b3,#1dc0b3,#1ec0b2,#1ec0b2,#1ec0b2,#1dc0b3,#1dc0b3,#1dc0b3,#1dc0b3,#1cc0b3,#1cc0b3,#1cc0b3,#1cc0b3,#1cc0b3,#1cc0b3,#1cc0b3,#1cc0b3,#1cc0b3,#1cc0b3,#1cc0b3,#1cc0b3,#1cc0b3,#1cc0b3,#1cc0b3,#1cc0b3,#1cc0b3,#1cc0b3,#1cc0b3,#1cc0b3,#1dc0b3,#1ec0b2,#1dc0b3,#1bc0b4,#1bc0b4,#1fc1b1,#24c1ae,#21c1b0,#16bfb7,#11beba,#20c1b1,#2cc4a6,#26c2ac,#05bbc1,#01b8ca,#19bfb5,#3bc993,#36c898,#01b9c8,#1da9e0,#08bcbf,#7fcc5a,#8acb52,#0db3d3,#3a73fe,#1ca9df,#d8be28,#fcbd3d,#01b8ca,#4853f5,#2a93ee,#b1c635,#ecba33,#25c2ae,#2c8ff1,#1da8e0,#3bc993,#57cc7a,#28c2ab,#08bcbf,#08bcbf)"></div><div style="top:20px;height:2.6px;background:linear-gradient(90deg,#20c1b1,#20c1b1,#20c1b1,#20c1b1,#21c1b0,#21c1b0,#21c1b1,#1fc1b1,#1ec0b2,#1ec0b2,#1ec0b2,#1dc0b3,#1dc0b3,#1dc0b3,#1dc0b3,#1dc0b3,#1dc0b3,#1dc0b3,#1cc0b3,#1cc0b3,#1dc0b3,#1dc0b3,#1ec0b2,#1ec0b2,#1dc0b3,#1dc0b3,#1dc0b3,#1cc0b3,#1cc0b3,#1cc0b3,#1cc0b3,#1cc0b3,#1cc0b3,#1dc0b3,#1dc0b3,#1dc0b3,#1dc0b3,#1dc0b3,#1dc0b3,#1dc0b3,#1dc0b3,#1dc0b3,#1dc0b3,#1dc0b3,#1dc0b3,#1dc0b3,#1dc0b3,#1dc0b3,#1dc0b3,#1dc0b3,#1dc0b3,#1dc0b3,#1dc0b3,#1ec0b2,#1dc0b3,#1bc0b4,#1ac0b4,#1ec0b2,#24c1af,#22c1af,#18bfb6,#12beb9,#20c1b1,#2ec4a4,#2cc4a7,#0cbdbc,#01b8ca,#0ebebb,#36c899,#39c995,#04bbc2,#1ea8e1,#01b8ca,#6dcd68,#9fc942,#05bbc1,#3876fe,#269ae9,#b2c635,#fec636,#29c3aa,#475bf9,#3080fa,#80cc59,#f3ba39,#39c895,#2895ec,#22a1e4,#31c6a0,#57cc7a,#2ec4a4,#10beba,#10beba)"></div><div style="top:22px;height:2.6px;background:linear-gradient(90deg,#1fc0b2,#1fc0b2,#1fc0b2,#20c1b1,#21c1b0,#21c1b0,#21c1b0,#20c1b1,#1fc0b2,#1ec0b2,#1ec0b2,#1dc0b3,#1dc0b3,#1dc0b3,#1dc0b3,#1dc0b3,#1dc0b3,#1cc0b3,#1cc0b3,#1dc0b3,#1ec0b2,#1ec0b2,#1dc0b3,#1dc0b3,#1cc0b3,#1cc0b3,#1cc0b3,#1cc0b3,#1dc0b3,#1dc0b3,#1ec0b2,#1ec0b2,#1ec0b2,#1ec0b2,#1ec0b2,#1ec0b2,#1ec0b2,#1ec0b2,#1ec0b2,#1ec0b2,#1ec0b2,#1ec0b2,#1ec0b2,#1ec0b2,#1ec0b2,#1ec0b2,#1ec0b2,#1ec0b2,#1ec0b2,#1ec0b2,#1dc0b3,#1dc0b3,#1ec0b2,#1fc0b2,#1ec0b2,#1cc0b3,#1ac0b4,#1dc0b3,#23c1af,#23c1af,#19bfb6,#0fbeba,#1cc0b4,#2dc4a5,#2fc5a3,#18bfb6,#01b9c7,#0cbdbc,#35c79a,#3eca90,#0ebebb,#1ea8e0,#0eb2d4,#58cc79,#acc738,#26c2ac,#317dfc,#2d8bf4,#82cc58,#fdcb33,#49cb85,#4367fd,#3e6fff,#4ecc81,#f4ba39,#59cc78,#259de7,#259ce7,#26c2ad,#55cc7c,#32c69e,#1abfb5,#1abfb5)"></div><div style="top:24px;height:2.6px;background:linear-gradient(90deg,#1ec0b2,#1ec0b2,#1ec0b2,#1fc0b1,#20c1b1,#21c1b0,#21c1b0,#20c1b1,#20c1b1,#1fc0b2,#1ec0b2,#1dc0b3,#1dc0b3,#1dc0b3,#1dc0b3,#1dc0b3,#1cc0b3,#1dc0b3,#1dc0b3,#1ec0b2,#1dc0b3,#1dc0b3,#1cc0b3,#1cc0b3,#1cc0b3,#1dc0b3,#1ec0b2,#1ec0b2,#1ec0b2,#1ec0b2,#1ec0b2,#1dc0b3,#1dc0b3,#1dc0b3,#1cc0b3,#1cc0b3,#1cc0b3,#1cc0b3,#1cc0b4,#1cc0b4,#1cc0b4,#1cc0b4,#1cc0b4,#1cc0b4,#1cc0b4,#1cc0b4,#1cc0b4,#1cc0b4,#1cc0b4,#1cc0b4,#1bc0b4,#1bc0b4,#1cc0b4,#1dc0b3,#1dc0b3,#1bc0b4,#18bfb6,#1bc0b4,#21c1b1,#22c1b0,#18bfb6,#0bbdbc,#14beb8,#29c3aa,#2ec4a4,#1ac0b4,#01b9c6,#08bcbe,#34c79c,#46cb88,#1ec0b2,#1ca9e0,#19acdc,#42ca8c,#b1c635,#37c897,#2e85f8,#307ffb,#51cc7e,#fdcc32,#7fcc5a,#3777fe,#4562fc,#2fc5a2,#efba36,#7dcc5c,#1fa6e2,#2699e9,#15bfb8,#50cc80,#36c899,#22c1b0,#22c1b0)"></div><div style="top:26px;height:2.6px;background:linear-gradient(90deg,#1ec0b2,#1ec0b2,#1ec0b2,#1fc0b2,#20c1b1,#21c1b0,#21c1b0,#21c1b0,#21c1b1,#1fc1b1,#1ec0b2,#1dc0b3,#1dc0b2,#1dc0b2,#1dc0b3,#1cc0b3,#1dc0b3,#1dc0b3,#1ec0b2,#1dc0b3,#1cc0b3,#1cc0b3,#1cc0b3,#1dc0b3,#1ec0b2,#1ec0b2,#1ec0b2,#1dc0b3,#1cc0b3,#1cc0b3,#1cc0b4,#1bc0b4,#1cc0b4,#1cc0b4,#1cc0b4,#1cc0b3,#1cc0b3,#1cc0b3,#1dc0b3,#1dc0b3,#1dc0b3,#1dc0b3,#1dc0b3,#1dc0b3,#1dc0b3,#1dc0b3,#1dc0b3,#1dc0b3,#1dc0b3,#1dc0b3,#1dc0b3,#1dc0b3,#1dc0b3,#1ec0b2,#1ec0b2,#1cc0b3,#1abfb5,#1bc0b4,#21c1b0,#24c1af,#1bc0b4,#0dbdbc,#12beb9,#27c2ac,#2ec4a4,#1cc0b3,#01b9c8,#02bac4,#30c5a1,#4acb84,#2bc3a8,#19acdc,#1ea8e1,#33c69e,#aec637,#4ecc81,#2c8ff0,#3974fe,#32c69f,#fec834,#b0c636,#2d88f6,#475af9,#0cbdbc,#e6bb2d,#9cc944,#17aeda,#2797eb,#04bbc2,#49cb85,#3ac994,#28c2ab,#28c2ab)"></div><div style="top:28px;height:2.6px;background:linear-gradient(90deg,#1dc0b3,#1dc0b3,#1dc0b3,#1ec0b2,#1fc1b1,#20c1b1,#21c1b1,#21c1b0,#21c1b0,#20c1b1,#1ec0b2,#1ec0b2,#1ec0b2,#1dc0b3,#1cc0b3,#1dc0b3,#1dc0b3,#1ec0b2,#1dc0b3,#1cc0b3,#1cc0b3,#1dc0b3,#1ec0b2,#1ec0b2,#1ec0b2,#1dc0b3,#1cc0b4,#1cc0b4,#1cc0b4,#1cc0b3,#1dc0b3,#1dc0b3,#1ec0b2,#1ec0b2,#1ec0b2,#1fc0b2,#1fc0b2,#1fc0b2,#1fc0b2,#1fc0b2,#1fc0b2,#1fc0b2,#1fc0b2,#1fc0b2,#1fc0b2,#1ec0b2,#1ec0b2,#1ec0b2,#1fc0b2,#1fc0b2,#1ec0b2,#1ec0b2,#1ec0b2,#1fc1b1,#20c1b1,#1ec0b2,#1bc0b4,#1cc0b3,#22c1af,#25c2ad,#1fc0b2,#11beba,#12beb9,#27c2ab,#30c5a2,#23c1af,#01b9c6,#01b9c7,#2cc4a7,#4bcb83,#33c69e,#12b1d6,#1fa6e1,#29c3aa,#a7c73c,#65cd6e,#2698ea,#406dfe,#15bfb8,#fec239,#d6be28,#2698ea,#4756f7,#0bb3d2,#d7be28,#b5c533,#06b6ce,#2797eb,#02b7cb,#42ca8c,#3dc991,#2cc4a7,#2cc4a7)"></div><div style="top:30px;height:2.6px;background:linear-gradient(90deg,#1dc0b3,#1dc0b3,#1dc0b3,#1ec0b2,#1fc0b2,#1fc1b1,#20c1b1,#21c1b0,#21c1b0,#20c1b1,#1fc1b1,#1fc0b2,#1ec0b2,#1dc0b3,#1dc0b3,#1dc0b3,#1ec0b2,#1dc0b3,#1cc0b3,#1cc0b3,#1dc0b3,#1ec0b2,#1ec0b2,#1dc0b3,#1cc0b4,#1cc0b4,#1cc0b3,#1dc0b3,#1ec0b2,#1ec0b2,#1fc0b2,#1ec0b2,#1ec0b2,#1ec0b2,#1dc0b3,#1dc0b3,#1cc0b3,#1cc0b3,#1cc0b3,#1cc0b4,#1cc0b4,#1cc0b4,#1cc0b4,#1cc0b4,#1cc0b4,#1cc0b4,#1cc0b4,#1cc0b4,#1cc0b4,#1cc0b4,#1bc0b4,#1bc0b4,#1bc0b4,#1cc0b3,#1dc0b3,#1cc0b4,#19bfb6,#19bfb5,#1fc0b2,#24c1af,#1ec0b2,#0fbebb,#0dbdbb,#24c1ae,#2fc5a2,#26c2ac,#02bac4,#01b8ca,#25c2ad,#48cb86,#37c897,#07b5cf,#1fa6e2,#1fc1b1,#a3c83e,#7dcc5b,#22a1e4,#4367fd,#05b6ce,#fabb3d,#f0ba36,#1da8e0,#4755f6,#1ea7e1,#c2c22c,#c6c22a,#05bbc1,#2798ea,#0bb4d2,#3bc993,#3fca8e,#2fc5a2,#2fc5a2)"></div><div style="top:32px;height:2.6px;background:linear-gradient(90deg,#1dc0b3,#1dc0b3,#1dc0b3,#1ec0b2,#1ec0b2,#1fc0b2,#20c1b1,#21c1b0,#21c1b0,#21c1b1,#20c1b1,#20c1b1,#1ec0b2,#1dc0b3,#1dc0b3,#1ec0b2,#1dc0b3,#1cc0b3,#1cc0b3,#1dc0b3,#1ec0b2,#1ec0b2,#1cc0b3,#1cc0b4,#1cc0b3,#1dc0b3,#1ec0b2,#1fc0b2,#1ec0b2,#1dc0b3,#1cc0b3,#1cc0b4,#1bc0b4,#1bc0b4,#1bc0b4,#1bc0b4,#1bc0b4,#1bc0b4,#1cc0b4,#1cc0b4,#1cc0b4,#1cc0b3,#1cc0b3,#1cc0b3,#1cc0b3,#1cc0b3,#1cc0b3,#1cc0b3,#1cc0b3,#1cc0b3,#1cc0b3,#1cc0b4,#1cc0b4,#1dc0b3,#1ec0b2,#1cc0b3,#19bfb5,#19bfb5,#1ec0b2,#24c1ae,#1fc0b2,#0fbeba,#0bbdbd,#20c1b1,#2ec5a4,#28c2ab,#02bbc3,#03b7cc,#1cc0b4,#41ca8c,#39c895,#03b7cc,#20a4e3,#11beb9,#a3c83f,#9bc944,#1babde,#4563fc,#1ca9e0,#eabb30,#febe3c,#06b5cf,#4757f7,#269ae8,#a7c73c,#d1bf27,#1dc0b3,#269ae8,#14b0d8,#35c79a,#41ca8c,#32c69f,#32c69f)"></div><div style="top:34px;height:2.6px;background:linear-gradient(90deg,#1dc0b3,#1dc0b3,#1dc0b3,#1dc0b3,#1ec0b2,#1ec0b2,#1fc1b1,#20c1b1,#21c1b0,#21c1b0,#21c1b0,#20c1b1,#1ec0b2,#1dc0b3,#1ec0b2,#1ec0b2,#1dc0b3,#1cc0b3,#1dc0b3,#1ec0b2,#1ec0b2,#1cc0b3,#1cc0b4,#1cc0b3,#1ec0b2,#1fc0b2,#1ec0b2,#1dc0b3,#1cc0b4,#1bc0b4,#1bc0b4,#1cc0b4,#1cc0b3,#1dc0b3,#1ec0b2,#1ec0b2,#1fc0b2,#1fc0b2,#1fc0b1,#1fc0b1,#1fc1b1,#1fc1b1,#1fc1b1,#1fc1b1,#1fc1b1,#1fc1b1,#1fc1b1,#1fc1b1,#1fc1b1,#1fc1b1,#1fc1b1,#1fc0b2,#1fc0b2,#20c1b1,#21c1b0,#20c1b1,#1dc0b3,#1cc0b4,#21c1b0,#26c2ac,#24c1af,#15bfb7,#0ebdbb,#20c1b1,#30c5a2,#2cc4a7,#07bcbf,#03b7cc,#15bfb7,#3eca8f,#3cc992,#01b7ca,#22a1e4,#02bac5,#9bc945,#b8c431,#05b6ce,#4563fc,#269ae8,#cfc028,#fec636,#13beb9,#475cfa,#2c8ef1,#89cb52,#d8be28,#2dc4a5,#249de6,#19addc,#31c6a0,#42ca8c,#34c79c,#34c79c)"></div><div style="top:36px;height:2.6px;background:linear-gradient(90deg,#1dc0b3,#1dc0b3,#1dc0b3,#1dc0b3,#1dc0b3,#1ec0b2,#1fc0b2,#20c1b1,#20c1b1,#21c1b0,#22c1b0,#20c1b1,#1fc0b2,#1ec0b2,#1ec0b2,#1dc0b3,#1cc0b3,#1dc0b3,#1ec0b2,#1ec0b2,#1cc0b3,#1cc0b4,#1dc0b3,#1ec0b2,#1ec0b2,#1dc0b3,#1cc0b4,#1bc0b4,#1bc0b4,#1dc0b3,#1ec0b2,#1fc0b2,#1fc1b1,#1fc1b1,#1fc0b2,#1ec0b2,#1ec0b2,#1dc0b3,#1dc0b3,#1dc0b3,#1cc0b3,#1cc0b3,#1cc0b3,#1cc0b3,#1cc0b3,#1cc0b3,#1cc0b3,#1cc0b3,#1cc0b3,#1cc0b3,#1cc0b3,#1cc0b4,#1bc0b4,#1cc0b3,#1dc0b3,#1dc0b3,#1abfb5,#18bfb6,#1dc0b3,#24c1ae,#22c1af,#14beb8,#0bbdbd,#1dc0b3,#2fc5a3,#2ec4a4,#0dbdbc,#02b7cb,#12beb9,#3eca8f,#44ca8a,#02bac5,#249fe5,#0ab4d1,#86cb55,#c9c129,#11beb9,#426afe,#2d8df2,#abc739,#fec934,#2fc5a3,#4563fc,#2e84f8,#6acd6a,#dbbd29,#37c897,#23a1e4,#1caadf,#2cc4a7,#41ca8c,#36c799,#36c799)"></div><div style="top:38px;height:2.6px;background:linear-gradient(90deg,#1dc0b3,#1dc0b3,#1dc0b3,#1dc0b3,#1dc0b3,#1dc0b3,#1ec0b2,#1fc0b2,#20c1b1,#21c1b0,#22c1b0,#21c1b1,#1fc1b1,#1fc1b1,#1fc0b2,#1dc0b3,#1cc0b3,#1ec0b2,#1ec0b2,#1dc0b3,#1bc0b4,#1dc0b3,#1ec0b2,#1ec0b2,#1dc0b3,#1bc0b4,#1bc0b4,#1dc0b3,#1ec0b2,#1fc1b1,#1fc0b2,#1ec0b2,#1dc0b3,#1bc0b4,#1bc0b4,#1ac0b5,#1ac0b5,#1ac0b5,#1ac0b5,#1ac0b4,#1ac0b4,#1bc0b4,#1bc0b4,#1bc0b4,#1bc0b4,#1bc0b4,#1bc0b4,#1bc0b4,#1bc0b4,#1bc0b4,#1bc0b4,#1bc0b4,#1ac0b4,#1bc0b4,#1cc0b3,#1cc0b3,#19bfb5,#16bfb7,#1bc0b4,#22c1b0,#21c1b0,#12beb9,#08bcbf,#16bfb7,#2cc4a6,#2dc4a5,#0dbdbb,#04b6cd,#0abdbd,#3cc991,#4ccb82,#0ebdbb,#23a0e5,#17aeda,#69cd6a,#ccc028,#2cc4a7,#3975fe,#2e86f7,#86cb54,#feca34,#3fca8e,#416afe,#337bfc,#4fcc80,#dcbd29,#46cb88,#20a5e3,#1ea7e1,#26c2ad,#40ca8d,#37c897,#37c897)"></div><div style="top:40px;height:2.6px;background:linear-gradient(90deg,#1dc0b3,#1dc0b3,#1dc0b3,#1dc0b3,#1dc0b3,#1dc0b3,#1ec0b2,#1ec0b2,#1fc0b2,#21c1b1,#21c1b0,#21c1b1,#20c1b1,#20c1b1,#1fc0b2,#1dc0b3,#1dc0b3,#1ec0b2,#1dc0b3,#1cc0b4,#1cc0b3,#1ec0b2,#1ec0b2,#1dc0b3,#1bc0b4,#1cc0b4,#1ec0b2,#1fc1b1,#1fc0b2,#1dc0b3,#1bc0b4,#1ac0b5,#1ac0b5,#1bc0b4,#1cc0b4,#1dc0b3,#1ec0b2,#1ec0b2,#1fc0b2,#1fc1b1,#1fc1b1,#20c1b1,#20c1b1,#20c1b1,#20c1b1,#20c1b1,#20c1b1,#20c1b1,#20c1b1,#20c1b1,#20c1b1,#20c1b1,#1fc1b1,#20c1b1,#21c1b0,#21c1b0,#1ec0b2,#1bc0b4,#1fc0b2,#26c2ad,#26c2ad,#19bfb5,#0bbdbc,#17bfb6,#2dc4a6,#2fc5a3,#11beb9,#05b6ce,#03bbc3,#36c898,#4ecc81,#1bc0b4,#21a2e4,#1baade,#53cc7d,#c7c12a,#34c79b,#317dfc,#2e83f9,#6ecd66,#feca34,#57cc7a,#3c71ff,#3b72fe,#3bc993,#dcbd29,#58cc79,#1da9e0,#20a5e2,#1ec0b2,#3fca8e,#39c895,#39c895)"></div><div style="top:42px;height:2.6px;background:linear-gradient(90deg,#1dc0b3,#1dc0b3,#1dc0b3,#1dc0b3,#1dc0b3,#1dc0b3,#1ec0b2,#1ec0b2,#1ec0b2,#20c1b1,#21c1b0,#21c1b1,#21c1b0,#21c1b0,#1fc0b2,#1dc0b3,#1ec0b2,#1ec0b2,#1cc0b3,#1cc0b4,#1dc0b3,#1fc0b2,#1dc0b3,#1bc0b4,#1cc0b4,#1ec0b2,#1fc1b1,#1ec0b2,#1cc0b4,#1ac0b5,#1bc0b4,#1cc0b3,#1ec0b2,#1fc1b1,#20c1b1,#20c1b1,#20c1b1,#1fc1b1,#1fc0b2,#1ec0b2,#1ec0b2,#1dc0b2,#1dc0b3,#1dc0b3,#1dc0b3,#1dc0b3,#1dc0b3,#1dc0b3,#1dc0b3,#1dc0b3,#1dc0b3,#1dc0b3,#1cc0b3,#1dc0b3,#1ec0b2,#1ec0b2,#1cc0b4,#19bfb5,#1cc0b3,#24c2ae,#26c2ad,#1bc0b4,#0cbdbc,#17bfb6,#2ec4a5,#32c69f,#1bc0b4,#02b7cb,#02bac4,#33c79c,#4ecc81,#21c1b0,#20a5e3,#1ea8e1,#46cb88,#c3c22b,#3ac994,#2f81fa,#317efb,#5fcd73,#fdcd31,#72cd63,#3678fe,#426afe,#2ec5a3,#dabd28,#6acd6a,#19addc,#21a4e3,#15bfb7,#3dc990,#3ac994,#3ac994)"></div><div style="top:44px;height:2.6px;background:linear-gradient(90deg,#1dc0b3,#1dc0b3,#1dc0b3,#1dc0b3,#1dc0b3,#1dc0b3,#1dc0b3,#1dc0b3,#1ec0b2,#20c1b1,#20c1b1,#20c1b1,#22c1b0,#21c1b0,#1fc1b1,#1ec0b2,#1fc0b2,#1ec0b2,#1cc0b4,#1cc0b3,#1ec0b2,#1ec0b2,#1bc0b4,#1bc0b4,#1ec0b2,#1fc1b1,#1ec0b2,#1bc0b4,#1ac0b5,#1cc0b3,#1fc0b2,#20c1b1,#20c1b1,#1fc0b2,#1dc0b3,#1bc0b4,#1ac0b5,#1abfb5,#19bfb5,#19bfb5,#19bfb5,#19bfb5,#19bfb5,#19bfb5,#19bfb5,#19bfb5,#19bfb5,#19bfb5,#19bfb5,#1abfb5,#1abfb5,#19bfb5,#19bfb5,#19bfb5,#1bc0b4,#1bc0b4,#18bfb6,#14bfb8,#17bfb6,#1fc1b1,#22c1b0,#16bfb7,#07bcbf,#0fbebb,#2ac3a9,#31c6a0,#1ec0b2,#01b8ca,#02bac5,#33c69d,#52cc7e,#27c2ab,#1ea7e1,#20a5e2,#3eca90,#c6c22a,#43ca8a,#2f81fa,#3a74fe,#4dcb82,#fbd42e,#98c947,#307ffb,#4561fc,#1cc0b3,#d6be28,#7dcc5b,#13b1d7,#21a2e4,#0bbdbc,#3bc992,#3ac994,#3ac994)"></div><div style="top:46px;height:2.6px;background:linear-gradient(90deg,#1dc0b3,#1dc0b3,#1dc0b3,#1dc0b3,#1dc0b3,#1dc0b3,#1dc0b3,#1dc0b3,#1ec0b2,#1fc0b2,#1fc1b1,#20c1b1,#22c1b0,#21c1b0,#20c1b1,#1fc1b1,#20c1b1,#1ec0b2,#1cc0b3,#1ec0b2,#1fc0b2,#1cc0b3,#1bc0b4,#1dc0b3,#1fc1b1,#1ec0b2,#1bc0b4,#1ac0b4,#1dc0b3,#20c1b1,#20c1b1,#1ec0b2,#1bc0b4,#19bfb5,#19bfb5,#1abfb5,#1bc0b4,#1cc0b3,#1dc0b3,#1ec0b2,#1fc0b2,#1fc0b1,#1fc1b1,#20c1b1,#20c1b1,#20c1b1,#20c1b1,#20c1b1,#20c1b1,#20c1b1,#20c1b1,#20c1b1,#1fc0b1,#20c1b1,#21c1b0,#21c1b0,#1fc0b2,#1bc0b4,#1dc0b3,#24c2ae,#26c2ac,#1cc0b4,#0abdbe,#0dbdbb,#27c2ab,#2fc5a2,#1cc0b3,#02b7cb,#01b9c8,#31c6a0,#57cc7a,#2ec4a4,#1da9e0,#22a2e4,#36c898,#cbc029,#57cc7a,#2f82f9,#4367fd,#36c898,#f9d82c,#c2c22b,#2d89f5,#475af9,#02bac4,#cec028,#8ecb4e,#08b5d0,#22a2e4,#05bbc1,#39c895,#3ac993,#3ac993)"></div><div style="top:48px;height:2.6px;background:linear-gradient(90deg,#1dc0b3,#1dc0b3,#1dc0b3,#1dc0b3,#1dc0b3,#1dc0b3,#1dc0b3,#1dc0b3,#1ec0b2,#1ec0b2,#1ec0b2,#20c1b1,#21c1b0,#21c1b0,#20c1b1,#21c1b1,#20c1b1,#1dc0b3,#1dc0b3,#1ec0b2,#1ec0b2,#1bc0b4,#1cc0b4,#1fc0b2,#1fc0b2,#1bc0b4,#1ac0b5,#1dc0b3,#20c1b1,#1fc1b1,#1cc0b3,#19bfb5,#19bfb5,#1bc0b4,#1ec0b2,#20c1b1,#21c1b0,#21c1b0,#21c1b0,#21c1b1,#20c1b1,#20c1b1,#1fc1b1,#1fc0b2,#1fc0b2,#1fc0b2,#1fc0b2,#1fc0b2,#1fc0b2,#1fc0b2,#1fc0b2,#1ec0b2,#1ec0b2,#1ec0b2,#20c1b1,#21c1b0,#1ec0b2,#1bc0b4,#1dc0b3,#25c2ae,#28c3aa,#21c1b0,#10beba,#13beb9,#2ac3a9,#32c69e,#21c1b0,#03b7cb,#03b7cc,#2dc4a6,#56cc7a,#33c69d,#1babde,#239fe5,#30c5a1,#cdc028,#71cd64,#2d89f5,#475bf9,#1fc0b2,#fad52d,#e5bb2d,#2797ea,#4756f7,#0cb3d3,#c0c32d,#9bc944,#01b8c9,#21a3e4,#02bac5,#37c898,#3ac994,#3ac994)"></div><div style="top:50px;height:2.6px;background:linear-gradient(90deg,#1dc0b3,#1dc0b3,#1dc0b3,#1dc0b3,#1dc0b3,#1dc0b3,#1dc0b3,#1dc0b3,#1dc0b3,#1ec0b2,#1ec0b2,#1fc0b1,#21c1b0,#21c1b0,#20c1b1,#21c1b0,#20c1b1,#1dc0b3,#1ec0b2,#1fc0b2,#1dc0b3,#1bc0b4,#1dc0b3,#1fc1b1,#1dc0b3,#1ac0b5,#1cc0b3,#20c1b1,#1fc0b1,#1bc0b4,#19bfb5,#1bc0b4,#1ec0b2,#21c1b0,#21c1b0,#20c1b1,#1ec0b2,#1bc0b4,#1ac0b5,#19bfb5,#18bfb6,#18bfb6,#18bfb6,#18bfb6,#18bfb6,#18bfb6,#18bfb6,#18bfb6,#18bfb6,#18bfb6,#18bfb6,#18bfb6,#17bfb6,#18bfb6,#19bfb5,#1ac0b5,#17bfb6,#13beb9,#14beb8,#1dc0b3,#23c1af,#1bc0b4,#0abdbd,#0dbdbb,#29c3aa,#34c79c,#28c3ab,#01b9c7,#04b6cd,#28c2ab,#52cc7e,#36c799,#19addc,#249de6,#29c3aa,#cbc129,#8ccb50,#2a93ee,#4755f6,#01b8ca,#feca33,#f9bb3d,#1ea7e1,#4759f8,#1babde,#adc638,#a2c83f,#04bbc2,#21a4e3,#01b9c8,#35c79b,#39c895,#39c895)"></div><div style="top:52px;height:2.6px;background:linear-gradient(90deg,#1dc0b3,#1dc0b3,#1dc0b3,#1dc0b3,#1dc0b3,#1dc0b3,#1dc0b3,#1dc0b3,#1dc0b3,#1ec0b2,#1dc0b3,#1fc0b2,#20c1b1,#20c1b1,#21c1b1,#22c1b0,#21c1b1,#1ec0b2,#1fc0b2,#1fc1b1,#1cc0b3,#1bc0b4,#1fc0b2,#1fc0b2,#1bc0b4,#1bc0b4,#1fc0b2,#20c1b1,#1cc0b4,#19bfb5,#1cc0b4,#20c1b1,#21c1b0,#1fc0b1,#1bc0b4,#19bfb6,#18bfb6,#18bfb6,#1abfb5,#1bc0b4,#1cc0b3,#1dc0b3,#1ec0b2,#1ec0b2,#1fc0b2,#1fc0b2,#1fc0b2,#1fc0b2,#1fc0b2,#1fc0b2,#1fc0b2,#1fc0b2,#1ec0b2,#1ec0b2,#20c1b1,#21c1b1,#1ec0b2,#1ac0b5,#1abfb5,#20c1b1,#25c2ae,#1bc0b4,#08bcbf,#07bcbf,#22c1b0,#31c5a1,#28c3aa,#02bac4,#01b8ca,#26c2ad,#4bcb83,#36c898,#15afd8,#249de6,#1fc0b2,#c0c32d,#97ca47,#249fe5,#475af9,#17aedb,#f5ba3a,#fabb3d,#09b4d1,#4466fd,#1fa6e2,#8fca4d,#9cc944,#0ebdbb,#1ea7e1,#01b8c9,#32c69e,#37c897,#37c897)"></div><div style="top:54px;height:2.6px;background:linear-gradient(90deg,#1dc0b3,#1dc0b3,#1dc0b3,#1dc0b3,#1dc0b3,#1dc0b3,#1dc0b3,#1dc0b3,#1dc0b3,#1dc0b3,#1dc0b3,#1ec0b2,#20c1b1,#1fc1b1,#21c1b1,#22c1af,#21c1b1,#1fc0b2,#20c1b1,#1fc0b1,#1cc0b4,#1cc0b3,#1fc1b1,#1dc0b3,#1ac0b5,#1dc0b3,#20c1b1,#1dc0b3,#19bfb5,#1bc0b4,#20c1b1,#21c1b0,#1dc0b3,#19bfb5,#18bfb6,#1ac0b5,#1ec0b2,#20c1b1,#22c1b0,#23c1af,#23c1af,#22c1af,#22c1b0,#22c1b0,#21c1b0,#21c1b0,#21c1b0,#21c1b0,#21c1b0,#21c1b0,#21c1b0,#21c1b0,#20c1b1,#20c1b1,#22c1b0,#23c1af,#22c1b0,#1ec0b2,#1fc0b2,#25c2ad,#29c3a9,#24c2ae,#13beb8,#0dbdbb,#21c1b0,#2dc4a5,#25c2ae,#02bac4,#01b8c8,#26c2ad,#47cb87,#36c799,#0cb3d3,#23a0e5,#13beb8,#a9c73a,#97ca48,#1baade,#4269fe,#1da9e0,#c7c12a,#e6bb2d,#05bbc1,#327dfc,#1da8e0,#6ecd67,#87cb54,#16bfb7,#1aabdd,#01b8c8,#30c5a2,#35c79b,#35c79b)"></div><div style="top:56px;height:2.6px;background:linear-gradient(90deg,#1dc0b3,#1dc0b3,#1dc0b3,#1dc0b3,#1dc0b3,#1dc0b3,#1dc0b3,#1dc0b3,#1dc0b3,#1dc0b3,#1dc0b3,#1ec0b2,#1fc0b2,#1fc0b2,#20c1b1,#22c1b0,#21c1b1,#20c1b1,#21c1b0,#1fc0b1,#1cc0b4,#1ec0b2,#1fc1b1,#1cc0b4,#1ac0b4,#1fc0b2,#20c1b1,#1ac0b4,#1abfb5,#1fc0b2,#21c1b0,#1dc0b3,#18bfb6,#19bfb5,#1ec0b2,#22c1b0,#23c1af,#21c1b0,#1fc0b2,#1cc0b4,#1abfb5,#19bfb6,#18bfb6,#17bfb6,#17bfb6,#17bfb6,#17bfb6,#17bfb6,#17bfb6,#17bfb6,#18bfb6,#17bfb6,#17bfb7,#17bfb7,#18bfb6,#19bfb5,#18bfb6,#14bfb8,#15bfb8,#1cc0b3,#24c1af,#21c1b0,#16bfb7,#15bfb7,#26c2ad,#2ec5a3,#25c2ae,#02bac4,#01b8c8,#24c1ae,#41ca8c,#35c79a,#04b6cd,#1fa5e2,#0abdbd,#8acb52,#89cb52,#0eb3d4,#307ffb,#1aabdd,#90ca4d,#b8c431,#0fbeba,#2a92ee,#14b0d8,#56cc7b,#69cd6b,#17bfb6,#13b0d8,#02bac5,#2dc4a5,#32c69f,#32c69f)"></div><div style="top:58px;height:2.6px;background:linear-gradient(90deg,#1dc0b3,#1dc0b3,#1dc0b3,#1dc0b3,#1dc0b3,#1dc0b3,#1dc0b3,#1dc0b3,#1dc0b3,#1dc0b3,#1cc0b3,#1ec0b2,#1ec0b2,#1ec0b2,#20c1b1,#22c1b0,#20c1b1,#20c1b1,#22c1b0,#1fc0b1,#1cc0b3,#1fc0b2,#1fc0b2,#1bc0b4,#1cc0b4,#20c1b1,#1ec0b2,#19bfb5,#1cc0b3,#21c1b0,#1ec0b2,#18bfb6,#19bfb5,#1fc0b1,#23c1af,#21c1b0,#1cc0b3,#18bfb6,#16bfb7,#16bfb7,#18bfb6,#19bfb5,#1bc0b4,#1cc0b4,#1cc0b3,#1dc0b3,#1dc0b3,#1dc0b3,#1dc0b3,#1dc0b3,#1dc0b3,#1dc0b3,#1dc0b3,#1cc0b3,#1dc0b3,#1ec0b2,#1cc0b3,#18bfb6,#16bfb7,#1abfb5,#1dc0b3,#19bfb5,#0ebdbb,#0fbeba,#24c1ae,#2fc5a3,#28c3aa,#06bcc0,#01b9c8,#1ec0b2,#3bc993,#34c79c,#01b9c6,#1aacdd,#08bcbf,#66cd6d,#70cd65,#01b8c8,#2b92ee,#0fb2d5,#65cd6e,#78cc5f,#08bcbf,#21a3e3,#01b8c8,#4bcb84,#4dcb82,#12beb9,#0ab4d2,#05bbc1,#2cc4a7,#2fc5a2,#2fc5a2)"></div><div style="top:60px;height:2.6px;background:linear-gradient(90deg,#1dc0b3,#1dc0b3,#1dc0b3,#1dc0b3,#1dc0b3,#1dc0b3,#1dc0b3,#1dc0b3,#1dc0b3,#1dc0b3,#1cc0b3,#1ec0b2,#1ec0b2,#1dc0b3,#1fc1b1,#21c1b0,#20c1b1,#21c1b0,#22c1af,#1fc1b1,#1dc0b3,#20c1b1,#1ec0b2,#1ac0b4,#1dc0b3,#20c1b1,#1cc0b4,#19bfb5,#1fc1b1,#21c1b0,#1ac0b4,#18bfb6,#1ec0b2,#23c1af,#20c1b1,#19bfb5,#15bfb7,#18bfb6,#1dc0b3,#21c1b0,#23c1af,#24c1ae,#24c2ae,#24c1ae,#24c1ae,#24c1af,#23c1af,#23c1af,#23c1af,#23c1af,#23c1af,#23c1af,#23c1af,#23c1af,#24c1ae,#25c2ae,#24c2ae,#23c1af,#22c1b0,#24c2ae,#25c2ad,#1fc1b1,#11beba,#0bbdbd,#1ac0b5,#2bc3a8,#2ac3a9,#11beba,#02bac4,#19bfb5,#34c79b,#32c69f,#06bcc0,#0fb2d4,#09bdbe,#48cb86,#51cc7f,#05bbc1,#20a4e3,#01b9c7,#50cc80,#43ca8b,#01b7ca,#19addc,#17bfb7,#4acb84,#3bc993,#0abdbe,#04b6cd,#0bbdbd,#2ac3a8,#2dc4a6,#2dc4a6)"></div><div style="top:62px;height:2.6px;background:linear-gradient(90deg,#1dc0b3,#1dc0b3,#1dc0b3,#1dc0b3,#1dc0b3,#1dc0b3,#1dc0b3,#1dc0b3,#1dc0b3,#1dc0b3,#1cc0b3,#1ec0b2,#1dc0b2,#1dc0b3,#1fc0b2,#20c1b1,#1fc1b1,#21c1b0,#23c1af,#1fc1b1,#1ec0b2,#21c1b1,#1ec0b2,#1ac0b4,#1ec0b2,#20c1b1,#1ac0b5,#1bc0b4,#21c1b0,#1fc0b2,#18bfb6,#1bc0b4,#23c1af,#21c1b1,#18bfb6,#15bfb7,#1cc0b4,#23c1af,#25c2ae,#23c1af,#20c1b1,#1dc0b3,#1ac0b4,#19bfb5,#18bfb6,#18bfb6,#17bfb6,#18bfb6,#18bfb6,#18bfb6,#18bfb6,#18bfb6,#17bfb6,#17bfb6,#18bfb6,#19bfb5,#19bfb5,#19bfb5,#1bc0b4,#21c1b0,#26c2ad,#26c2ac,#1fc0b2,#15bfb7,#16bfb7,#22c1b0,#26c2ac,#1bc0b4,#09bdbe,#15bfb7,#2ec4a4,#2fc5a3,#0ebdbb,#01b8ca,#0fbebb,#36c898,#38c896,#08bcbf,#11b1d6,#0fbeba,#48cb86,#2fc5a3,#12b1d7,#14b0d8,#2ac3a9,#50cc80,#34c79b,#04bbc2,#01b8ca,#12beb9,#2ac3a9,#2bc3a8,#2bc3a8)"></div><div style="top:64px;height:2.6px;background:linear-gradient(90deg,#1dc0b3,#1dc0b3,#1dc0b3,#1dc0b3,#1dc0b3,#1dc0b3,#1dc0b3,#1dc0b3,#1dc0b3,#1dc0b3,#1cc0b3,#1ec0b2,#1dc0b3,#1cc0b3,#1fc0b2,#20c1b1,#1fc0b2,#21c1b0,#23c1af,#20c1b1,#1fc0b1,#21c1b0,#1ec0b2,#1bc0b4,#1fc1b1,#1fc0b2,#19bfb5,#1cc0b3,#22c1b0,#1cc0b4,#18bfb6,#1fc1b1,#23c1af,#1bc0b4,#15bfb7,#1cc0b3,#24c1ae,#24c1ae,#1dc0b3,#17bfb7,#13beb8,#13beb8,#15bfb7,#17bfb7,#18bfb6,#19bfb5,#1abfb5,#1abfb5,#1ac0b5,#1ac0b5,#1ac0b5,#1ac0b5,#1abfb5,#19bfb5,#19bfb5,#19bfb5,#17bfb6,#14beb8,#12beb9,#13beb8,#19bfb5,#1fc0b2,#22c1b0,#21c1b1,#1cc0b3,#1bc0b4,#1fc0b2,#1ec0b2,#15bfb7,#16bfb7,#27c2ac,#2bc3a8,#15bfb7,#06bcc0,#18bfb6,#2ec5a4,#2bc3a8,#05bbc1,#01b8c8,#27c2ab,#47cb87,#27c2ac,#1babde,#17aeda,#2fc5a3,#57cc7a,#33c79c,#02bac4,#01b8c9,#15bfb8,#29c3aa,#29c3a9,#29c3a9)"></div><div style="top:66px;height:2.6px;background:linear-gradient(90deg,#1dc0b3,#1dc0b3,#1dc0b3,#1dc0b3,#1dc0b3,#1dc0b3,#1dc0b3,#1dc0b3,#1dc0b3,#1dc0b3,#1cc0b3,#1ec0b2,#1dc0b3,#1cc0b3,#1ec0b2,#1fc0b2,#1ec0b2,#21c1b1,#22c1af,#20c1b1,#20c1b1,#22c1b0,#1ec0b2,#1cc0b4,#20c1b1,#1ec0b2,#19bfb5,#1ec0b2,#21c1b0,#1abfb5,#19bfb5,#22c1b0,#20c1b1,#16bfb7,#19bfb5,#24c1af,#24c1af,#1ac0b5,#12beb9,#15bfb8,#1bc0b4,#21c1b0,#24c1ae,#25c2ad,#25c2ad,#25c2ad,#25c2ad,#25c2ae,#25c2ae,#24c2ae,#24c2ae,#25c2ae,#25c2ae,#25c2ad,#25c2ad,#26c2ad,#25c2ad,#24c1ae,#21c1b1,#1cc0b4,#16bfb7,#13beb8,#19bfb5,#22c1b0,#24c1af,#1cc0b4,#18bfb6,#1ec0b2,#1ec0b2,#18bfb6,#1fc0b2,#26c2ad,#1abfb5,#13beb8,#1fc1b1,#2ac3a9,#1dc0b3,#01b9c6,#02bbc3,#30c5a1,#48cb86,#2ac3a9,#1caadf,#1ca9df,#2ac3a9,#59cc78,#37c898,#04bbc1,#01b8c9,#14beb8,#28c2ab,#28c3aa,#28c3aa)"></div><div style="top:68px;height:2.6px;background:linear-gradient(90deg,#1dc0b3,#1dc0b3,#1dc0b3,#1dc0b3,#1dc0b3,#1dc0b3,#1dc0b3,#1dc0b3,#1dc0b3,#1dc0b3,#1cc0b3,#1ec0b2,#1dc0b3,#1cc0b3,#1ec0b2,#1ec0b2,#1dc0b3,#20c1b1,#22c1b0,#1fc1b1,#21c1b1,#23c1af,#1ec0b2,#1cc0b3,#21c1b0,#1dc0b3,#19bfb5,#1fc1b1,#20c1b1,#18bfb6,#1cc0b4,#23c1af,#1cc0b3,#15bfb7,#1fc0b1,#25c2ad,#1cc0b3,#12beb9,#18bfb6,#22c1af,#27c2ac,#26c2ad,#22c1b0,#1ec0b2,#1cc0b4,#1ac0b5,#1abfb5,#1abfb5,#1abfb5,#1abfb5,#1abfb5,#1abfb5,#1abfb5,#1abfb5,#1ac0b5,#1cc0b4,#1ec0b2,#22c1b0,#26c2ad,#27c2ac,#23c1af,#18bfb6,#12beb9,#1cc0b4,#25c2ad,#20c1b1,#15bfb7,#1cc0b4,#22c1af,#1bc0b4,#19bfb5,#21c1b0,#1bc0b4,#1bc0b4,#24c1ae,#29c3a9,#19bfb5,#01b8ca,#01b9c7,#30c5a2,#51cc7f,#34c79b,#17aeda,#21a3e3,#14beb8,#55cc7c,#40ca8d,#0ebebb,#01b8c9,#0ebdbb,#26c2ad,#28c2ab,#28c2ab)"></div><div style="top:70px;height:2.6px;background:linear-gradient(90deg,#1dc0b3,#1dc0b3,#1dc0b3,#1dc0b3,#1dc0b3,#1dc0b3,#1dc0b3,#1dc0b3,#1dc0b3,#1dc0b3,#1cc0b3,#1ec0b2,#1dc0b3,#1cc0b3,#1ec0b2,#1ec0b2,#1dc0b3,#20c1b1,#21c1b0,#1fc0b1,#21c1b0,#23c1af,#1ec0b2,#1dc0b3,#21c1b0,#1dc0b3,#1abfb5,#20c1b1,#1fc0b1,#17bfb6,#1ec0b2,#23c1af,#19bfb5,#17bfb6,#24c1af,#22c1b0,#14beb8,#15bfb7,#23c1af,#27c2ac,#20c1b1,#16bfb7,#10beba,#10beba,#11beb9,#13beb8,#15bfb8,#15bfb7,#16bfb7,#17bfb7,#17bfb7,#16bfb7,#15bfb7,#15bfb8,#13beb8,#11beb9,#10beba,#10beba,#16bfb7,#20c1b1,#27c2ac,#23c1af,#15bfb7,#14beb8,#22c1b0,#24c1af,#17bfb6,#19bfb5,#23c1af,#1ec0b2,#17bfb6,#1fc0b2,#1bc0b4,#1ac0b4,#24c2ae,#2ec4a5,#24c1ae,#02b7cb,#0eb3d4,#22c1b0,#5bcc76,#4ecc81,#03b7cc,#259ce7,#05b6ce,#47cb87,#52cc7e,#21c1b0,#01b8c9,#06bcc0,#23c1af,#27c2ab,#27c2ab)"></div><div style="top:72px;height:2.6px;background:linear-gradient(90deg,#1dc0b3,#1dc0b3,#1dc0b3,#1dc0b3,#1dc0b3,#1dc0b3,#1dc0b3,#1dc0b3,#1dc0b3,#1dc0b3,#1dc0b3,#1ec0b2,#1dc0b3,#1cc0b3,#1ec0b2,#1ec0b2,#1cc0b3,#1fc0b1,#21c1b1,#1fc0b2,#21c1b0,#23c1af,#1fc0b2,#1ec0b2,#22c1b0,#1dc0b3,#1ac0b5,#21c1b0,#1ec0b2,#17bfb6,#1fc0b1,#22c1b0,#17bfb7,#1ac0b5,#25c2ad,#1dc0b3,#11beb9,#1ec0b2,#27c2ab,#1fc0b1,#11beba,#10beba,#19bfb5,#21c1b0,#25c2ae,#26c2ad,#26c2ad,#26c2ad,#25c2ad,#25c2ae,#25c2ae,#25c2ad,#26c2ad,#26c2ad,#26c2ad,#25c2ae,#21c1b0,#19bfb5,#10beba,#11beba,#1fc0b1,#27c2ab,#1ec0b2,#11beb9,#1dc0b3,#25c2ad,#1ac0b5,#17bfb7,#22c1b0,#1fc0b1,#17bfb6,#1ec0b2,#1bc0b4,#16bfb7,#20c1b1,#31c6a0,#31c6a0,#01b9c6,#1caadf,#01b9c6,#59cc78,#74cc62,#1cc0b4,#269ae9,#1da8e0,#36c899,#61cd71,#2fc5a2,#01b9c7,#01bac5,#1dc0b3,#26c2ac,#26c2ac)"></div><div style="top:74px;height:2.6px;background:linear-gradient(90deg,#1dc0b3,#1dc0b3,#1dc0b3,#1dc0b3,#1dc0b3,#1dc0b3,#1dc0b3,#1dc0b3,#1dc0b3,#1dc0b3,#1dc0b3,#1ec0b2,#1dc0b3,#1cc0b3,#1ec0b2,#1dc0b3,#1cc0b3,#1fc0b2,#20c1b1,#1ec0b2,#21c1b0,#23c1af,#1fc0b2,#1fc0b1,#23c1af,#1dc0b3,#1bc0b4,#21c1b0,#1dc0b2,#17bfb6,#20c1b1,#21c1b0,#15bfb7,#1dc0b3,#25c2ad,#19bfb6,#14beb8,#25c2ae,#25c2ae,#13beb9,#10beba,#20c1b1,#28c3aa,#28c3ab,#25c2ae,#21c1b1,#1ec0b2,#1dc0b3,#1dc0b3,#1dc0b3,#1dc0b3,#1dc0b3,#1dc0b3,#1ec0b2,#21c1b1,#25c2ae,#28c3ab,#28c3aa,#20c1b1,#10beba,#13beb9,#25c2ae,#25c2ae,#14beb8,#19bfb6,#25c2ad,#1dc0b3,#15bfb7,#21c1b0,#20c1b1,#18bfb6,#1ec0b2,#1bc0b4,#10beba,#18bfb6,#33c69d,#41ca8c,#13beb8,#21a3e4,#1babde,#45cb88,#a0c941,#3bc992,#249ee6,#269ae9,#25c2ad,#68cd6c,#3bc993,#03bbc2,#01b8c9,#16bfb7,#24c1ae,#24c1ae)"></div><div style="top:76px;height:2.6px;background:linear-gradient(90deg,#1dc0b3,#1dc0b3,#1dc0b3,#1dc0b3,#1dc0b3,#1dc0b3,#1dc0b3,#1dc0b3,#1dc0b3,#1dc0b3,#1dc0b3,#1ec0b2,#1dc0b3,#1cc0b3,#1ec0b2,#1dc0b3,#1cc0b4,#1ec0b2,#1fc1b1,#1dc0b3,#20c1b1,#23c1af,#1fc0b2,#20c1b1,#23c1af,#1dc0b3,#1bc0b4,#22c1b0,#1dc0b3,#18bfb6,#21c1b0,#20c1b1,#15bfb7,#1ec0b2,#25c2ae,#15bfb7,#17bfb6,#27c2ac,#1fc0b2,#0dbdbb,#1cc0b3,#29c3a9,#25c2ad,#17bfb6,#0ebdbb,#0dbdbc,#0ebebb,#10beba,#12beb9,#13beb8,#13beb8,#12beb9,#10beba,#0ebebb,#0dbdbc,#0ebdbb,#17bfb6,#25c2ad,#29c3a9,#1cc0b3,#0dbdbb,#1fc0b2,#27c2ac,#17bfb6,#15bfb7,#25c2ae,#1ec0b2,#15bfb7,#20c1b1,#21c1b0,#18bfb6,#1ec0b2,#1cc0b3,#0abdbd,#08bcbf,#32c69f,#5fcd73,#30c5a1,#23a0e5,#2796eb,#2ec5a4,#bcc42f,#71cd64,#1ea7e1,#2d8df2,#03bbc3,#65cd6e,#4dcb82,#0dbdbc,#03b7cc,#0dbdbb,#20c1b1,#20c1b1)"></div><div style="top:78px;height:2.6px;background:linear-gradient(90deg,#1dc0b3,#1dc0b3,#1dc0b3,#1dc0b3,#1dc0b3,#1dc0b3,#1dc0b3,#1dc0b3,#1dc0b3,#1dc0b3,#1dc0b3,#1ec0b2,#1dc0b3,#1cc0b3,#1ec0b2,#1dc0b3,#1cc0b4,#1ec0b2,#1fc0b2,#1dc0b3,#20c1b1,#23c1af,#1fc0b2,#20c1b1,#24c1af,#1ec0b2,#1cc0b4,#22c1b0,#1dc0b3,#18bfb6,#22c1b0,#1fc1b1,#15bfb8,#20c1b1,#24c1ae,#13beb8,#1ac0b4,#28c2ab,#19bfb5,#0fbebb,#25c2ad,#28c3ab,#14beb8,#0abdbd,#15bfb7,#20c1b1,#24c2ae,#25c2ad,#25c2ae,#24c1ae,#24c1ae,#25c2ae,#25c2ad,#24c2ae,#20c1b1,#15bfb7,#0abdbd,#14beb8,#28c3ab,#25c2ad,#0fbebb,#19bfb5,#28c2ab,#1ac0b4,#13beb8,#24c1ae,#20c1b1,#15bfb8,#1fc1b1,#22c1b0,#18bfb6,#1fc1b1,#1fc0b1,#05bbc1,#02b7cb,#2bc3a8,#7fcc5a,#56cc7b,#20a4e3,#307ffb,#02bac3,#c8c129,#b1c636,#0cb3d3,#2e85f8,#12b1d6,#5bcc77,#5fcd73,#1cc0b3,#04b6cd,#07bcc0,#1bc0b4,#1bc0b4)"></div><div style="top:80px;height:2.6px;background:linear-gradient(90deg,#1dc0b3,#1dc0b3,#1dc0b3,#1dc0b3,#1dc0b3,#1dc0b3,#1dc0b3,#1dc0b3,#1dc0b3,#1dc0b3,#1dc0b3,#1ec0b2,#1dc0b3,#1cc0b3,#1ec0b2,#1dc0b3,#1cc0b4,#1ec0b2,#1ec0b2,#1cc0b3,#1fc1b1,#22c1b0,#1fc0b2,#20c1b1,#24c1ae,#1ec0b2,#1dc0b3,#23c1af,#1dc0b3,#18bfb6,#22c1b0,#1fc0b2,#15bfb8,#21c1b0,#23c1af,#12beb9,#1dc0b3,#27c2ab,#14bfb8,#13beb8,#29c3aa,#21c1b0,#0abdbe,#17bfb6,#29c3aa,#2bc3a8,#27c2ac,#24c1af,#22c1b0,#21c1b0,#21c1b0,#22c1b0,#24c1af,#27c2ac,#2bc3a8,#29c3aa,#17bfb6,#0abdbe,#21c1b0,#29c3aa,#13beb8,#14bfb8,#27c2ab,#1dc0b3,#12beb9,#23c1af,#21c1b0,#15bfb8,#1fc0b2,#22c1b0,#18bfb6,#23c1af,#26c2ad,#02bbc3,#15afd9,#15bfb8,#99c946,#9cc944,#18addb,#4368fd,#1da8e0,#c5c22a,#e1bc2b,#0bbdbc,#3080fa,#20a4e3,#4bcb83,#6ecd67,#28c3aa,#04b6cc,#02bac3,#16bfb7,#16bfb7)"></div><div style="top:82px;height:2.6px;background:linear-gradient(90deg,#1dc0b3,#1dc0b3,#1dc0b3,#1dc0b3,#1dc0b3,#1dc0b3,#1dc0b3,#1dc0b3,#1dc0b3,#1dc0b3,#1dc0b3,#1ec0b2,#1dc0b3,#1cc0b3,#1ec0b2,#1dc0b3,#1cc0b4,#1ec0b2,#1ec0b2,#1cc0b4,#1fc0b2,#21c1b0,#1ec0b2,#20c1b1,#24c2ae,#1fc0b2,#1dc0b3,#23c1af,#1dc0b3,#19bfb6,#22c1b0,#1fc0b2,#15bfb8,#21c1b0,#23c1af,#12beb9,#1ec0b2,#27c2ac,#12beb9,#16bfb7,#2ac3a9,#1abfb5,#0abdbd,#26c2ad,#2bc3a8,#1bc0b4,#0cbdbc,#0bbdbd,#0ebdbb,#11beba,#11beba,#0ebdbb,#0bbdbd,#0cbdbc,#1bc0b4,#2bc3a8,#26c2ad,#0abdbd,#1abfb5,#2ac3a9,#16bfb7,#12beb9,#27c2ac,#1ec0b2,#12beb9,#23c1af,#21c1b0,#15bfb8,#1fc0b2,#22c1b0,#18bfb6,#27c2ac,#2ec5a4,#02bbc3,#21a3e4,#05b6cd,#a7c73c,#ddbd29,#01b9c7,#4757f7,#2d8df2,#b3c534,#febf3b,#30c5a2,#307ffb,#2798ea,#3cc991,#79cc5e,#30c5a2,#02b7cb,#01b9c6,#10beba,#10beba)"></div><div style="top:84px;height:2.6px;background:linear-gradient(90deg,#1dc0b3,#1dc0b3,#1dc0b3,#1dc0b3,#1dc0b3,#1dc0b3,#1dc0b3,#1dc0b3,#1dc0b3,#1dc0b3,#1dc0b3,#1ec0b2,#1dc0b3,#1cc0b3,#1ec0b2,#1dc0b3,#1cc0b4,#1ec0b2,#1ec0b2,#1bc0b4,#1ec0b2,#21c1b0,#1dc0b3,#20c1b1,#24c2ae,#1fc0b2,#1ec0b2,#24c1af,#1dc0b3,#19bfb5,#22c1af,#1ec0b2,#15bfb8,#21c1b0,#22c1af,#12beb9,#1fc0b2,#27c2ac,#11beba,#19bfb6,#2ac3a8,#15bfb7,#0dbdbb,#2bc3a8,#24c1ae,#08bcbf,#0ebebb,#1ec0b2,#22c1b0,#21c1b0,#21c1b0,#22c1b0,#1ec0b2,#0ebebb,#08bcbf,#24c1ae,#2bc3a8,#0dbdbb,#15bfb7,#2ac3a8,#19bfb6,#11beba,#27c2ac,#1fc0b2,#12beb9,#22c1af,#21c1b0,#15bfb8,#1ec0b2,#21c1b0,#15bfb7,#2dc4a5,#3cc992,#08bcbf,#2994ed,#1ea6e1,#a8c73b,#fec438,#28c2ab,#484cf0,#3f6eff,#97ca48,#fcd12f,#4dcc82,#2f81fa,#2d8df2,#33c69e,#80cc59,#35c799,#01b8ca,#01b8c9,#0bbdbd,#0bbdbd)"></div><div style="top:86px;height:2.6px;background:linear-gradient(90deg,#1dc0b3,#1dc0b3,#1dc0b3,#1dc0b3,#1dc0b3,#1dc0b3,#1dc0b3,#1dc0b3,#1dc0b3,#1dc0b3,#1dc0b3,#1ec0b2,#1dc0b3,#1cc0b3,#1ec0b2,#1dc0b3,#1cc0b4,#1ec0b2,#1ec0b2,#1bc0b4,#1ec0b2,#20c1b1,#1dc0b3,#1fc1b1,#24c1ae,#1fc0b1,#1ec0b2,#24c1ae,#1ec0b2,#19bfb5,#23c1af,#1ec0b2,#15bfb7,#22c1b0,#22c1b0,#12beb9,#1fc0b2,#26c2ac,#10beba,#1abfb5,#2ac3a8,#13beb9,#10beba,#2cc4a6,#1cc0b3,#06bcc0,#25c2ae,#2dc4a5,#28c3aa,#25c2ad,#25c2ad,#28c3aa,#2dc4a5,#25c2ae,#06bcc0,#1cc0b3,#2cc4a6,#10beba,#13beb9,#2ac3a8,#1abfb5,#10beba,#26c2ac,#1fc0b2,#11beb9,#22c1b0,#22c1b0,#16bfb7,#1ec0b2,#1dc0b3,#0cbdbc,#33c79c,#5ecc74,#18bfb6,#2e85f8,#2b92ef,#a0c841,#f6df29,#46cb88,#4746eb,#4854f5,#76cc61,#f6df29,#76cc60,#2e85f8,#2e84f8,#2bc3a8,#83cc57,#3bc992,#01b9c8,#01b7ca,#08bcbf,#08bcbf)"></div><div style="top:88px;height:2.6px;background:linear-gradient(90deg,#1dc0b3,#1dc0b3,#1dc0b3,#1dc0b3,#1dc0b3,#1dc0b3,#1dc0b3,#1dc0b3,#1dc0b3,#1dc0b3,#1dc0b3,#1ec0b2,#1dc0b3,#1cc0b3,#1ec0b2,#1dc0b3,#1cc0b4,#1ec0b2,#1ec0b2,#1bc0b4,#1ec0b2,#20c1b1,#1cc0b3,#1fc0b2,#24c1af,#1fc0b2,#1fc0b2,#25c2ae,#1fc0b2,#1abfb5,#23c1af,#1fc0b2,#15bfb7,#22c1b0,#22c1b0,#12beb9,#1fc0b1,#26c2ac,#10beba,#1abfb5,#2ac3a8,#12beb9,#11beba,#2dc4a6,#19bfb5,#08bcbf,#2bc3a8,#27c2ac,#0cbdbc,#0ebebb,#0ebebb,#0cbdbc,#27c2ac,#2bc3a8,#08bcbf,#19bfb5,#2dc4a6,#11beba,#12beb9,#2ac3a9,#1abfb5,#10beba,#27c2ac,#1fc0b2,#10beba,#21c1b0,#25c2ae,#1cc0b4,#1dc0b3,#0cbdbc,#01b9c6,#3cc992,#8dcb4f,#29c3aa,#3678fe,#317dfc,#93ca4b,#f7f31d,#73cd63,#4744e8,#4741e4,#5acc77,#f5e825,#98c947,#2d88f6,#317efb,#23c1af,#85cb55,#40ca8d,#01b9c6,#03b7cb,#06bcc0,#06bcc0)"></div><div style="top:90px;height:2.6px;background:linear-gradient(90deg,#1dc0b3,#1dc0b3,#1dc0b3,#1dc0b3,#1dc0b3,#1dc0b3,#1dc0b3,#1dc0b3,#1dc0b3,#1dc0b3,#1dc0b3,#1ec0b2,#1dc0b3,#1cc0b3,#1ec0b2,#1dc0b3,#1cc0b4,#1ec0b2,#1ec0b2,#1bc0b4,#1ec0b2,#1fc1b1,#1cc0b4,#1ec0b2,#23c1af,#1fc0b2,#1fc0b2,#25c2ad,#1fc0b1,#1ac0b4,#23c1af,#1fc0b2,#15bfb7,#22c1b0,#22c1b0,#12beb9,#1fc0b1,#26c2ac,#10beba,#1ac0b5,#2ac3a8,#12beb9,#11beb9,#2dc4a6,#19bfb5,#08bcbe,#2cc4a6,#22c1b0,#04bbc2,#1cc0b4,#1cc0b4,#04bbc2,#22c1b0,#2cc4a6,#08bcbe,#19bfb5,#2dc4a6,#11beb9,#12beb9,#2ac3a9,#1abfb5,#11beba,#27c2ab,#1fc0b2,#0cbdbc,#1ec0b2,#29c3aa,#28c2ab,#1dc0b3,#03b7cc,#0bb4d2,#44cb89,#b1c635,#31c6a0,#3e6fff,#406dfe,#88cb53,#f9fb15,#93ca4a,#4744e8,#4536d4,#4acb84,#f5ed22,#abc739,#2d8af5,#337afd,#1cc0b3,#85cb55,#44cb8a,#01bac5,#03b7cc,#05bbc1,#05bbc1)"></div><div style="top:92px;height:2.6px;background:linear-gradient(90deg,#1dc0b3,#1dc0b3,#1dc0b3,#1dc0b3,#1dc0b3,#1dc0b3,#1dc0b3,#1dc0b3,#1dc0b3,#1dc0b3,#1dc0b3,#1ec0b2,#1dc0b3,#1cc0b3,#1ec0b2,#1dc0b3,#1cc0b4,#1ec0b2,#1ec0b2,#1bc0b4,#1dc0b2,#1fc1b1,#1bc0b4,#1ec0b2,#23c1af,#1ec0b2,#1fc0b2,#25c2ad,#1fc1b1,#1bc0b4,#24c1af,#1fc0b1,#15bfb7,#22c1b0,#22c1b0,#12beb9,#1fc0b1,#26c2ac,#10beba,#1ac0b5,#2ac3a8,#12beb9,#11beb9,#2dc4a6,#19bfb5,#08bcbe,#2cc4a6,#22c1b0,#04bbc2,#29c3aa,#29c3aa,#04bbc2,#22c1b0,#2cc4a6,#08bcbe,#19bfb5,#2dc4a6,#11beb9,#12beb9,#2ac3a9,#1abfb5,#11beba,#28c2ab,#1ec0b2,#0abdbd,#1dc0b3,#2ac3a8,#2cc4a7,#1ec0b2,#0bb3d2,#11b1d6,#47cb87,#bac430,#33c69d,#406dfe,#4269fe,#85cb55,#f9fb15,#9bc944,#4744e8,#4434cf,#47cb87,#f5ee21,#afc636,#2d8bf4,#347afd,#1bc0b4,#85cb55,#45cb89,#01bac5,#03b7cc,#05bbc1,#05bbc1)"></div><div style="top:94px;height:2.6px;background:linear-gradient(90deg,#1dc0b3,#1dc0b3,#1dc0b3,#1dc0b3,#1dc0b3,#1dc0b3,#1dc0b3,#1dc0b3,#1dc0b3,#1dc0b3,#1dc0b3,#1ec0b2,#1dc0b3,#1cc0b3,#1ec0b2,#1dc0b3,#1cc0b4,#1ec0b2,#1ec0b2,#1bc0b4,#1ec0b2,#20c1b1,#1cc0b4,#1ec0b2,#23c1af,#1fc0b2,#1fc0b2,#25c2ae,#1fc0b2,#1ac0b5,#23c1af,#1fc0b2,#15bfb7,#22c1b0,#22c1b0,#12beb9,#1fc0b1,#26c2ac,#10beba,#1ac0b5,#2ac3a8,#12beb9,#11beb9,#2dc4a6,#19bfb5,#08bcbf,#2cc4a7,#23c1af,#05bbc1,#10beba,#10beba,#05bbc1,#23c1af,#2cc4a7,#08bcbf,#19bfb5,#2dc4a6,#11beb9,#12beb9,#2ac3a9,#1abfb5,#11beba,#27c2ac,#1fc0b2,#0dbdbb,#20c1b1,#27c2ac,#23c1af,#1dc0b3,#01bac6,#05b6ce,#41ca8c,#a6c83d,#2fc5a3,#3c72ff,#3c72ff,#8ccb50,#f9fb15,#89cb52,#4744e8,#4639da,#4fcc80,#f5eb23,#a5c83d,#2d89f5,#327cfc,#1ec0b2,#85cb55,#43ca8b,#01b9c6,#03b7cc,#05bbc1,#05bbc1)"></div><div style="top:96px;height:2.6px;background:linear-gradient(90deg,#1dc0b3,#1dc0b3,#1dc0b3,#1dc0b3,#1dc0b3,#1dc0b3,#1dc0b3,#1dc0b3,#1dc0b3,#1dc0b3,#1dc0b3,#1ec0b2,#1dc0b3,#1cc0b3,#1ec0b2,#1dc0b3,#1cc0b4,#1ec0b2,#1ec0b2,#1bc0b4,#1ec0b2,#20c1b1,#1cc0b3,#1fc0b1,#24c1ae,#1fc0b1,#1fc0b2,#25c2ae,#1ec0b2,#1abfb5,#23c1af,#1fc0b2,#15bfb7,#22c1b0,#22c1b0,#12beb9,#1fc0b1,#26c2ac,#10beba,#1abfb5,#2ac3a8,#12beb9,#11beba,#2dc4a6,#1ac0b5,#07bcbf,#2ac3a9,#2ac3a8,#1abfb5,#18bfb6,#18bfb6,#1abfb5,#2ac3a8,#2ac3a9,#07bcbf,#1ac0b5,#2dc4a6,#11beba,#12beb9,#2ac3a8,#1abfb5,#10beba,#27c2ac,#1fc0b2,#11beba,#22c1b0,#23c1af,#18bfb6,#1dc0b3,#15bfb7,#05bbc1,#38c896,#7acc5e,#23c1af,#317dfc,#2e85f8,#98c946,#f5ec22,#61cd71,#4745e9,#4747ec,#64cd6f,#f5e526,#8ccb50,#2e87f7,#2f80fa,#26c2ad,#84cb56,#3eca8f,#01b9c7,#02b7cb,#07bcc0,#07bcc0)"></div><div style="top:98px;height:2.6px;background:linear-gradient(90deg,#1dc0b3,#1dc0b3,#1dc0b3,#1dc0b3,#1dc0b3,#1dc0b3,#1dc0b3,#1dc0b3,#1dc0b3,#1dc0b3,#1dc0b3,#1ec0b2,#1dc0b3,#1cc0b3,#1ec0b2,#1dc0b3,#1cc0b4,#1ec0b2,#1ec0b2,#1bc0b4,#1ec0b2,#20c1b1,#1dc0b3,#20c1b1,#24c1ae,#1fc0b1,#1ec0b2,#24c1ae,#1ec0b2,#19bfb5,#22c1af,#1ec0b2,#15bfb7,#22c1b0,#22c1b0,#12beb9,#1fc0b2,#26c2ac,#10beba,#19bfb5,#2ac3a8,#13beb8,#0fbebb,#2cc4a7,#1fc0b2,#06bcc0,#1dc0b3,#2bc3a8,#2ac3a8,#27c2ab,#27c2ab,#2ac3a8,#2bc3a8,#1dc0b3,#06bcc0,#1fc0b2,#2cc4a7,#0fbebb,#13beb8,#2ac3a8,#19bfb5,#10beba,#26c2ac,#1fc0b2,#12beb9,#22c1b0,#22c1b0,#15bfb7,#1ec0b2,#1fc1b1,#11beb9,#31c6a0,#4dcc82,#10beba,#2d8bf4,#269ae8,#a4c83e,#fad52e,#37c897,#4848ec,#465dfb,#83cc57,#f8da2b,#66cd6d,#2e83f9,#2d88f6,#2ec4a4,#82cc57,#39c895,#01b8c9,#01b8ca,#09bcbe,#09bcbe)"></div><div style="top:100px;height:2.6px;background:linear-gradient(90deg,#1dc0b3,#1dc0b3,#1dc0b3,#1dc0b3,#1dc0b3,#1dc0b3,#1dc0b3,#1dc0b3,#1dc0b3,#1dc0b3,#1dc0b3,#1ec0b2,#1dc0b3,#1cc0b3,#1ec0b2,#1dc0b3,#1cc0b4,#1ec0b2,#1ec0b2,#1bc0b4,#1ec0b2,#21c1b0,#1ec0b2,#20c1b1,#24c2ae,#1fc0b2,#1ec0b2,#23c1af,#1dc0b3,#19bfb5,#22c1b0,#1ec0b2,#15bfb8,#21c1b0,#22c1af,#12beb9,#1ec0b2,#27c2ac,#11beb9,#18bfb6,#2ac3a8,#17bfb7,#0cbdbc,#29c3a9,#27c2ab,#0cbdbc,#09bcbe,#11beb9,#17bfb7,#19bfb6,#19bfb6,#17bfb7,#11beb9,#09bcbe,#0cbdbc,#27c2ab,#29c3a9,#0cbdbc,#17bfb7,#2ac3a8,#18bfb6,#11beb9,#27c2ac,#1ec0b2,#12beb9,#22c1af,#21c1b0,#15bfb8,#1ec0b2,#21c1b0,#17bfb6,#2bc3a8,#35c79a,#05bbc1,#269ae8,#18aedb,#a9c73a,#f9bb3d,#16bfb7,#4850f2,#337bfc,#a3c83f,#feca33,#3eca8f,#2f80fa,#2b91ef,#36c899,#7ecc5b,#33c79d,#01b7ca,#01b9c8,#0dbdbc,#0dbdbc)"></div><div style="top:102px;height:2.6px;background:linear-gradient(90deg,#1dc0b3,#1dc0b3,#1dc0b3,#1dc0b3,#1dc0b3,#1dc0b3,#1dc0b3,#1dc0b3,#1dc0b3,#1dc0b3,#1dc0b3,#1ec0b2,#1dc0b3,#1cc0b3,#1ec0b2,#1dc0b3,#1cc0b4,#1ec0b2,#1ec0b2,#1cc0b4,#1fc0b2,#22c1b0,#1ec0b2,#20c1b1,#24c1ae,#1ec0b2,#1dc0b3,#23c1af,#1dc0b3,#18bfb6,#22c1b0,#1fc0b2,#15bfb8,#21c1b0,#23c1af,#12beb9,#1dc0b2,#27c2ac,#13beb9,#15bfb7,#2ac3a9,#1cc0b3,#09bcbe,#21c1b0,#2cc4a7,#24c1ae,#18bfb6,#13beb9,#13beb9,#15bfb8,#15bfb8,#13beb9,#13beb9,#18bfb6,#24c1ae,#2cc4a7,#21c1b0,#09bcbe,#1cc0b3,#2ac3a9,#15bfb7,#13beb9,#27c2ac,#1dc0b2,#12beb9,#23c1af,#21c1b0,#15bfb8,#1fc0b2,#22c1b0,#18bfb6,#25c2ad,#2bc3a8,#02bac3,#1da8e0,#02bac4,#a2c83f,#c5c22a,#08b4d1,#465dfa,#2698ea,#bcc42f,#f6ba3c,#26c2ad,#307ffb,#259de7,#42ca8c,#75cc61,#2dc4a5,#03b7cc,#01bac5,#12beb9,#12beb9)"></div><div style="top:104px;height:2.6px;background:linear-gradient(90deg,#1dc0b3,#1dc0b3,#1dc0b3,#1dc0b3,#1dc0b3,#1dc0b3,#1dc0b3,#1dc0b3,#1dc0b3,#1dc0b3,#1dc0b3,#1ec0b2,#1dc0b3,#1cc0b3,#1ec0b2,#1dc0b3,#1cc0b4,#1ec0b2,#1fc0b2,#1cc0b3,#20c1b1,#22c1af,#1fc0b2,#20c1b1,#24c1ae,#1ec0b2,#1cc0b3,#22c1af,#1dc0b3,#18bfb6,#22c1b0,#1fc0b2,#15bfb8,#20c1b1,#23c1af,#13beb9,#1cc0b4,#27c2ab,#16bfb7,#11beb9,#28c3ab,#24c2ae,#0cbdbc,#10beba,#24c1af,#2ac3a9,#2ac3a9,#28c3aa,#27c2ac,#26c2ad,#26c2ad,#27c2ac,#28c3aa,#2ac3a9,#2ac3a9,#24c1af,#10beba,#0cbdbc,#24c2ae,#28c3ab,#11beb9,#16bfb7,#27c2ab,#1cc0b4,#13beb9,#23c1af,#20c1b1,#15bfb8,#1fc0b2,#22c1b0,#18bfb6,#21c1b0,#23c1af,#03bbc2,#0db3d3,#21c1b1,#90ca4d,#7ecc5b,#1ca9e0,#3d70ff,#12b1d6,#c8c129,#d0bf27,#01b9c6,#2f81fa,#1caadf,#52cc7e,#68cd6b,#24c2ae,#04b6cd,#04bbc2,#18bfb6,#18bfb6)"></div><div style="top:106px;height:2.6px;background:linear-gradient(90deg,#1dc0b3,#1dc0b3,#1dc0b3,#1dc0b3,#1dc0b3,#1dc0b3,#1dc0b3,#1dc0b3,#1dc0b3,#1dc0b3,#1dc0b3,#1ec0b2,#1dc0b3,#1cc0b3,#1ec0b2,#1dc0b3,#1cc0b4,#1ec0b2,#1fc0b2,#1dc0b3,#20c1b1,#23c1af,#1fc0b2,#20c1b1,#24c1af,#1dc0b3,#1cc0b4,#22c1b0,#1dc0b3,#18bfb6,#21c1b0,#20c1b1,#15bfb8,#1fc1b1,#24c1ae,#14beb8,#19bfb5,#27c2ab,#1bc0b4,#0ebdbb,#23c1af,#29c3a9,#1bc0b4,#0bbdbc,#0dbdbc,#15bfb7,#1ac0b5,#1cc0b3,#1dc0b3,#1dc0b3,#1dc0b3,#1dc0b3,#1cc0b3,#1ac0b5,#15bfb7,#0dbdbc,#0bbdbc,#1bc0b4,#29c3a9,#23c1af,#0ebdbb,#1bc0b4,#27c2ab,#19bfb5,#14beb8,#24c1ae,#1fc1b1,#15bfb8,#20c1b1,#21c1b0,#18bfb6,#1fc0b2,#1dc0b2,#07bcbf,#01b9c6,#2ec5a4,#72cd64,#41ca8d,#22a2e4,#2d88f6,#17bfb6,#c5c22a,#99c946,#16aeda,#2d88f6,#06b5cf,#60cd72,#58cc79,#16bfb7,#04b6cc,#09bcbe,#1dc0b3,#1dc0b3)"></div><div style="top:108px;height:2.6px;background:linear-gradient(90deg,#1dc0b3,#1dc0b3,#1dc0b3,#1dc0b3,#1dc0b3,#1dc0b3,#1dc0b3,#1dc0b3,#1dc0b3,#1dc0b3,#1dc0b3,#1ec0b2,#1dc0b3,#1cc0b3,#1ec0b2,#1dc0b3,#1cc0b4,#1ec0b2,#20c1b1,#1dc0b2,#21c1b1,#23c1af,#1fc0b2,#20c1b1,#23c1af,#1dc0b3,#1bc0b4,#21c1b0,#1dc0b3,#18bfb6,#21c1b0,#20c1b1,#15bfb7,#1ec0b2,#25c2ae,#16bfb7,#16bfb7,#26c2ac,#21c1b0,#0ebebb,#17bfb6,#27c2ab,#28c3aa,#20c1b1,#17bfb7,#12beb9,#10beba,#11beb9,#12beb9,#13beb8,#13beb8,#12beb9,#11beb9,#10beba,#12beb9,#17bfb7,#20c1b1,#28c3aa,#27c2ab,#17bfb6,#0ebebb,#21c1b0,#26c2ac,#16bfb7,#16bfb7,#25c2ae,#1ec0b2,#15bfb7,#20c1b1,#21c1b0,#18bfb6,#1ec0b2,#1bc0b4,#0cbdbc,#0ebdbb,#33c69e,#52cc7e,#27c2ac,#23a0e5,#249fe5,#36c898,#b3c534,#59cc78,#21a3e3,#2b92ee,#10beba,#67cd6c,#45cb89,#08bcbe,#02b7cb,#11beba,#22c1b0,#22c1b0)"></div><div style="top:110px;height:2.6px;background:linear-gradient(90deg,#1dc0b3,#1dc0b3,#1dc0b3,#1dc0b3,#1dc0b3,#1dc0b3,#1dc0b3,#1dc0b3,#1dc0b3,#1dc0b3,#1dc0b3,#1ec0b2,#1dc0b3,#1cc0b3,#1ec0b2,#1dc0b2,#1cc0b3,#1fc0b2,#20c1b1,#1ec0b2,#21c1b0,#23c1af,#1fc0b2,#1fc0b2,#22c1b0,#1dc0b3,#1ac0b4,#21c1b0,#1ec0b2,#17bfb6,#20c1b1,#21c1b0,#16bfb7,#1cc0b4,#25c2ad,#1ac0b5,#12beb9,#23c1af,#26c2ac,#18bfb6,#0ebdbb,#19bfb5,#25c2ae,#28c3aa,#28c3ab,#27c2ac,#25c2ad,#25c2ae,#24c1ae,#23c1af,#23c1af,#24c1ae,#25c2ae,#25c2ad,#27c2ac,#28c3ab,#28c3aa,#25c2ae,#19bfb5,#0ebdbb,#18bfb6,#26c2ac,#23c1af,#12beb9,#1ac0b5,#25c2ad,#1cc0b4,#16bfb7,#21c1b0,#20c1b1,#17bfb6,#1ec0b2,#1bc0b4,#13beb9,#1cc0b4,#33c69d,#39c895,#08bcbf,#20a5e2,#10b2d5,#4fcc80,#90ca4d,#30c5a1,#259ce7,#239fe5,#2dc4a5,#66cd6d,#36c799,#02bac5,#01b9c8,#19bfb5,#25c2ad,#25c2ad)"></div><div style="top:112px;height:2.6px;background:linear-gradient(90deg,#1dc0b3,#1dc0b3,#1dc0b3,#1dc0b3,#1dc0b3,#1dc0b3,#1dc0b3,#1dc0b3,#1dc0b3,#1dc0b3,#1cc0b3,#1ec0b2,#1dc0b3,#1cc0b3,#1ec0b2,#1ec0b2,#1cc0b3,#1fc1b1,#21c1b0,#1fc0b2,#21c1b0,#23c1af,#1ec0b2,#1ec0b2,#22c1b0,#1dc0b3,#1abfb5,#21c1b1,#1fc0b2,#17bfb6,#1fc0b2,#22c1af,#17bfb6,#19bfb5,#25c2ae,#1fc0b2,#12beb9,#1bc0b4,#27c2ac,#24c1ae,#16bfb7,#0fbebb,#12beb9,#18bfb6,#1dc0b3,#1fc1b1,#20c1b1,#21c1b1,#20c1b1,#20c1b1,#20c1b1,#20c1b1,#21c1b1,#20c1b1,#1fc1b1,#1dc0b3,#18bfb6,#12beb9,#0fbebb,#16bfb7,#24c1ae,#27c2ac,#1bc0b4,#12beb9,#1fc0b2,#25c2ae,#19bfb5,#17bfb6,#22c1af,#1fc0b2,#17bfb6,#1ec0b2,#1bc0b4,#18bfb6,#23c1af,#30c5a1,#2cc4a7,#01b8c9,#18addb,#0bbdbd,#5ccc75,#65cd6e,#09bcbe,#269ae8,#17aeda,#3dc991,#5ccc76,#2bc3a8,#01b8c8,#02bac3,#1fc1b1,#27c2ac,#27c2ac)"></div><div style="top:114px;height:2.6px;background:linear-gradient(90deg,#1dc0b3,#1dc0b3,#1dc0b3,#1dc0b3,#1dc0b3,#1dc0b3,#1dc0b3,#1dc0b3,#1dc0b3,#1dc0b3,#1cc0b3,#1ec0b2,#1dc0b3,#1cc0b3,#1ec0b2,#1ec0b2,#1dc0b3,#20c1b1,#22c1b0,#1fc1b1,#21c1b0,#23c1af,#1ec0b2,#1dc0b3,#21c1b0,#1dc0b3,#19bfb5,#20c1b1,#20c1b1,#18bfb6,#1dc0b3,#23c1af,#1ac0b5,#16bfb7,#22c1b0,#24c1ae,#17bfb6,#13beb9,#1fc0b2,#27c2ac,#25c2ad,#1ec0b2,#17bfb7,#13beb9,#11beb9,#11beb9,#12beb9,#12beb9,#13beb8,#14beb8,#14beb8,#13beb8,#12beb9,#12beb9,#11beb9,#11beb9,#13beb9,#17bfb7,#1ec0b2,#25c2ad,#27c2ac,#1fc0b2,#13beb9,#17bfb6,#24c1ae,#22c1b0,#16bfb7,#1ac0b5,#23c1af,#1dc0b3,#18bfb6,#1fc1b1,#1cc0b4,#1bc0b4,#25c2ae,#2cc4a7,#1ec0b2,#02b7cb,#05b6ce,#2ac3a9,#57cc7a,#40ca8d,#0cb3d3,#249fe6,#02bac5,#4dcc82,#4acb85,#1abfb5,#01b8c9,#09bcbe,#24c1ae,#27c2ab,#27c2ab)"></div><div style="top:116px;height:2.6px;background:linear-gradient(90deg,#1dc0b3,#1dc0b3,#1dc0b3,#1dc0b3,#1dc0b3,#1dc0b3,#1dc0b3,#1dc0b3,#1dc0b3,#1dc0b3,#1cc0b3,#1ec0b2,#1dc0b3,#1cc0b3,#1ec0b2,#1fc0b2,#1dc0b2,#20c1b1,#22c1b0,#20c1b1,#20c1b1,#22c1af,#1ec0b2,#1cc0b3,#20c1b1,#1ec0b2,#19bfb5,#1fc0b2,#21c1b1,#19bfb6,#1bc0b4,#23c1af,#1ec0b2,#15bfb7,#1dc0b3,#25c2ad,#1fc1b1,#14beb8,#14beb8,#1dc0b3,#24c2ae,#26c2ac,#26c2ad,#24c2ae,#23c1af,#22c1b0,#21c1b0,#20c1b1,#20c1b1,#20c1b1,#20c1b1,#20c1b1,#20c1b1,#21c1b0,#22c1b0,#23c1af,#25c2ae,#26c2ad,#26c2ac,#24c2ae,#1dc0b3,#14beb8,#13beb8,#1fc0b2,#25c2ad,#1ec0b2,#16bfb7,#1dc0b3,#21c1b0,#1ac0b5,#1bc0b4,#23c1af,#1bc0b4,#19bfb5,#23c1af,#29c3aa,#19bfb5,#01b8c9,#02bac4,#31c6a0,#4ccb83,#30c5a2,#1aacdd,#1fa6e2,#20c1b1,#58cc7a,#3cc992,#09bcbe,#01b8c9,#11beba,#27c2ac,#28c3ab,#28c3ab)"></div><div style="top:118px;height:2.6px;background:linear-gradient(90deg,#1dc0b3,#1dc0b3,#1dc0b3,#1dc0b3,#1dc0b3,#1dc0b3,#1dc0b3,#1dc0b3,#1dc0b3,#1dc0b3,#1cc0b3,#1ec0b2,#1dc0b3,#1cc0b3,#1ec0b2,#1fc0b1,#1ec0b2,#21c1b0,#23c1af,#20c1b1,#20c1b1,#22c1b0,#1ec0b2,#1bc0b4,#20c1b1,#1ec0b2,#19bfb5,#1dc0b3,#21c1b0,#1ac0b4,#19bfb6,#21c1b0,#21c1b0,#17bfb6,#17bfb6,#21c1b0,#25c2ae,#1fc0b2,#16bfb7,#12beb9,#15bfb7,#1ac0b4,#1ec0b2,#21c1b0,#22c1b0,#23c1af,#23c1af,#23c1af,#22c1af,#22c1b0,#22c1af,#22c1af,#23c1af,#23c1af,#23c1af,#22c1af,#21c1b0,#1ec0b2,#1abfb5,#16bfb7,#14beb8,#17bfb7,#1dc0b3,#23c1af,#21c1b0,#1bc0b4,#1bc0b4,#1fc0b2,#1bc0b4,#17bfb6,#22c1b0,#28c2ab,#18bfb6,#0ebdbb,#1cc0b3,#2bc3a8,#23c1af,#02bac4,#02bac4,#2ec4a4,#48cb86,#27c2ab,#1caadf,#1aacdd,#2dc4a5,#59cc78,#35c79a,#02bbc3,#01b8c9,#15bfb8,#28c3aa,#29c3aa,#29c3aa)"></div><div style="top:120px;height:2.6px;background:linear-gradient(90deg,#1dc0b3,#1dc0b3,#1dc0b3,#1dc0b3,#1dc0b3,#1dc0b3,#1dc0b3,#1dc0b3,#1dc0b3,#1dc0b3,#1cc0b3,#1ec0b2,#1dc0b3,#1dc0b3,#1fc0b2,#20c1b1,#1fc0b2,#21c1b0,#23c1af,#20c1b1,#1fc0b2,#21c1b0,#1ec0b2,#1bc0b4,#1fc0b2,#1fc1b1,#1abfb5,#1cc0b4,#21c1b0,#1dc0b3,#17bfb6,#1ec0b2,#23c1af,#1dc0b3,#15bfb7,#19bfb5,#22c1b0,#25c2ae,#22c1b0,#1cc0b3,#17bfb6,#14bfb8,#13beb8,#14beb8,#14beb8,#14bfb8,#15bfb7,#15bfb7,#16bfb7,#16bfb7,#16bfb7,#16bfb7,#15bfb7,#15bfb8,#15bfb8,#15bfb8,#14beb8,#12beb9,#13beb9,#18bfb6,#1fc0b2,#24c1af,#22c1af,#1dc0b3,#19bfb5,#1dc0b3,#22c1af,#1ec0b2,#10beba,#15bfb7,#2ac3a9,#2dc4a6,#13beb9,#02bac4,#14beb8,#31c6a0,#30c5a2,#06bcc0,#04b6cd,#20c1b1,#47cb87,#29c3aa,#19addc,#15afd9,#2ec4a4,#54cc7c,#33c79d,#02bac3,#01b8c9,#14beb8,#29c3aa,#2ac3a9,#2ac3a9)"></div><div style="top:122px;height:2.6px;background:linear-gradient(90deg,#1dc0b3,#1dc0b3,#1dc0b3,#1dc0b3,#1dc0b3,#1dc0b3,#1dc0b3,#1dc0b3,#1dc0b3,#1dc0b3,#1cc0b3,#1ec0b2,#1ec0b2,#1dc0b3,#1fc0b1,#21c1b0,#1fc1b1,#21c1b0,#23c1af,#1fc1b1,#1ec0b2,#20c1b1,#1ec0b2,#1ac0b4,#1ec0b2,#20c1b1,#1bc0b4,#1ac0b5,#20c1b1,#20c1b1,#18bfb6,#1abfb5,#21c1b0,#22c1b0,#1bc0b4,#15bfb7,#18bfb6,#1ec0b2,#23c1af,#25c2ae,#24c1ae,#22c1b0,#20c1b1,#1fc0b2,#1ec0b2,#1dc0b3,#1dc0b3,#1dc0b3,#1dc0b3,#1dc0b3,#1dc0b3,#1dc0b3,#1dc0b3,#1dc0b3,#1ec0b2,#1fc0b2,#1fc0b1,#1fc0b2,#20c1b1,#25c2ae,#27c2ab,#25c2ad,#1abfb5,#0fbeba,#16bfb7,#26c2ad,#28c3aa,#18bfb6,#06bcc0,#16bfb7,#30c5a1,#30c5a1,#0bbdbd,#05b6ce,#0cbdbc,#3cc992,#40ca8d,#07bcbf,#19addc,#07bcbf,#4acb85,#34c79b,#0bb4d2,#15afd9,#25c2ad,#4dcc82,#36c899,#06bcc0,#02b7cb,#0fbeba,#2ac3a9,#2cc4a7,#2cc4a7)"></div><div style="top:124px;height:2.6px;background:linear-gradient(90deg,#1dc0b3,#1dc0b3,#1dc0b3,#1dc0b3,#1dc0b3,#1dc0b3,#1dc0b3,#1dc0b3,#1dc0b3,#1dc0b3,#1cc0b3,#1ec0b2,#1ec0b2,#1dc0b3,#20c1b1,#21c1b0,#20c1b1,#21c1b1,#22c1b0,#1fc0b1,#1dc0b3,#1fc1b1,#1fc0b2,#1ac0b4,#1cc0b3,#20c1b1,#1cc0b3,#19bfb5,#1ec0b2,#21c1b0,#1cc0b3,#17bfb6,#1cc0b3,#22c1af,#22c1b0,#1cc0b3,#17bfb7,#15bfb7,#18bfb6,#1cc0b4,#1fc0b2,#21c1b0,#22c1b0,#23c1af,#23c1af,#23c1af,#23c1af,#23c1af,#23c1af,#23c1af,#23c1af,#23c1af,#23c1af,#23c1af,#24c1af,#24c1ae,#23c1af,#20c1b1,#1fc0b2,#20c1b1,#21c1b0,#1bc0b4,#0dbdbb,#0bbdbd,#1ec0b2,#2dc4a5,#2ac3a9,#0cbdbc,#01b9c6,#1bc0b4,#37c898,#33c69e,#03bbc2,#14b0d8,#08bcbf,#54cc7d,#5dcc74,#02bac4,#249de7,#04b6cd,#56cc7b,#55cc7c,#01bac5,#1caadf,#0abdbe,#49cb85,#40ca8d,#0dbdbc,#06b5cf,#09bcbe,#2bc3a8,#2ec4a4,#2ec4a4)"></div><div style="top:126px;height:2.6px;background:linear-gradient(90deg,#1dc0b3,#1dc0b3,#1dc0b3,#1dc0b3,#1dc0b3,#1dc0b3,#1dc0b3,#1dc0b3,#1dc0b3,#1dc0b3,#1dc0b3,#1ec0b2,#1fc0b2,#1ec0b2,#20c1b1,#22c1b0,#20c1b1,#20c1b1,#22c1b0,#1fc0b1,#1cc0b3,#1ec0b2,#1fc1b1,#1bc0b4,#1bc0b4,#20c1b1,#1ec0b2,#19bfb5,#1bc0b4,#21c1b0,#20c1b1,#1abfb5,#18bfb6,#1cc0b3,#22c1b0,#23c1af,#20c1b1,#1cc0b4,#18bfb6,#16bfb7,#16bfb7,#16bfb7,#17bfb7,#17bfb6,#18bfb6,#18bfb6,#18bfb6,#18bfb6,#19bfb6,#19bfb5,#19bfb5,#19bfb6,#18bfb6,#18bfb6,#19bfb5,#19bfb5,#18bfb6,#13beb8,#12beb9,#18bfb6,#1ec0b2,#1bc0b4,#11beb9,#13beb9,#26c2ad,#2fc5a2,#27c2ac,#04bbc2,#01b8c8,#21c1b0,#3eca90,#34c79b,#01b8c9,#1ca9df,#08bcbe,#74cc62,#7bcc5d,#04b6cd,#2d8bf4,#15afd9,#73cd63,#92ca4b,#0cbdbc,#249de7,#07b5cf,#4ecc81,#58cc7a,#15bfb8,#0eb2d4,#03bbc3,#2cc4a6,#30c5a1,#30c5a1)"></div><div style="top:128px;height:2.6px;background:linear-gradient(90deg,#1dc0b3,#1dc0b3,#1dc0b3,#1dc0b3,#1dc0b3,#1dc0b3,#1dc0b3,#1dc0b3,#1dc0b3,#1dc0b3,#1dc0b3,#1ec0b2,#1fc1b1,#1fc0b2,#20c1b1,#22c1af,#21c1b1,#1fc0b1,#21c1b1,#1fc0b1,#1cc0b4,#1dc0b3,#1fc1b1,#1cc0b3,#1ac0b5,#1ec0b2,#20c1b1,#1bc0b4,#19bfb5,#1dc0b2,#21c1b0,#1fc0b2,#1abfb5,#17bfb6,#1ac0b4,#1fc0b2,#22c1b0,#23c1af,#22c1b0,#20c1b1,#1ec0b2,#1dc0b3,#1cc0b3,#1bc0b4,#1bc0b4,#1bc0b4,#1bc0b4,#1bc0b4,#1bc0b4,#1bc0b4,#1bc0b4,#1bc0b4,#1ac0b5,#1ac0b5,#1cc0b4,#1dc0b3,#1cc0b4,#19bfb5,#1abfb5,#21c1b0,#27c2ab,#24c2ae,#17bfb6,#13beb8,#24c2ae,#2ec4a4,#24c1ae,#02bac4,#01b8c8,#25c2ad,#44cb8a,#35c79a,#07b5cf,#21a3e3,#0dbdbb,#97ca47,#90ca4d,#15afd9,#3876fe,#1caadf,#a5c83d,#cec028,#0dbdbc,#2d8af4,#19acdc,#5ecd74,#75cc61,#17bfb6,#17aeda,#01b9c6,#2ec5a4,#33c69d,#33c69d)"></div><div style="top:130px;height:2.6px;background:linear-gradient(90deg,#1dc0b3,#1dc0b3,#1dc0b3,#1dc0b3,#1dc0b3,#1dc0b3,#1dc0b3,#1dc0b3,#1dc0b3,#1dc0b3,#1dc0b3,#1ec0b2,#20c1b1,#20c1b1,#21c1b1,#22c1af,#21c1b1,#1ec0b2,#20c1b1,#1fc1b1,#1cc0b4,#1cc0b3,#1fc0b1,#1ec0b2,#1ac0b5,#1cc0b3,#20c1b1,#1ec0b2,#1abfb5,#1abfb5,#1ec0b2,#21c1b0,#1fc1b1,#1bc0b4,#18bfb6,#18bfb6,#1ac0b5,#1dc0b3,#1fc0b1,#21c1b0,#22c1b0,#22c1b0,#22c1af,#22c1af,#22c1af,#22c1af,#22c1af,#22c1af,#22c1b0,#22c1af,#22c1af,#22c1b0,#22c1b0,#22c1b0,#23c1af,#24c1ae,#22c1af,#1fc0b2,#1fc0b2,#25c2ae,#28c3aa,#21c1b0,#0ebdbb,#09bdbe,#20c1b1,#2ec5a4,#26c2ac,#02bac3,#01b8c9,#26c2ad,#48cb86,#36c899,#10b2d5,#249fe6,#18bfb6,#b4c534,#98c946,#1fa6e1,#4562fc,#1caadf,#dcbd29,#f1ba37,#01b9c6,#3b73fe,#1ea6e1,#7bcc5d,#91ca4c,#13beb8,#1caadf,#01b8c9,#31c6a0,#36c799,#36c799)"></div><div style="top:132px;height:2.6px;background:linear-gradient(90deg,#1dc0b3,#1dc0b3,#1dc0b3,#1dc0b3,#1dc0b3,#1dc0b3,#1dc0b3,#1dc0b3,#1dc0b3,#1ec0b2,#1dc0b3,#1fc0b2,#21c1b1,#20c1b1,#20c1b1,#22c1b0,#20c1b1,#1ec0b2,#1ec0b2,#1fc1b1,#1cc0b3,#1bc0b4,#1ec0b2,#1fc0b2,#1bc0b4,#1ac0b4,#1ec0b2,#20c1b1,#1dc0b3,#19bfb5,#1ac0b5,#1ec0b2,#21c1b0,#21c1b0,#1ec0b2,#1bc0b4,#19bfb5,#18bfb6,#18bfb6,#18bfb6,#19bfb5,#1abfb5,#1ac0b5,#1ac0b4,#1bc0b4,#1bc0b4,#1bc0b4,#1bc0b4,#1bc0b4,#1bc0b4,#1bc0b4,#1bc0b4,#1ac0b4,#1bc0b4,#1cc0b4,#1dc0b3,#1ac0b5,#15bfb7,#16bfb7,#1dc0b3,#22c1af,#19bfb5,#07bcbf,#08bcbf,#25c2ae,#32c69e,#29c3aa,#02bac5,#03b7cb,#26c2ac,#4ecc81,#36c898,#17aeda,#259de7,#24c1af,#c6c22a,#95ca49,#269ae8,#4756f7,#11b2d5,#febf3c,#fbbc3d,#14b0d8,#4660fb,#1ea7e1,#9cc944,#a0c841,#0abdbe,#1fa5e2,#01b8c9,#33c79d,#38c896,#38c896)"></div><div style="top:134px;height:2.6px;background:linear-gradient(90deg,#1dc0b3,#1dc0b3,#1dc0b3,#1dc0b3,#1dc0b3,#1dc0b3,#1dc0b3,#1dc0b3,#1dc0b3,#1ec0b2,#1ec0b2,#1fc1b1,#21c1b0,#21c1b0,#20c1b1,#21c1b0,#20c1b1,#1dc0b3,#1dc0b3,#1fc0b2,#1dc0b3,#1bc0b4,#1dc0b3,#1fc1b1,#1dc0b2,#1ac0b4,#1bc0b4,#1fc0b1,#20c1b1,#1dc0b3,#1abfb5,#19bfb5,#1cc0b3,#1fc0b1,#21c1b0,#21c1b0,#20c1b1,#1fc0b2,#1dc0b3,#1cc0b3,#1bc0b4,#1bc0b4,#1ac0b5,#1abfb5,#1abfb5,#1abfb5,#1abfb5,#1abfb5,#1abfb5,#1abfb5,#1abfb5,#1abfb5,#19bfb5,#19bfb5,#1bc0b4,#1cc0b4,#19bfb5,#15bfb7,#17bfb6,#20c1b1,#25c2ad,#1ec0b2,#0dbdbb,#11beb9,#2ac3a8,#34c79c,#26c2ad,#01b8c9,#04b6cd,#29c3a9,#54cc7d,#35c79a,#1aacdd,#249ee6,#2cc4a6,#ccc028,#82cc58,#2c8ef1,#4756f7,#05bbc1,#fcd030,#f3ba39,#23a1e4,#4757f7,#17aeda,#b5c533,#a0c841,#02bac4,#21a3e3,#01b9c7,#35c799,#3ac994,#3ac994)"></div><div style="top:136px;height:2.6px;background:linear-gradient(90deg,#1dc0b3,#1dc0b3,#1dc0b3,#1dc0b3,#1dc0b3,#1dc0b3,#1dc0b3,#1dc0b3,#1ec0b2,#1fc0b2,#1fc0b2,#20c1b1,#22c1b0,#21c1b0,#20c1b1,#20c1b1,#20c1b1,#1dc0b3,#1cc0b3,#1ec0b2,#1ec0b2,#1cc0b4,#1bc0b4,#1ec0b2,#1fc0b1,#1cc0b3,#1ac0b5,#1cc0b4,#1fc1b1,#20c1b1,#1ec0b2,#1bc0b4,#19bfb5,#19bfb5,#1bc0b4,#1dc0b3,#1fc0b1,#20c1b1,#21c1b0,#21c1b0,#21c1b0,#21c1b0,#21c1b0,#21c1b0,#21c1b0,#21c1b0,#21c1b0,#21c1b0,#21c1b0,#21c1b0,#21c1b0,#21c1b0,#20c1b1,#21c1b1,#22c1b0,#23c1af,#20c1b1,#1dc0b3,#1fc0b2,#26c2ad,#29c3aa,#20c1b1,#0ebebb,#11beb9,#29c3aa,#31c6a0,#1ec0b2,#03b7cc,#02b7cb,#2fc5a3,#57cc7a,#31c6a0,#1caadf,#23a0e5,#32c69e,#cdc028,#66cd6d,#2e86f8,#465ffb,#2bc3a7,#f9d72c,#d9be28,#2b91ef,#4757f7,#04b6cd,#c7c12a,#97ca48,#03b7cc,#22a2e4,#02bac3,#37c897,#3ac994,#3ac994)"></div><div style="top:138px;height:2.6px;background:linear-gradient(90deg,#1dc0b3,#1dc0b3,#1dc0b3,#1dc0b3,#1dc0b3,#1dc0b3,#1dc0b3,#1dc0b3,#1ec0b2,#1fc1b1,#20c1b1,#20c1b1,#22c1b0,#21c1b0,#1fc1b1,#1fc0b2,#1fc1b1,#1ec0b2,#1cc0b4,#1dc0b3,#1fc0b2,#1dc0b3,#1bc0b4,#1cc0b3,#1fc0b2,#1fc0b2,#1cc0b4,#1ac0b5,#1cc0b4,#1ec0b2,#20c1b1,#20c1b1,#1dc0b2,#1bc0b4,#1abfb5,#19bfb5,#19bfb5,#1abfb5,#1ac0b4,#1bc0b4,#1cc0b4,#1cc0b3,#1cc0b3,#1dc0b3,#1dc0b3,#1dc0b3,#1dc0b3,#1dc0b3,#1dc0b3,#1dc0b3,#1dc0b3,#1dc0b3,#1cc0b3,#1dc0b3,#1ec0b2,#1ec0b2,#1cc0b4,#18bfb6,#1abfb5,#22c1b0,#24c1ae,#18bfb6,#08bcbf,#0cbdbc,#27c2ab,#30c5a2,#1dc0b3,#01b7ca,#01b9c6,#32c69e,#55cc7c,#2cc4a7,#1da8e0,#21a3e3,#39c995,#c9c129,#4dcc82,#2f81fa,#406cfe,#3eca8f,#f9d72d,#b2c635,#2e84f8,#475dfa,#0abdbd,#d2bf27,#88cb53,#0cb3d3,#22a2e4,#07bcbf,#3ac994,#3ac993,#3ac993)"></div><div style="top:140px;height:2.6px;background:linear-gradient(90deg,#1dc0b3,#1dc0b3,#1dc0b3,#1dc0b3,#1dc0b3,#1dc0b3,#1dc0b2,#1dc0b3,#1ec0b2,#20c1b1,#20c1b1,#20c1b1,#21c1b0,#21c1b0,#1fc0b1,#1ec0b2,#1fc0b2,#1ec0b2,#1cc0b3,#1cc0b3,#1ec0b2,#1ec0b2,#1cc0b3,#1bc0b4,#1dc0b3,#1fc0b1,#1fc0b2,#1cc0b3,#1ac0b5,#1bc0b4,#1dc0b3,#1fc0b2,#20c1b1,#20c1b1,#1fc0b1,#1ec0b2,#1dc0b3,#1cc0b4,#1bc0b4,#1ac0b4,#1ac0b5,#1abfb5,#1abfb5,#1abfb5,#1abfb5,#1abfb5,#1abfb5,#19bfb5,#1abfb5,#1abfb5,#1abfb5,#19bfb5,#19bfb5,#19bfb5,#1bc0b4,#1bc0b4,#18bfb6,#15bfb8,#18bfb6,#21c1b1,#23c1af,#18bfb6,#09bcbe,#12beb9,#2cc4a7,#32c69f,#1ec0b2,#01b8ca,#02bac4,#33c69d,#4fcc80,#25c2ae,#1fa6e2,#1fa6e2,#41ca8d,#c4c22a,#3eca8f,#2f81fa,#3579fd,#55cc7c,#fcd12f,#87cb54,#327cfc,#4465fd,#26c2ad,#d8be28,#75cc61,#15afd9,#21a3e3,#0fbeba,#3cc991,#3ac994,#3ac994)"></div><div style="top:142px;height:2.6px;background:linear-gradient(90deg,#1dc0b3,#1dc0b3,#1dc0b3,#1dc0b3,#1dc0b3,#1dc0b3,#1ec0b2,#1ec0b2,#1fc0b2,#20c1b1,#21c1b0,#21c1b1,#21c1b0,#21c1b0,#1fc0b2,#1dc0b3,#1ec0b2,#1ec0b2,#1dc0b3,#1cc0b4,#1dc0b3,#1fc0b2,#1ec0b2,#1bc0b4,#1bc0b4,#1dc0b3,#1fc0b2,#1fc0b2,#1dc0b3,#1bc0b4,#1ac0b5,#1bc0b4,#1cc0b3,#1ec0b2,#1fc0b2,#20c1b1,#20c1b1,#20c1b1,#20c1b1,#20c1b1,#20c1b1,#20c1b1,#1fc1b1,#1fc1b1,#1fc1b1,#1fc1b1,#1fc1b1,#1fc1b1,#1fc1b1,#1fc1b1,#1fc1b1,#1fc0b2,#1fc0b2,#1fc1b1,#21c1b0,#21c1b0,#1ec0b2,#1bc0b4,#1fc0b2,#26c2ad,#27c2ac,#1cc0b4,#0dbdbb,#19bfb5,#2ec4a4,#31c6a0,#18bfb6,#04b6cd,#02bac4,#34c79b,#4ecc81,#1fc1b1,#20a4e3,#1da9e0,#4acb84,#c4c22b,#38c897,#3080fa,#2f80fa,#64cd6e,#fdcb33,#66cd6d,#3875fe,#406dfe,#33c69d,#dbbd28,#63cd70,#1babde,#20a4e3,#19bfb5,#3eca8f,#39c895,#39c895)"></div><div style="top:144px;height:2.6px;background:linear-gradient(90deg,#1dc0b3,#1dc0b3,#1dc0b3,#1dc0b3,#1dc0b3,#1dc0b3,#1ec0b2,#1fc0b2,#1fc1b1,#21c1b0,#22c1b0,#21c1b1,#20c1b1,#20c1b1,#1fc0b2,#1dc0b3,#1dc0b3,#1ec0b2,#1ec0b2,#1cc0b3,#1cc0b4,#1dc0b2,#1fc0b2,#1dc0b3,#1bc0b4,#1bc0b4,#1dc0b3,#1fc0b2,#1fc1b1,#1fc0b2,#1dc0b3,#1bc0b4,#1ac0b4,#1ac0b5,#1ac0b4,#1bc0b4,#1cc0b4,#1cc0b3,#1dc0b3,#1dc0b3,#1dc0b3,#1ec0b2,#1ec0b2,#1ec0b2,#1ec0b2,#1ec0b2,#1ec0b2,#1ec0b2,#1ec0b2,#1ec0b2,#1ec0b2,#1ec0b2,#1dc0b2,#1ec0b2,#1fc1b1,#1fc1b1,#1cc0b3,#1abfb5,#1dc0b3,#25c2ae,#24c1ae,#16bfb7,#09bdbe,#16bfb7,#2cc4a7,#2ec4a4,#0fbebb,#05b6ce,#05bbc1,#39c895,#4ecc81,#17bfb6,#22a1e4,#1aabdd,#5bcc76,#c9c129,#32c69f,#337afd,#2e84f8,#76cc60,#fec934,#4dcc82,#3e6fff,#3876fe,#42ca8c,#dcbd29,#50cc7f,#1ea7e1,#1fa6e2,#22c1b0,#3fca8e,#38c896,#38c896)"></div><div style="top:146px;height:2.6px;background:linear-gradient(90deg,#1dc0b3,#1dc0b3,#1dc0b3,#1dc0b3,#1dc0b3,#1dc0b3,#1ec0b2,#1fc1b1,#20c1b1,#21c1b0,#22c1b0,#21c1b1,#1fc0b1,#1fc0b2,#1fc0b2,#1dc0b3,#1cc0b3,#1dc0b3,#1ec0b2,#1dc0b3,#1cc0b4,#1cc0b3,#1ec0b2,#1fc0b2,#1ec0b2,#1cc0b4,#1bc0b4,#1cc0b4,#1dc0b3,#1fc0b2,#1fc1b1,#1fc0b1,#1ec0b2,#1dc0b3,#1cc0b3,#1cc0b4,#1bc0b4,#1bc0b4,#1ac0b4,#1ac0b5,#1ac0b5,#1ac0b5,#1ac0b5,#1ac0b5,#1ac0b5,#1ac0b5,#1ac0b5,#1ac0b5,#1ac0b5,#1ac0b4,#1ac0b5,#1abfb5,#1abfb5,#1ac0b4,#1cc0b4,#1bc0b4,#18bfb6,#16bfb7,#1ac0b4,#22c1b0,#21c1b1,#12beb9,#08bcbe,#18bfb6,#2dc4a5,#2ec4a5,#0ebdbb,#03b7cc,#0ebdbb,#3eca8f,#49cb85,#08bcbf,#239fe5,#13b0d7,#75cc62,#ccc028,#25c2ae,#3d70ff,#2d89f5,#94ca4a,#feca33,#38c896,#4367fd,#307efb,#5acc78,#dcbd29,#3fca8e,#21a3e3,#1da8e0,#28c3aa,#41ca8c,#37c898,#37c898)"></div><div style="top:148px;height:2.6px;background:linear-gradient(90deg,#1dc0b3,#1dc0b3,#1dc0b3,#1dc0b3,#1dc0b3,#1ec0b2,#1fc0b2,#20c1b1,#20c1b1,#21c1b0,#21c1b0,#20c1b1,#1fc0b2,#1ec0b2,#1ec0b2,#1ec0b2,#1cc0b3,#1cc0b3,#1ec0b2,#1ec0b2,#1dc0b3,#1cc0b4,#1cc0b3,#1ec0b2,#1fc0b2,#1ec0b2,#1dc0b3,#1bc0b4,#1bc0b4,#1bc0b4,#1dc0b3,#1ec0b2,#1fc0b2,#1fc0b1,#1fc1b1,#1fc1b1,#1fc0b1,#1fc0b2,#1fc0b2,#1ec0b2,#1ec0b2,#1ec0b2,#1ec0b2,#1ec0b2,#1ec0b2,#1ec0b2,#1ec0b2,#1ec0b2,#1ec0b2,#1ec0b2,#1ec0b2,#1ec0b2,#1dc0b3,#1ec0b2,#1fc1b1,#1fc0b2,#1cc0b4,#1ac0b5,#1fc1b1,#26c2ad,#24c1af,#15bfb7,#0dbdbc,#1fc0b2,#30c5a2,#2ec4a4,#0bbdbd,#02b7cb,#14beb8,#3eca8f,#3fca8e,#01b9c8,#23a0e5,#04b6cd,#90ca4d,#c4c22b,#04bbc2,#4366fd,#2b92ee,#bac430,#fec934,#27c2ab,#4660fc,#2d88f6,#76cc61,#dabd28,#33c79d,#249fe5,#1babde,#2ec4a4,#41ca8c,#35c79a,#35c79a)"></div><div style="top:150px;height:2.6px;background:linear-gradient(90deg,#1dc0b3,#1dc0b3,#1dc0b3,#1dc0b3,#1ec0b2,#1ec0b2,#1fc1b1,#21c1b0,#21c1b0,#21c1b0,#21c1b0,#20c1b1,#1ec0b2,#1dc0b3,#1ec0b2,#1ec0b2,#1dc0b3,#1cc0b3,#1dc0b3,#1ec0b2,#1ec0b2,#1dc0b3,#1cc0b4,#1cc0b4,#1dc0b3,#1ec0b2,#1fc0b2,#1ec0b2,#1dc0b3,#1cc0b4,#1bc0b4,#1bc0b4,#1bc0b4,#1cc0b4,#1cc0b3,#1dc0b3,#1dc0b3,#1ec0b2,#1ec0b2,#1ec0b2,#1ec0b2,#1ec0b2,#1ec0b2,#1ec0b2,#1ec0b2,#1fc0b2,#1ec0b2,#1ec0b2,#1fc0b2,#1fc0b2,#1fc0b2,#1ec0b2,#1ec0b2,#1fc0b2,#20c1b1,#1fc0b2,#1cc0b4,#1bc0b4,#20c1b1,#26c2ad,#22c1b0,#13beb8,#0dbdbc,#20c1b1,#2fc5a3,#2ac3a9,#05bbc1,#04b6cc,#17bfb6,#3fca8e,#3ac994,#02b7cb,#22a2e4,#07bcc0,#9fc941,#adc638,#11b1d6,#4562fc,#23a0e5,#dbbd28,#fec338,#04bbc2,#475af9,#2a93ee,#95ca49,#d6be28,#28c3aa,#259ce7,#17aedb,#33c69e,#41ca8c,#33c69d,#33c69d)"></div><div style="top:152px;height:2.6px;background:linear-gradient(90deg,#1dc0b3,#1dc0b3,#1dc0b3,#1ec0b2,#1ec0b2,#1fc0b2,#20c1b1,#21c1b0,#21c1b0,#20c1b1,#20c1b1,#1fc1b1,#1ec0b2,#1dc0b3,#1dc0b3,#1ec0b2,#1ec0b2,#1dc0b3,#1cc0b3,#1dc0b3,#1ec0b2,#1ec0b2,#1dc0b3,#1cc0b4,#1cc0b4,#1cc0b3,#1dc0b3,#1ec0b2,#1fc0b2,#1ec0b2,#1ec0b2,#1dc0b3,#1cc0b3,#1cc0b4,#1bc0b4,#1bc0b4,#1bc0b4,#1bc0b4,#1bc0b4,#1bc0b4,#1bc0b4,#1bc0b4,#1bc0b4,#1bc0b4,#1bc0b4,#1bc0b4,#1bc0b4,#1bc0b4,#1bc0b4,#1bc0b4,#1bc0b4,#1bc0b4,#1bc0b4,#1cc0b4,#1cc0b3,#1bc0b4,#18bfb6,#18bfb6,#1ec0b2,#23c1af,#1ec0b2,#0ebdbb,#0bbdbd,#21c1b1,#2ec5a3,#27c2ac,#02bac4,#02b7cb,#1fc1b1,#44cb8a,#39c895,#04b6cd,#1fa5e2,#18bfb6,#a3c83f,#8fcb4e,#1ea7e1,#4564fd,#16afda,#f1ba37,#fabb3d,#12b1d7,#4756f7,#249fe5,#b2c535,#cdc028,#13beb8,#2699e9,#11b1d6,#37c897,#40ca8d,#31c6a0,#31c6a0)"></div><div style="top:154px;height:2.6px;background:linear-gradient(90deg,#1dc0b3,#1dc0b3,#1dc0b3,#1ec0b2,#1fc0b2,#20c1b1,#20c1b1,#21c1b0,#21c1b0,#20c1b1,#1fc0b2,#1fc0b2,#1ec0b2,#1dc0b3,#1cc0b3,#1dc0b3,#1ec0b2,#1dc0b3,#1cc0b3,#1cc0b3,#1dc0b3,#1ec0b2,#1ec0b2,#1dc0b2,#1cc0b3,#1cc0b4,#1cc0b4,#1cc0b3,#1dc0b3,#1ec0b2,#1ec0b2,#1fc0b2,#1fc0b2,#1ec0b2,#1ec0b2,#1ec0b2,#1ec0b2,#1ec0b2,#1dc0b3,#1dc0b3,#1dc0b3,#1dc0b3,#1dc0b3,#1dc0b3,#1dc0b3,#1dc0b3,#1dc0b3,#1dc0b3,#1dc0b3,#1dc0b3,#1dc0b3,#1dc0b3,#1dc0b3,#1ec0b2,#1ec0b2,#1dc0b3,#1ac0b5,#1ac0b4,#20c1b1,#25c2ae,#1ec0b2,#10beba,#10beba,#26c2ad,#30c5a2,#26c2ad,#02bac5,#01b8c9,#28c2ab,#4acb85,#36c799,#0ab4d2,#1fa6e1,#24c1af,#a4c83e,#73cd63,#249ee6,#4269fe,#01bac5,#febe3c,#e7bb2e,#22a2e4,#4755f6,#19acdc,#cbc129,#c0c32d,#01b9c6,#2797ea,#07b5cf,#3dca90,#3eca8f,#2ec4a4,#2ec4a4)"></div><div style="top:156px;height:2.6px;background:linear-gradient(90deg,#1ec0b2,#1ec0b2,#1ec0b2,#1ec0b2,#1fc1b1,#20c1b1,#21c1b0,#21c1b0,#21c1b0,#20c1b1,#1ec0b2,#1ec0b2,#1ec0b2,#1dc0b3,#1dc0b3,#1cc0b3,#1dc0b3,#1ec0b2,#1dc0b3,#1cc0b3,#1cc0b3,#1cc0b3,#1dc0b3,#1ec0b2,#1ec0b2,#1dc0b3,#1dc0b3,#1cc0b3,#1cc0b4,#1cc0b4,#1cc0b4,#1cc0b3,#1dc0b3,#1dc0b3,#1dc0b3,#1ec0b2,#1ec0b2,#1ec0b2,#1ec0b2,#1ec0b2,#1ec0b2,#1ec0b2,#1ec0b2,#1ec0b2,#1ec0b2,#1ec0b2,#1ec0b2,#1ec0b2,#1fc0b2,#1fc0b2,#1ec0b2,#1ec0b2,#1ec0b2,#1fc1b1,#20c1b1,#1ec0b2,#1bc0b4,#1cc0b3,#23c1af,#25c2ad,#1ec0b2,#10beba,#13beb9,#27c2ab,#2fc5a3,#20c1b1,#01b9c7,#01b9c6,#2dc4a5,#4bcb83,#30c5a2,#15afd9,#1ea7e1,#2dc4a6,#aac73a,#5ccc75,#2995ec,#3e70ff,#24c2ae,#fec537,#c9c129,#2b92ee,#4757f7,#01b8ca,#ddbd29,#acc739,#0db3d3,#2797eb,#01b9c7,#45cb89,#3cc992,#2bc3a8,#2bc3a8)"></div><div style="top:158px;height:2.6px;background:linear-gradient(90deg,#1ec0b2,#1ec0b2,#1ec0b2,#1fc0b2,#20c1b1,#21c1b0,#21c1b0,#21c1b0,#20c1b1,#1fc1b1,#1ec0b2,#1dc0b3,#1dc0b3,#1dc0b2,#1dc0b3,#1cc0b3,#1cc0b3,#1dc0b3,#1ec0b2,#1dc0b3,#1dc0b3,#1cc0b3,#1cc0b3,#1dc0b3,#1dc0b3,#1ec0b2,#1ec0b2,#1ec0b2,#1dc0b3,#1dc0b3,#1cc0b3,#1cc0b3,#1cc0b4,#1cc0b4,#1bc0b4,#1cc0b4,#1cc0b4,#1cc0b4,#1cc0b4,#1cc0b4,#1cc0b4,#1cc0b4,#1cc0b4,#1cc0b4,#1cc0b4,#1cc0b4,#1cc0b4,#1cc0b4,#1cc0b3,#1cc0b3,#1cc0b4,#1bc0b4,#1cc0b4,#1dc0b3,#1dc0b3,#1bc0b4,#19bfb5,#1bc0b4,#21c1b1,#22c1af,#19bfb5,#0cbdbc,#12beb9,#27c2ab,#2dc4a5,#1bc0b4,#01b9c7,#04bbc1,#32c69f,#49cb85,#27c2ac,#1babde,#1ca9e0,#37c897,#b0c636,#44cb8a,#2d8bf4,#3578fd,#3bc993,#feca33,#9ec942,#2f81fa,#465dfa,#1ec0b2,#eaba31,#91ca4d,#1babde,#2798ea,#09bcbe,#4ccb83,#38c896,#26c2ad,#26c2ad)"></div><div style="top:160px;height:2.6px;background:linear-gradient(90deg,#1fc0b2,#1fc0b2,#1fc0b2,#1fc1b1,#21c1b1,#21c1b0,#21c1b0,#20c1b1,#1fc1b1,#1fc0b2,#1ec0b2,#1dc0b3,#1dc0b3,#1dc0b3,#1dc0b3,#1dc0b3,#1cc0b3,#1cc0b3,#1dc0b3,#1ec0b2,#1ec0b2,#1dc0b3,#1cc0b3,#1cc0b3,#1cc0b3,#1cc0b3,#1dc0b3,#1ec0b2,#1ec0b2,#1ec0b2,#1ec0b2,#1ec0b2,#1ec0b2,#1ec0b2,#1dc0b3,#1dc0b3,#1dc0b3,#1dc0b3,#1dc0b3,#1dc0b3,#1dc0b3,#1cc0b3,#1cc0b3,#1cc0b3,#1cc0b3,#1cc0b3,#1cc0b3,#1cc0b3,#1cc0b3,#1cc0b3,#1cc0b3,#1cc0b3,#1cc0b3,#1dc0b3,#1dc0b3,#1bc0b4,#19bfb5,#1cc0b4,#21c1b0,#22c1b0,#18bfb6,#0dbdbc,#17bfb6,#2bc3a8,#2fc5a3,#1ac0b4,#01b9c6,#0bbdbd,#35c79b,#42ca8b,#18bfb6,#1da8e0,#16afd9,#4acb84,#b0c636,#31c6a0,#2f82fa,#2e83f9,#63cd6f,#fdcc32,#69cd6b,#3d70ff,#4367fd,#38c896,#f2ba38,#6ecd66,#22a2e4,#269ae9,#1cc0b3,#52cc7e,#34c79b,#1fc0b2,#1fc0b2)"></div><div style="top:162px;height:2.6px;background:linear-gradient(90deg,#1fc1b1,#1fc1b1,#1fc1b1,#20c1b1,#21c1b0,#21c1b0,#21c1b0,#20c1b1,#1fc0b2,#1ec0b2,#1ec0b2,#1dc0b3,#1dc0b3,#1dc0b3,#1dc0b3,#1dc0b3,#1dc0b3,#1cc0b3,#1cc0b3,#1dc0b3,#1dc0b3,#1ec0b2,#1ec0b2,#1dc0b3,#1dc0b3,#1cc0b3,#1cc0b3,#1cc0b3,#1cc0b3,#1dc0b3,#1dc0b3,#1dc0b3,#1dc0b3,#1ec0b2,#1ec0b2,#1ec0b2,#1ec0b2,#1ec0b2,#1ec0b2,#1ec0b2,#1ec0b2,#1ec0b2,#1ec0b2,#1ec0b2,#1ec0b2,#1ec0b2,#1ec0b2,#1ec0b2,#1ec0b2,#1ec0b2,#1ec0b2,#1dc0b3,#1ec0b2,#1fc0b2,#1ec0b2,#1cc0b3,#1bc0b4,#1ec0b2,#23c1af,#23c1af,#19bfb5,#11beba,#1ec0b2,#2ec4a4,#2ec5a4,#14bfb8,#01b9c8,#0dbdbc,#35c79a,#3cc992,#09bcbe,#1ea7e1,#08b5d0,#61cd71,#a8c73b,#1ac0b4,#347afd,#2b91ef,#96ca48,#fec934,#39c895,#4562fc,#3875fe,#61cd71,#f4ba3a,#4bcb84,#269ae9,#249ee6,#2bc3a8,#56cc7b,#30c5a1,#16bfb7,#16bfb7)"></div><div style="top:164px;height:2.6px;background:linear-gradient(90deg,#20c1b1,#20c1b1,#20c1b1,#21c1b0,#21c1b0,#21c1b0,#20c1b1,#1fc0b1,#1ec0b2,#1dc0b3,#1dc0b3,#1dc0b3,#1dc0b3,#1dc0b3,#1dc0b3,#1dc0b3,#1dc0b3,#1dc0b3,#1dc0b3,#1cc0b3,#1cc0b3,#1dc0b3,#1dc0b3,#1ec0b2,#1ec0b2,#1dc0b3,#1dc0b3,#1dc0b3,#1cc0b3,#1cc0b3,#1cc0b3,#1cc0b3,#1cc0b3,#1cc0b3,#1cc0b3,#1cc0b3,#1cc0b3,#1cc0b3,#1cc0b3,#1cc0b3,#1cc0b3,#1cc0b3,#1cc0b3,#1dc0b3,#1dc0b3,#1cc0b3,#1cc0b3,#1dc0b3,#1dc0b3,#1dc0b3,#1cc0b3,#1cc0b3,#1dc0b3,#1dc0b3,#1dc0b3,#1bc0b4,#1ac0b4,#1ec0b2,#24c1af,#22c1b0,#17bfb6,#11beb9,#20c1b1,#2dc4a5,#2ac3a9,#08bcbe,#02b7cb,#12beb9,#37c897,#38c896,#02bac4,#1da8e0,#01bac6,#74cc62,#97ca48,#01b8c8,#3974fe,#23a0e5,#c3c22b,#fec239,#16bfb7,#4758f8,#2e87f7,#95ca49,#f1ba37,#32c69f,#2a92ee,#21a4e3,#34c79b,#57cc7a,#2cc4a7,#0cbdbc,#0cbdbc)"></div><div style="top:166px;height:2.6px;background:linear-gradient(90deg,#20c1b1,#20c1b1,#20c1b1,#21c1b0,#21c1b0,#20c1b1,#20c1b1,#1fc0b2,#1ec0b2,#1dc0b3,#1dc0b3,#1dc0b3,#1dc0b3,#1dc0b3,#1dc0b3,#1dc0b3,#1dc0b3,#1dc0b3,#1dc0b3,#1dc0b3,#1dc0b3,#1cc0b3,#1cc0b3,#1dc0b3,#1dc0b3,#1dc0b3,#1ec0b2,#1ec0b2,#1ec0b2,#1ec0b2,#1dc0b3,#1dc0b3,#1dc0b3,#1dc0b3,#1dc0b3,#1dc0b3,#1dc0b3,#1cc0b3,#1cc0b3,#1cc0b3,#1cc0b3,#1cc0b3,#1cc0b3,#1cc0b3,#1cc0b3,#1cc0b3,#1cc0b3,#1cc0b3,#1cc0b3,#1cc0b3,#1dc0b3,#1dc0b3,#1ec0b2,#1fc0b2,#1ec0b2,#1cc0b3,#1cc0b3,#20c1b1,#24c2ae,#20c1b1,#15bfb8,#10beba,#20c1b1,#2cc4a7,#24c2ae,#04bbc2,#01b8c8,#1fc0b2,#3dc991,#35c79a,#01b8ca,#1ca9df,#10beba,#85cb56,#80cc59,#16afda,#3a74fe,#15afd8,#e3bc2c,#f6ba3c,#10b2d5,#4852f4,#269ae8,#c2c22c,#e8bb2e,#15bfb7,#2d8df2,#1babde,#40ca8d,#56cc7b,#25c2ae,#05bbc1,#05bbc1)"></div><div style="top:168px;height:2.6px;background:linear-gradient(90deg,#21c1b0,#21c1b0,#21c1b0,#21c1b0,#21c1b0,#20c1b1,#1fc0b2,#1ec0b2,#1ec0b2,#1dc0b3,#1dc0b3,#1dc0b3,#1dc0b3,#1dc0b3,#1dc0b3,#1dc0b3,#1dc0b3,#1dc0b3,#1dc0b3,#1dc0b3,#1dc0b3,#1dc0b3,#1dc0b3,#1cc0b3,#1cc0b3,#1cc0b3,#1dc0b3,#1dc0b3,#1dc0b3,#1dc0b3,#1dc0b3,#1ec0b2,#1ec0b2,#1ec0b2,#1ec0b2,#1ec0b2,#1ec0b2,#1ec0b2,#1ec0b2,#1ec0b2,#1ec0b2,#1ec0b2,#1ec0b2,#1ec0b2,#1ec0b2,#1ec0b2,#1ec0b2,#1ec0b2,#1ec0b2,#1ec0b2,#1fc0b1,#1fc1b1,#20c1b1,#20c1b1,#1fc0b2,#1dc0b3,#1dc0b3,#21c1b0,#23c1af,#1dc0b3,#11beba,#10beba,#23c1af,#2cc4a6,#22c1b0,#03bbc2,#02bac4,#28c3ab,#3fca8e,#30c5a2,#08b4d1,#1aabdd,#26c2ad,#90ca4d,#62cd70,#21a3e3,#3777fe,#07bcc0,#f8ba3d,#dabd28,#249ee6,#4851f3,#17aeda,#e3bc2c,#d4bf28,#05b6ce,#2d89f5,#0eb2d4,#50cc7f,#50cc7f,#1abfb5,#01bac5,#01bac5)"></div><div style="top:170px;height:2.6px;background:linear-gradient(90deg,#21c1b0,#21c1b0,#21c1b0,#21c1b0,#20c1b1,#1fc1b1,#1ec0b2,#1ec0b2,#1dc0b3,#1dc0b3,#1dc0b3,#1dc0b3,#1dc0b3,#1dc0b3,#1dc0b3,#1dc0b3,#1dc0b3,#1dc0b3,#1dc0b3,#1dc0b3,#1dc0b3,#1dc0b3,#1dc0b3,#1dc0b3,#1dc0b3,#1dc0b3,#1cc0b3,#1cc0b3,#1cc0b3,#1cc0b3,#1cc0b3,#1cc0b3,#1cc0b3,#1dc0b3,#1dc0b3,#1dc0b3,#1dc0b3,#1dc0b3,#1dc0b3,#1dc0b3,#1dc0b3,#1dc0b3,#1dc0b3,#1dc0b3,#1dc0b3,#1dc0b3,#1dc0b3,#1dc0b3,#1dc0b3,#1dc0b3,#1cc0b3,#1cc0b3,#1dc0b3,#1dc0b3,#1bc0b4,#19bfb5,#1abfb5,#1ec0b2,#20c1b1,#19bfb5,#0fbebb,#13beb8,#26c2ad,#2cc4a6,#1ec0b2,#02bac4,#04bbc2,#2dc4a6,#3eca8f,#28c2ab,#12b1d6,#17aeda,#32c69e,#95ca49,#44cb8a,#2797eb,#307ffb,#30c5a1,#fec13a,#acc738,#2d88f6,#4756f7,#0bbdbd,#f7ba3c,#b4c534,#1ca9df,#2d89f5,#01b9c6,#60cd72,#48cb86,#0cbdbc,#01b8c9,#01b8c9)"></div><div style="top:172px;height:2.6px;background:linear-gradient(90deg,#21c1b0,#21c1b0,#21c1b0,#21c1b1,#20c1b1,#1fc0b2,#1ec0b2,#1dc0b3,#1dc0b3,#1dc0b3,#1dc0b3,#1dc0b3,#1dc0b3,#1dc0b3,#1dc0b3,#1dc0b3,#1dc0b3,#1dc0b3,#1dc0b3,#1dc0b3,#1dc0b3,#1dc0b3,#1dc0b3,#1dc0b3,#1dc0b3,#1dc0b3,#1dc0b3,#1dc0b3,#1dc0b3,#1dc0b3,#1dc0b3,#1dc0b3,#1dc0b3,#1dc0b3,#1dc0b3,#1cc0b3,#1cc0b3,#1cc0b3,#1cc0b3,#1cc0b3,#1cc0b3,#1cc0b3,#1cc0b3,#1cc0b3,#1cc0b3,#1cc0b3,#1cc0b3,#1cc0b3,#1cc0b3,#1cc0b3,#1ac0b5,#1ac0b4,#1bc0b4,#1bc0b4,#1abfb5,#19bfb6,#1ac0b4,#1fc0b2,#20c1b1,#19bfb5,#10beba,#18bfb6,#28c3aa,#2cc4a7,#18bfb6,#01bac5,#09bdbe,#31c6a1,#3cc992,#1cc0b3,#16afd9,#0db3d3,#3fca8e,#93ca4b,#30c5a2,#2d8df2,#2d8bf4,#58cc79,#fec438,#6acd6a,#3c71ff,#4562fc,#37c897,#febf3b,#84cb56,#259be8,#2d8df2,#1ac0b5,#6ccd68,#3dca90,#02bbc3,#03b7cc,#03b7cc)"></div><div style="top:174px;height:2.6px;background:linear-gradient(90deg,#21c1b0,#21c1b0,#21c1b0,#20c1b1,#1fc0b1,#1ec0b2,#1ec0b2,#1dc0b3,#1dc0b3,#1dc0b3,#1dc0b3,#1dc0b3,#1dc0b3,#1dc0b3,#1dc0b3,#1dc0b3,#1dc0b3,#1dc0b3,#1dc0b3,#1dc0b3,#1dc0b3,#1dc0b3,#1dc0b3,#1dc0b3,#1dc0b3,#1dc0b3,#1dc0b3,#1dc0b3,#1dc0b3,#1dc0b3,#1dc0b3,#1dc0b3,#1dc0b3,#1dc0b3,#1dc0b3,#1dc0b3,#1dc0b3,#1dc0b3,#1dc0b3,#1dc0b3,#1dc0b3,#1dc0b3,#1dc0b3,#1dc0b3,#1dc0b3,#1dc0b3,#1dc0b3,#1dc0b3,#1dc0b3,#1dc0b3,#1cc0b3,#1dc0b3,#1dc0b3,#1dc0b3,#1cc0b3,#1bc0b4,#1ec0b2,#22c1b0,#21c1b0,#19bfb5,#13beb9,#1dc0b3,#2ac3a8,#2ac3a9,#12beb9,#01bac5,#12beb9,#34c79b,#38c896,#0dbdbc,#18aedb,#01b8ca,#53cc7d,#88cb53,#14beb8,#2e85f8,#269ae8,#92ca4c,#fec13a,#33c69d,#465ffb,#3975fe,#74cd62,#fec13a,#4dcc82,#2d8df2,#2994ed,#30c5a1,#74cd62,#34c79b,#01b8c9,#05b6cd,#05b6cd)"></div><div style="top:176px;height:2.6px;background:linear-gradient(90deg,#20c1b1,#20c1b1,#20c1b1,#1fc1b1,#1ec0b2,#1ec0b2,#1dc0b3,#1dc0b3,#1dc0b3,#1dc0b3,#1dc0b3,#1dc0b3,#1dc0b3,#1dc0b3,#1dc0b3,#1dc0b3,#1dc0b3,#1dc0b3,#1dc0b3,#1dc0b3,#1dc0b3,#1dc0b3,#1dc0b3,#1dc0b3,#1dc0b3,#1dc0b3,#1dc0b3,#1dc0b3,#1dc0b3,#1dc0b3,#1dc0b3,#1dc0b3,#1dc0b3,#1dc0b3,#1dc0b3,#1dc0b3,#1dc0b3,#1dc0b3,#1dc0b3,#1dc0b3,#1dc0b3,#1dc0b3,#1dc0b3,#1dc0b3,#1dc0b3,#1dc0b3,#1dc0b3,#1dc0b3,#1dc0b3,#1dc0b3,#1dc0b3,#1ec0b2,#1ec0b2,#1ec0b2,#1cc0b3,#1cc0b4,#1fc0b2,#22c1b0,#20c1b1,#17bfb6,#13beb8,#1fc0b1,#2bc3a8,#27c2ac,#0bbdbd,#02bac5,#1bc0b4,#36c898,#34c79c,#02bac4,#18addb,#08bcbf,#66cd6d,#74cc62,#04b6cd,#2f82fa,#1babde,#c3c22b,#f6ba3b,#01bac5,#4854f5,#2c8ef2,#b7c531,#fdbd3d,#29c3a9,#2f82f9,#249ee6,#42ca8b,#74cc62,#2cc4a7,#05b6ce,#05b6ce,#05b6ce)"></div><div style="top:178px;height:2.6px;background:linear-gradient(90deg,#20c1b1,#20c1b1,#20c1b1,#1fc0b2,#1ec0b2,#1dc0b3,#1dc0b3,#1dc0b3,#1dc0b3,#1dc0b3,#1dc0b3,#1dc0b3,#1dc0b3,#1dc0b3,#1dc0b3,#1dc0b3,#1dc0b3,#1dc0b3,#1dc0b3,#1dc0b3,#1dc0b3,#1dc0b3,#1dc0b3,#1dc0b3,#1dc0b3,#1dc0b3,#1dc0b3,#1dc0b3,#1dc0b3,#1dc0b3,#1dc0b3,#1dc0b3,#1dc0b3,#1dc0b3,#1dc0b3,#1dc0b3,#1dc0b3,#1dc0b3,#1dc0b3,#1dc0b3,#1dc0b3,#1dc0b3,#1dc0b3,#1dc0b3,#1dc0b3,#1dc0b3,#1dc0b3,#1dc0b3,#1cc0b3,#1cc0b3,#1dc0b3,#1dc0b3,#1dc0b3,#1dc0b3,#1bc0b4,#1bc0b4,#1ec0b2,#21c1b0,#1dc0b3,#15bfb8,#14beb8,#22c1b0,#2bc3a8,#23c1af,#07bcc0,#02bbc3,#24c1ae,#38c896,#2ec5a3,#02b7cb,#15afd9,#1fc1b1,#74cd62,#5acc77,#1aabdd,#2e83f9,#01bac5,#e4bb2c,#dabd28,#1fa5e2,#4850f3,#1ea7e1,#e7bb2e,#edba33,#02b7ca,#327bfc,#1babde,#60cd73,#6dcd67,#1dc0b3,#09b4d1,#04b6cd,#04b6cd)"></div><div style="top:180px;height:2.6px;background:linear-gradient(90deg,#1fc1b1,#1fc1b1,#1fc1b1,#1ec0b2,#1ec0b2,#1dc0b3,#1dc0b3,#1dc0b3,#1dc0b3,#1dc0b3,#1dc0b3,#1dc0b3,#1dc0b3,#1dc0b3,#1dc0b3,#1dc0b3,#1dc0b3,#1dc0b3,#1dc0b3,#1dc0b3,#1dc0b3,#1dc0b3,#1dc0b3,#1dc0b3,#1dc0b3,#1dc0b3,#1dc0b3,#1dc0b3,#1dc0b3,#1dc0b3,#1dc0b3,#1dc0b3,#1dc0b3,#1dc0b3,#1dc0b3,#1dc0b3,#1dc0b3,#1dc0b3,#1dc0b3,#1dc0b3,#1dc0b3,#1dc0b3,#1dc0b3,#1dc0b3,#1dc0b3,#1dc0b3,#1dc0b3,#1dc0b3,#1dc0b3,#1dc0b3,#1dc0b3,#1dc0b3,#1dc0b3,#1dc0b3,#1bc0b4,#1cc0b3,#1fc0b2,#21c1b0,#1cc0b3,#14bfb8,#16bfb7,#24c1ae,#2bc3a8,#1fc1b1,#05bbc1,#06bcc0,#29c3aa,#39c895,#29c3a9,#07b5cf,#11b1d6,#2cc4a6,#7acc5e,#44cb89,#21a2e4,#2d88f6,#25c2ae,#f2ba38,#b5c533,#2a92ee,#4853f5,#01b8ca,#fbbc3d,#d5be28,#1babde,#347afd,#08b4d1,#75cc61,#63cd70,#0cbdbc,#0cb3d3,#02b7cb,#02b7cb)"></div><div style="top:182px;height:2.6px;background:linear-gradient(90deg,#1fc1b1,#1fc1b1,#1fc1b1,#1ec0b2,#1ec0b2,#1dc0b3,#1dc0b3,#1dc0b3,#1dc0b3,#1dc0b3,#1dc0b3,#1dc0b3,#1dc0b3,#1dc0b3,#1dc0b3,#1dc0b3,#1dc0b3,#1dc0b3,#1dc0b3,#1dc0b3,#1dc0b3,#1dc0b3,#1dc0b3,#1dc0b3,#1dc0b3,#1dc0b3,#1dc0b3,#1dc0b3,#1dc0b3,#1dc0b3,#1dc0b3,#1dc0b3,#1dc0b3,#1dc0b3,#1dc0b3,#1dc0b3,#1dc0b3,#1dc0b3,#1dc0b3,#1dc0b3,#1dc0b3,#1dc0b3,#1dc0b3,#1dc0b3,#1dc0b3,#1dc0b3,#1dc0b3,#1dc0b3,#1dc0b3,#1dc0b3,#1dc0b3,#1dc0b3,#1dc0b3,#1dc0b3,#1bc0b4,#1cc0b3,#1fc0b2,#21c1b0,#1cc0b3,#14bfb8,#16bfb7,#24c1ae,#2bc3a8,#1fc1b1,#05bbc1,#06bcc0,#29c3aa,#39c895,#29c3a9,#07b5cf,#11b1d6,#2cc4a6,#7acc5e,#44cb89,#21a2e4,#2d88f6,#25c2ae,#f2ba38,#b5c533,#2a92ee,#4853f5,#01b8ca,#fbbc3d,#d5be28,#1babde,#347afd,#08b4d1,#75cc61,#63cd70,#0cbdbc,#0cb3d3,#02b7cb,#02b7cb)"></div><div style="top:184px;height:1.1px;background:linear-gradient(90deg,#1fc1b1,#1fc1b1,#1fc1b1,#1ec0b2,#1ec0b2,#1dc0b3,#1dc0b3,#1dc0b3,#1dc0b3,#1dc0b3,#1dc0b3,#1dc0b3,#1dc0b3,#1dc0b3,#1dc0b3,#1dc0b3,#1dc0b3,#1dc0b3,#1dc0b3,#1dc0b3,#1dc0b3,#1dc0b3,#1dc0b3,#1dc0b3,#1dc0b3,#1dc0b3,#1dc0b3,#1dc0b3,#1dc0b3,#1dc0b3,#1dc0b3,#1dc0b3,#1dc0b3,#1dc0b3,#1dc0b3,#1dc0b3,#1dc0b3,#1dc0b3,#1dc0b3,#1dc0b3,#1dc0b3,#1dc0b3,#1dc0b3,#1dc0b3,#1dc0b3,#1dc0b3,#1dc0b3,#1dc0b3,#1dc0b3,#1dc0b3,#1dc0b3,#1dc0b3,#1dc0b3,#1dc0b3,#1bc0b4,#1cc0b3,#1fc0b2,#21c1b0,#1cc0b3,#14bfb8,#16bfb7,#24c1ae,#2bc3a8,#1fc1b1,#05bbc1,#06bcc0,#29c3aa,#39c895,#29c3a9,#07b5cf,#11b1d6,#2cc4a6,#7acc5e,#44cb89,#21a2e4,#2d88f6,#25c2ae,#f2ba38,#b5c533,#2a92ee,#4853f5,#01b8ca,#fbbc3d,#d5be28,#1babde,#347afd,#08b4d1,#75cc61,#63cd70,#0cbdbc,#0cb3d3,#02b7cb,#02b7cb)"></div></div></div>
<div style="position:absolute;left:235.3px;top:5.9px;width:11.1px;height:176.5px;background:linear-gradient(180deg,#f9fb15,#f5ef20,#f5e227,#fad52d,#fec934,#fdbd3d,#eeba34,#dabd28,#c2c22c,#a7c73c,#8bcb51,#6dcd68,#52cc7e,#3cc992,#2fc5a3,#1ec0b2,#06bcc0,#05b6cd,#15afd9,#1ea6e1,#259de7,#2a93ed,#2d88f6,#317dfc,#3d71ff,#4464fd,#4759f8,#484df1,#4742e6,#4537d6,#422ec0,#3e26a8)"></div>
<div style="position:absolute;left:504.1px;top:5.9px;width:11.1px;height:176.5px;background:linear-gradient(180deg,#f9fb15,#f5ef20,#f5e227,#fad52d,#fec934,#fdbd3d,#eeba34,#dabd28,#c2c22c,#a7c73c,#8bcb51,#6dcd68,#52cc7e,#3cc992,#2fc5a3,#1ec0b2,#06bcc0,#05b6cd,#15afd9,#1ea6e1,#259de7,#2a93ed,#2d88f6,#317dfc,#3d71ff,#4464fd,#4759f8,#484df1,#4742e6,#4537d6,#422ec0,#3e26a8)"></div>
<svg width="533" height="241" viewBox="0 0 533 241"><path d="M32.9 5.9H229.8V182.4H32.9Z" fill="none" stroke="#575757" stroke-width="1"/><text class="t" x="41.8" y="193" text-anchor="middle">0</text><text class="t" x="71.3" y="193" text-anchor="middle">20</text><text class="t" x="100.8" y="193" text-anchor="middle">40</text><text class="t" x="130.3" y="193" text-anchor="middle">60</text><text class="t" x="159.8" y="193" text-anchor="middle">80</text><text class="t" x="189.3" y="193" text-anchor="middle">100</text><text class="t" x="218.8" y="193" text-anchor="middle">120</text><text class="t" x="28.7" y="156.6" text-anchor="end">20</text><text class="t" x="28.7" y="127.1" text-anchor="end">40</text><text class="t" x="28.7" y="97.6" text-anchor="end">60</text><text class="t" x="28.7" y="68.1" text-anchor="end">80</text><text class="t" x="28.7" y="38.6" text-anchor="end">100</text><text class="t" x="28.7" y="10.1" text-anchor="end">120</text><path d="M41.8 182.4v-2M41.8 5.9v2M71.3 182.4v-2M71.3 5.9v2M100.8 182.4v-2M100.8 5.9v2M130.3 182.4v-2M130.3 5.9v2M159.8 182.4v-2M159.8 5.9v2M189.3 182.4v-2M189.3 5.9v2M218.8 182.4v-2M218.8 5.9v2M32.9 153.8h2M229.8 153.8h-2M32.9 124.3h2M229.8 124.3h-2M32.9 94.8h2M229.8 94.8h-2M32.9 65.3h2M229.8 65.3h-2M32.9 35.8h2M229.8 35.8h-2M32.9 6.3h2M229.8 6.3h-2" stroke="#575757" stroke-width="1" fill="none"/><path d="M235.3 5.9H246.4V182.4H235.3Z" fill="none" stroke="#575757" stroke-width="0.8"/><text class="c" x="248" y="9.8">1</text><text class="c" x="248" y="26.5">0.8</text><text class="c" x="248" y="44.2">0.6</text><text class="c" x="248" y="61.9">0.4</text><text class="c" x="248" y="79.6">0.2</text><text class="c" x="248" y="97.3">0</text><text class="c" x="248" y="115">-0.2</text><text class="c" x="248" y="132.7">-0.4</text><text class="c" x="248" y="150.4">-0.6</text><text class="c" x="248" y="168.1">-0.8</text><text class="c" x="248" y="186.2">-1</text><path d="M246.4 6h-1.5M246.4 23.7h-1.5M246.4 41.4h-1.5M246.4 59.1h-1.5M246.4 76.8h-1.5M246.4 94.5h-1.5M246.4 112.2h-1.5M246.4 129.9h-1.5M246.4 147.6h-1.5M246.4 165.3h-1.5M246.4 183h-1.5" stroke="#575757" stroke-width="0.8" fill="none"/><text class="l" x="132.6" y="211.2" text-anchor="middle"><tspan font-style="italic">x</tspan> (mm)</text><text class="l" transform="translate(13.2 95.2) rotate(-90)" text-anchor="middle"><tspan font-style="italic">y</tspan> (mm)</text><text class="b" x="120.5" y="237.4" text-anchor="middle">(a)</text><path d="M302.4 5.9H498.3V182.4H302.4Z" fill="none" stroke="#575757" stroke-width="1"/><text class="t" x="311.3" y="193" text-anchor="middle">0</text><text class="t" x="340.8" y="193" text-anchor="middle">20</text><text class="t" x="370.3" y="193" text-anchor="middle">40</text><text class="t" x="399.8" y="193" text-anchor="middle">60</text><text class="t" x="429.3" y="193" text-anchor="middle">80</text><text class="t" x="458.8" y="193" text-anchor="middle">100</text><text class="t" x="488.3" y="193" text-anchor="middle">120</text><text class="t" x="299.1" y="157.8" text-anchor="end">20</text><text class="t" x="299.1" y="128.3" text-anchor="end">40</text><text class="t" x="299.1" y="98.8" text-anchor="end">60</text><text class="t" x="299.1" y="69.3" text-anchor="end">80</text><text class="t" x="299.1" y="39.8" text-anchor="end">100</text><text class="t" x="299.1" y="11.3" text-anchor="end">120</text><path d="M311.3 182.4v-2M311.3 5.9v2M340.8 182.4v-2M340.8 5.9v2M370.3 182.4v-2M370.3 5.9v2M399.8 182.4v-2M399.8 5.9v2M429.3 182.4v-2M429.3 5.9v2M458.8 182.4v-2M458.8 5.9v2M488.3 182.4v-2M488.3 5.9v2M302.4 153.8h2M498.3 153.8h-2M302.4 124.3h2M498.3 124.3h-2M302.4 94.8h2M498.3 94.8h-2M302.4 65.3h2M498.3 65.3h-2M302.4 35.8h2M498.3 35.8h-2M302.4 6.3h2M498.3 6.3h-2" stroke="#575757" stroke-width="1" fill="none"/><path d="M504.1 5.9H515.2V182.4H504.1Z" fill="none" stroke="#575757" stroke-width="0.8"/><text class="c" x="516.8" y="9.8">1</text><text class="c" x="516.8" y="26.5">0.8</text><text class="c" x="516.8" y="44.2">0.6</text><text class="c" x="516.8" y="61.9">0.4</text><text class="c" x="516.8" y="79.6">0.2</text><text class="c" x="516.8" y="97.3">0</text><text class="c" x="516.8" y="115">-0.2</text><text class="c" x="516.8" y="132.7">-0.4</text><text class="c" x="516.8" y="150.4">-0.6</text><text class="c" x="516.8" y="168.1">-0.8</text><text class="c" x="516.8" y="186.2">-1</text><path d="M515.2 6h-1.5M515.2 23.7h-1.5M515.2 41.4h-1.5M515.2 59.1h-1.5M515.2 76.8h-1.5M515.2 94.5h-1.5M515.2 112.2h-1.5M515.2 129.9h-1.5M515.2 147.6h-1.5M515.2 165.3h-1.5M515.2 183h-1.5" stroke="#575757" stroke-width="0.8" fill="none"/><text class="l" x="397" y="209.9" text-anchor="middle"><tspan font-style="italic">x</tspan> (mm)</text><text class="l" transform="translate(279.2 95.8) rotate(-90)" text-anchor="middle"><tspan font-style="italic">y</tspan> (mm)</text><text class="b" x="419.2" y="237.8" text-anchor="middle">(b)</text></svg>
</div></body></html>
